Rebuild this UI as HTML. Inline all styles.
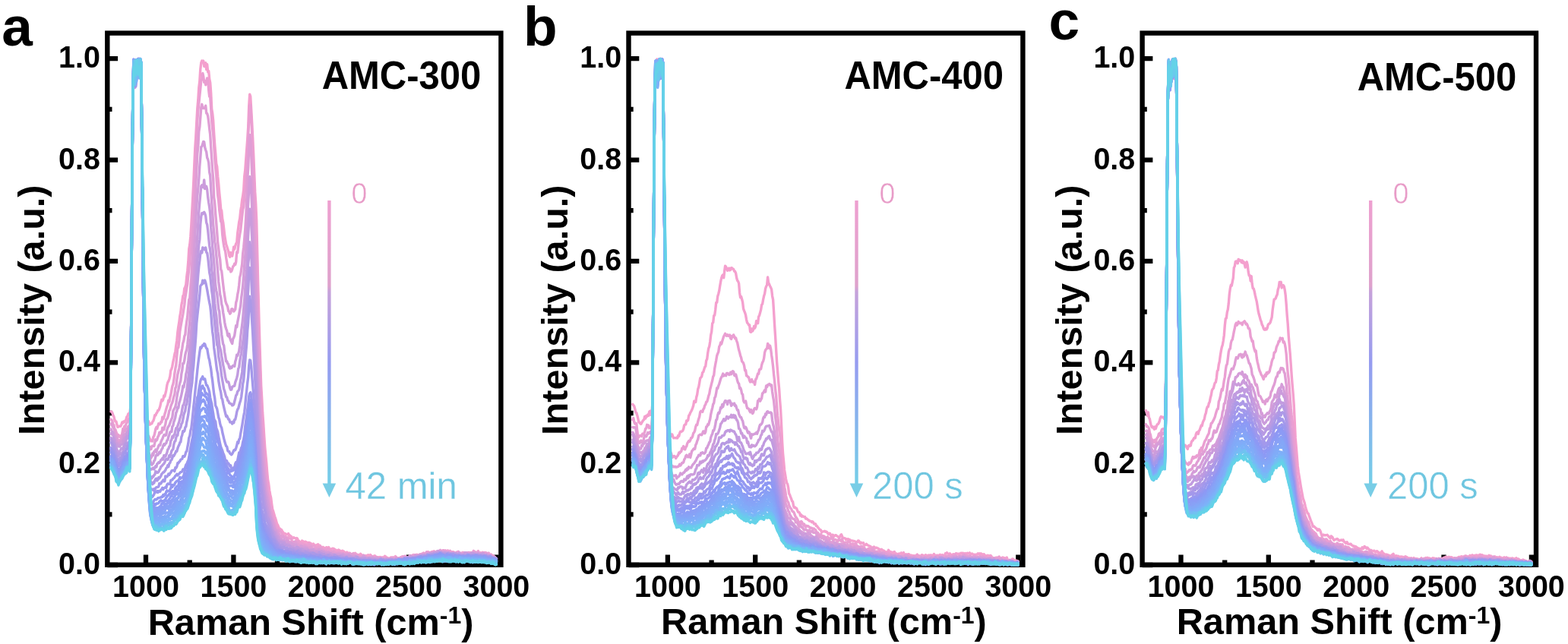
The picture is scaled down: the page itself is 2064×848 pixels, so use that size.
<!DOCTYPE html>
<html lang="en"><head><meta charset="utf-8"><title>Raman spectra of AMC-300, AMC-400 and AMC-500</title>
<style>
html,body{margin:0;padding:0;background:#fff;overflow:hidden}
svg{display:block;font-family:"Liberation Sans",sans-serif}
.c path{fill:none;stroke-width:34;stroke-linejoin:round;stroke-linecap:round}
.tl{font-size:39.5px;font-weight:700;fill:#000}
.ax{font-size:48.7px;font-weight:700;fill:#000}
.ay{font-size:48.6px}
.sup{font-size:32px}
.pl{font-size:73px;font-weight:700;fill:#000}
.ti{font-size:49px;font-weight:700;fill:#000}
.t0{font-size:37.5px;fill:#e89cc8}
.t1{font-size:49px;fill:#6fc6e0}
</style></head><body>
<svg width="2064" height="848" viewBox="0 0 2064 848">
<defs><linearGradient id="ag" x1="0" y1="0" x2="0" y2="1"><stop offset="0" stop-color="#eea0d0"/><stop offset="0.30" stop-color="#dea2cc"/><stop offset="0.32" stop-color="#c6a2da"/><stop offset="0.57" stop-color="#969cf0"/><stop offset="1" stop-color="#74cfe8"/></linearGradient></defs>
<rect width="2064" height="848" fill="#fff"/>
<g id="panel-a">
<rect x="141.3" y="43.6" width="518.1" height="700.2" fill="none" stroke="#000" stroke-width="6.4"/>
<path d="M141.3 744.0h13.8M141.3 677.3h6.2M141.3 610.6h13.8M141.3 544.0h6.2M141.3 477.3h13.8M141.3 410.6h6.2M141.3 343.9h13.8M141.3 277.2h6.2M141.3 210.6h13.8M141.3 143.9h6.2M141.3 77.2h13.8M192.0 743.8v-13.4M249.7 743.8v-6.2M307.4 743.8v-13.4M365.0 743.8v-6.2M422.7 743.8v-13.4M480.4 743.8v-6.2M538.0 743.8v-13.4M595.7 743.8v-6.2M653.4 743.8v-13.4" fill="none" stroke="#000" stroke-width="6.3"/>
<g class="c" transform="scale(.1)">
<path stroke="#f4a0ce" d="M1459 5420l10 0 10 19 10 30 10 18 10 41 10 21 10 0 10 42 10 32 10-2 10-5 9-7 10 4 10-22 10-32 10 11 10-21 10 7 10-17 10-9 10-42 10-7 10-30 10-9 10 4 10-85 10-1250 10-1592 10-1203 10-398 10-94 10 34 10-3 10-17 10 190 10-254 10 19 10-3 10 69 10-33 10 1039 10 1140 10 996 10 761 10 350 10 254 10 114 10 69 10-11 10 13 10 41 10-4 10-11 10 1 10-25 10-11 10-32 10-43 10 4 10-27 10-12 10-28 10 0 10-24 10-30 10-48 10-39 10 15 10-18 10-51 10 12 10-40 10-43 10-64 10-38 10-16 10-28 10-36 10-77 10-19 10-36 10-58 10-46 10-53 10-39 10-79 10-65 10-106 10-76 10-58 10-81 10-51 10-94 10-50 10-71 10-15 10-83 10-19 10-36 10-105 10-77 10-117 10-170 10-54 10-102 10-154 10-187 10-184 10-198 10-230 10-217 10-151 10-193 10-179 10-111 10-163 10-81 10-162 10-82 10-27 10 16 9-15 10 72 10 3 10-50 10 90 10-68 10 101 10-13 10 106 10 46 10 137 10 210 10 59 10 96 10 171 10 144 10 115 10 133 10 41 10 128 10 95 10 120 10 100 10 115 10 22 10 104 10 50 10 83 10 90 10 59 10 57 10 28 10 36 10 29 10 57 10 17 10-60 10 33 10 14 10-49 10-71 10 31 10-41 10-33 10-17 10-120 10-72 10-76 10-47 10-100 10-58 10-85 10-57 10-75 10-176 10-82 10-140 10-134 10-132 10-161 10-278 10-157 10 29 10 172 10 179 10 195 10 215 10 249 10 244 10 150 10 232 10 411 10 432 10 364 10 350 10 321 10 291 10 168 10 197 10 133 10 162 10 148 10 107 10 102 10 127 10 104 10 51 10 83 10 57 10 43 10 79 10 69 10 26 10 36 10 36 10 26 10 35 10 36 10 13 10 25 10 27 10-3 10 11 10 5 10 21 10 11 10 12 10 9 10-4 10 12 9-3 10 2 10-13 10 31 10-6 10 10 10 6 10 20 10 1 10-10 10 7 10 3 10 7 10-9 10 10 10 29 10-1 10 15 10 22 10-16 10-23 10 4 10 16 10 6 10-15 10 4 10 5 10 4 10 3 10-4 10 2 10 6 10 16 10-6 10 10 10-11 10 20 10-1 10 0 10 14 10-22 10-5 10 17 10-2 10 4 10 32 10-12 10-1 10 0 10 12 10 0 10 0 10-11 10 4 10 7 10-11 10 17 10 7 10 18 10-22 10-3 10 0 10 4 10 8 10 4 10 7 10 4 10 1 10-12 10 5 10 9 10 10 10 6 10-17 10 4 10 6 10 8 10 12 10-3 10-9 10 9 10 3 10 3 10-1 10 16 10-4 10 5 10-12 10 10 10-6 10-11 10 13 10 10 10-2 10 2 10 10 10-7 10-16 10 13 10 7 10 11 10-6 10 12 10 5 10-19 10 12 10-12 10-8 10 8 10 1 10-11 9 14 10 11 10 12 10-7 10-15 10-2 10 17 10 7 10 1 10-7 10 2 10-2 10-2 10 5 10 1 10-2 10 2 10-3 10-14 10 6 10 7 10 19 10-9 10 16 10 3 10-18 10-7 10 5 10 16 10-5 10 1 10-11 10-20 10 10 10 12 10 9 10-6 10-2 10 8 10-9 10 7 10-17 10-8 10-5 10 11 10-4 10 3 10 2 10 0 10 8 10 4 10-20 10 0 10-5 10-11 10 19 10-1 10-10 10-8 10 3 10-13 10 1 10 12 10 2 10-15 10-5 10 18 10-22 10-4 10-10 10 10 10 3 10 7 10-31 10 9 10-13 10 13 10-3 10 14 10-7 10-17 10 12 10-17 10-2 10 11 10-1 10-2 10-5 10 1 10 3 10-3 10 4 10 5 10-9 10-13 10 17 10-5 10 3 10 6 10-14 10 7 10-14 10 15 10-3 10 5 10 9 10-8 10 4 10-4 10 4 9 13 10-3 10-2 10-9 10 13 10-1 10 15 10-15 10 9 10 10 10-11 10-16 10 17 10 3 10-2 10 3 10-13 10 5 10 1 10-12 10 7 10-8 10 9 10 6 10 9 10-31 10 6 10-2 10 1 10-1 10 0 10-17 10 20 10 13 10 2 10 4 10-15 10-7 10 15 10 12 10-2 10-15 10 34 10-14 10 11 10-13 10 15 10 2 10 14 10 4 10-17 10 0 10 13 10 13 10 18 10-3"/>
<path stroke="#ea9fd2" d="M1459 5523l10 6 10 17 10 44 10 5 10 59 10 2 10 33 10 24 10 14 10 1 10 23 9 5 10-18 10 0 10-27 10-67 10 5 10-37 10 10 10-36 10-16 10-17 10-19 10-25 10 18 10-132 10-1278 10-1597 10-1203 10-383 10-70 10 71 10-73 10 149 10-193 10-39 10 40 10 2 10 115 10-110 10 1039 10 1142 10 1000 10 785 10 367 10 302 10 162 10 91 10 23 10 6 10 25 10 24 10 17 10-11 10 11 10-55 10-14 10-37 10-53 10-24 10 20 10-36 10-32 10 9 10-4 10-28 10 3 10-66 10 27 10-24 10-39 10-33 10-38 10-34 10-24 10-56 10 18 10-55 10-34 10-57 10-54 10-30 10-50 10-87 10-68 10-47 10-121 10-103 10-6 10-84 10-131 10-61 10-55 10-53 10-52 10-67 10-59 10-98 10-56 10-68 10-59 10-109 10-85 10-121 10-161 10-135 10-173 10-191 10-191 10-188 10-197 10-233 10-130 10-235 10-130 10-91 10-103 10-92 10-113 10-12 10-80 9 39 10 80 10-19 10 54 10-42 10-47 10 24 10 133 10 86 10 4 10 149 10 164 10 105 10 75 10 147 10 167 10 122 10 99 10 137 10 130 10 75 10 117 10 76 10 78 10 16 10 152 10 83 10 68 10 46 10 31 10 81 10 64 10 63 10 24 10-18 10 14 10 38 10-7 10-25 10-39 10-5 10-30 10 12 10-38 10-131 10 13 10-87 10-93 10-63 10-56 10-91 10-90 10-90 10-39 10-134 10-105 10-136 10-173 10-183 10-198 10-199 10-208 10 1 10 170 10 214 10 250 10 233 10 193 10 267 10 188 10 277 10 385 10 465 10 356 10 322 10 285 10 245 10 205 10 164 10 163 10 144 10 151 10 109 10 76 10 100 10 102 10 72 10 72 10 57 10 20 10 47 10 65 10 25 10 24 10 43 10 34 10 23 10 15 10 13 10 9 10 12 10 13 10 9 10 16 10 33 10 5 10 1 10 11 10-5 10 14 9 15 10-14 10 4 10 9 10-1 10 1 10 9 10 35 10-1 10 0 10 7 10-6 10-11 10 13 10 15 10-23 10 16 10 17 10-5 10-3 10 12 10-7 10 10 10 11 10-4 10-7 10 13 10-2 10 4 10-24 10 24 10-8 10 12 10 7 10-3 10-2 10-3 10 9 10 14 10 7 10-6 10-1 10-8 10 8 10-2 10-3 10 12 10 22 10 9 10 7 10-24 10 14 10-12 10 2 10-9 10 4 10 13 10 8 10 3 10 1 10 8 10 0 10-13 10 25 10-6 10 10 10-5 10-7 10 6 10-4 10 21 10-14 10 10 10-6 10 3 10 27 10-3 10-10 10-15 10 5 10 4 10 18 10-17 10-10 10 13 10 9 10 17 10-14 10-21 10 9 10 0 10 7 10 18 10-12 10 19 10 0 10-4 10-6 10 2 10 2 10 12 10 10 10-6 10 4 10 8 10 4 10-4 10 10 10 1 10 3 10-14 9-8 10-17 10 23 10 4 10-12 10 5 10 4 10-16 10 11 10 13 10 7 10-11 10-4 10 13 10 3 10-12 10-5 10 9 10-7 10-3 10 20 10-4 10-8 10 5 10 16 10-8 10-13 10-13 10 27 10-30 10 19 10-9 10-7 10-1 10 6 10 15 10-10 10 7 10 18 10-39 10 1 10-11 10 19 10-13 10-8 10-4 10 11 10 15 10-4 10 16 10 1 10-16 10 1 10-7 10-5 10-22 10-5 10 9 10-9 10 13 10 1 10-11 10 13 10-4 10 7 10-11 10-19 10 11 10-4 10 7 10 4 10 2 10-25 10-21 10 7 10 12 10-8 10 4 10-10 10-1 10-1 10-5 10 7 10 1 10 12 10-8 10 5 10-10 10 2 10-9 10-7 10 13 10 1 10 1 10-14 10-15 10 1 10 13 10-11 10 24 10-17 10 13 10 27 10-38 10-6 10 22 10 0 10 4 10 0 10 15 9 0 10-10 10-1 10-9 10 6 10-17 10 20 10 0 10 20 10 2 10-22 10 11 10-9 10 1 10 10 10-3 10 1 10-1 10-11 10-5 10 9 10 7 10-8 10 0 10-11 10-19 10 7 10 11 10 6 10 9 10 5 10 3 10-5 10-1 10-11 10 6 10 3 10 11 10-19 10 3 10-8 10 7 10-2 10 17 10 1 10-16 10 30 10-6 10-5 10 11 10 4 10 0 10 20 10 2 10 15 10 7"/>
<path stroke="#e09ed5" d="M1459 5587l10-12 10 35 10 18 10 18 10 22 10 64 10-1 10 4 10 54 10 31 10-21 9-2 10 17 10-52 10-23 10-10 10-59 10-3 10 6 10-24 10-1 10-11 10-24 10 9 10 5 10-193 10-1316 10-1598 10-1203 10-466 10 4 10 42 10 57 10-63 10 110 10-225 10-2 10 14 10 110 10-71 10 1039 10 1142 10 1003 10 792 10 378 10 347 10 172 10 103 10 65 10 32 10 23 10-40 10 32 10-36 10-8 10 2 10 2 10-45 10-42 10 14 10-13 10-37 10-14 10-43 10 13 10-22 10 9 10-63 10 8 10 18 10-41 10-31 10-63 10-4 10-22 10-37 10-52 10-11 10-45 10-30 10-20 10-38 10-42 10-28 10-83 10-17 10-91 10-70 10-43 10-39 10-62 10-75 10-73 10-54 10-70 10-28 10-62 10-21 10-101 10-73 10-66 10-120 10-101 10-19 10-154 10-109 10-223 10-258 10-144 10-191 10-195 10-218 10-204 10-208 10-91 10-200 10-58 10-126 10-132 10-42 10 42 9 10 10 1 10-4 10-30 10 100 10 3 10 35 10 72 10 94 10 77 10 167 10 153 10 155 10 109 10 245 10 71 10 140 10 119 10 128 10 138 10 71 10 92 10 57 10 128 10 24 10 88 10 88 10 81 10 68 10 65 10 36 10 19 10 25 10 56 10 9 10 27 10-12 10-51 10-1 10 10 10 22 10-11 10-15 10-91 10-34 10-70 10-48 10-76 10-106 10-33 10-70 10-71 10-139 10-77 10-108 10-128 10-156 10-235 10-284 10-127 10-282 10-165 10 82 10 182 10 242 10 243 10 166 10 332 10 202 10 223 10 305 10 349 10 361 10 323 10 291 10 258 10 260 10 117 10 96 10 131 10 134 10 160 10 96 10 89 10 71 10 44 10 73 10 52 10 70 10 32 10 35 10 46 10 39 10 6 10 50 10 30 10 22 10-2 10 0 10 26 10 30 10 16 10-2 10 22 10-10 10-1 10 17 10 5 10 4 10-3 9 27 10-7 10 14 10 13 10 0 10 4 10 12 10 13 10 2 10-21 10-13 10 9 10 1 10 18 10 6 10 1 10 15 10 8 10-5 10 3 10 10 10-8 10 5 10-9 10 7 10 8 10 0 10 5 10 8 10 2 10-8 10-2 10-5 10 27 10 1 10 2 10-4 10 6 10 4 10-9 10 3 10 15 10-16 10-2 10 14 10-5 10 13 10-10 10 9 10 11 10 2 10 6 10-6 10-1 10 2 10 8 10 33 10-19 10 11 10-14 10-13 10 3 10 8 10 3 10 2 10 6 10 4 10 5 10-15 10 5 10-6 10 9 10 2 10 4 10-3 10-4 10 5 10 11 10 7 10-18 10 10 10 6 10-13 10-1 10 5 10 12 10-19 10 11 10 3 10 9 10 16 10 8 10-12 10-4 10 4 10 11 10 8 10-5 10 8 10-16 10-9 10-19 10 10 10 18 10 11 10 28 10-12 10-9 10-13 10-3 10 0 9 3 10-2 10-7 10 19 10 3 10 11 10-22 10-6 10 2 10 18 10-3 10 2 10-1 10 2 10-5 10 6 10-8 10 2 10 6 10 1 10 3 10-9 10 6 10-3 10 5 10 12 10-16 10 11 10-11 10-3 10 17 10 1 10-3 10 1 10 3 10-15 10 1 10-5 10 4 10-5 10 6 10-4 10-8 10 0 10 4 10 7 10-9 10-7 10 1 10 5 10-11 10-23 10 13 10 0 10-2 10 24 10-14 10 0 10-19 10 4 10 6 10-3 10-6 10 3 10-4 10 9 10-7 10-13 10-17 10 2 10 4 10-8 10-3 10-8 10 0 10 9 10 0 10-1 10-2 10-2 10 7 10 14 10-7 10 8 10-17 10-8 10 12 10-18 10-10 10 3 10-14 10-8 10 24 10-9 10 1 10 2 10-4 10 14 10 6 10 5 10 3 10-5 10 12 10 2 10-13 10 1 10-3 10 20 10-1 10-1 9-5 10 3 10-11 10 4 10 1 10 1 10-5 10 8 10-11 10 1 10 3 10 3 10-4 10-6 10-2 10 4 10-3 10 5 10-8 10 8 10 22 10-21 10 1 10 12 10-3 10 4 10-25 10 3 10 20 10-10 10 4 10-19 10 18 10 19 10-12 10 0 10 1 10 17 10-14 10-16 10 27 10-14 10 11 10-19 10 10 10 12 10-4 10 5 10 14 10-3 10 11 10 19 10-23 10 14 10 10 10-1"/>
<path stroke="#d59dd9" d="M1459 5650l10 18 10 17 10 8 10 16 10 46 10-5 10 38 10 49 10-8 10 30 10-14 9-7 10-17 10-14 10-4 10-22 10-54 10 37 10-30 10-31 10 1 10 0 10-60 10 20 10-28 10-166 10-1348 10-1601 10-1204 10-390 10 112 10-77 10-124 10 211 10-249 10 27 10 47 10 28 10-77 10 2 10 1039 10 1142 10 1004 10 795 10 386 10 345 10 201 10 94 10 79 10 41 10 37 10 54 10-16 10-16 10-41 10 23 10-49 10 1 10-25 10 32 10-36 10-16 10-32 10-14 10 6 10-41 10-24 10-18 10-26 10-24 10-4 10 10 10-8 10-63 10-31 10-18 10-13 10-30 10-29 10-24 10-22 10-81 10-22 10-18 10-20 10-45 10-75 10-62 10-36 10-50 10-43 10-30 10-90 10-48 10-92 10 1 10-41 10-71 10-41 10-30 10-65 10-102 10-105 10-97 10-137 10-137 10-141 10-161 10-169 10-200 10-213 10-174 10-180 10-143 10-100 10-122 10-170 10-118 10-134 10-6 10-33 9-30 10 4 10 71 10 35 10 26 10 76 10 21 10 43 10 128 10 43 10 184 10 163 10 145 10 154 10 104 10 120 10 61 10 111 10 103 10 118 10 134 10 71 10 98 10 40 10 87 10 38 10 73 10 58 10 68 10 55 10 34 10 25 10 61 10 12 10-32 10 55 10 31 10 21 10 20 10-63 10-16 10-28 10-65 10-66 10 22 10-67 10-51 10-51 10-58 10-52 10-109 10-74 10-85 10-129 10-126 10-130 10-153 10-215 10-164 10-164 10-194 10-162 10 48 10 145 10 215 10 284 10 200 10 206 10 227 10 258 10 240 10 359 10 361 10 282 10 236 10 203 10 173 10 145 10 134 10 107 10 116 10 97 10 103 10 53 10 46 10 60 10 46 10 62 10 57 10 36 10 16 10 28 10 47 10 18 10 36 10 6 10 23 10 30 10 8 10 28 10 20 10 20 10-4 10 5 10 6 10 9 10-11 10 17 10 13 10-11 9-4 10 11 10 28 10 3 10-8 10 4 10-11 10 25 10-7 10 11 10-12 10 10 10-5 10 15 10 16 10 6 10 0 10 5 10-17 10-8 10 9 10 17 10 1 10 7 10-16 10 5 10 2 10 10 10 21 10-1 10 4 10-11 10-1 10 9 10 2 10-17 10 17 10 9 10-2 10 5 10 1 10-8 10-13 10 27 10-2 10-1 10 2 10 3 10 3 10-9 10 10 10 3 10 1 10 0 10 4 10-8 10 6 10 3 10 4 10 11 10 5 10 5 10-8 10 5 10 7 10-8 10-6 10 20 10-22 10 6 10 5 10-8 10 7 10 9 10-20 10 22 10 1 10-7 10 15 10-1 10-4 10-19 10 21 10 3 10-4 10 4 10 14 10-7 10 0 10-2 10-6 10-1 10 5 10 4 10 15 10-1 10-3 10 5 10-2 10 8 10-16 10-13 10 18 10 1 10 7 10-10 10 4 10 5 10 5 10 0 10 10 9-10 10 8 10-7 10 1 10-8 10 6 10-5 10 14 10-6 10 5 10-2 10 1 10-7 10 23 10-10 10 12 10-18 10 20 10 0 10 6 10-26 10 14 10-6 10 3 10 13 10-7 10-12 10 2 10-9 10 7 10 0 10 3 10-5 10-16 10 6 10 3 10 9 10 4 10-18 10 14 10 4 10-6 10-1 10-21 10 27 10-13 10-9 10 11 10-1 10-10 10-16 10 14 10 11 10-19 10-14 10 9 10 20 10-25 10 3 10-12 10 4 10 4 10 2 10-18 10-8 10 27 10 1 10-25 10 7 10 12 10-9 10-4 10-3 10 1 10-2 10-1 10-9 10 6 10-4 10-4 10-16 10 0 10 3 10-5 10-2 10-8 10 1 10-12 10-2 10 12 10 8 10-8 10-1 10 6 10 15 10 11 10-15 10-10 10-4 10 18 10-13 10 9 10-3 10-1 10 11 10 4 10 16 10-2 10 7 10-16 9-3 10-9 10 2 10 10 10-4 10 5 10-7 10 0 10 12 10-4 10-2 10 2 10-10 10-12 10 13 10 6 10 19 10-10 10-2 10 14 10-15 10-10 10 7 10 0 10 5 10-13 10 14 10-4 10-23 10 7 10-1 10 6 10 11 10-5 10-5 10 11 10-6 10-10 10-2 10 25 10 7 10 11 10-18 10-2 10 0 10 16 10 11 10-4 10 0 10 10 10-2 10-3 10 5 10 15 10 19 10-5"/>
<path stroke="#cb9cdc" d="M1459 5708l10 10 10-31 10 46 10 24 10 24 10 54 10 15 10-9 10 21 10 17 10 2 9 0 10-24 10-1 10-5 10-21 10-34 10-15 10-22 10 24 10-52 10-49 10-5 10 30 10 26 10-218 10-1390 10-1604 10-1204 10-483 10 286 10 34 10-203 10-45 10-9 10-106 10 56 10-35 10 155 10-140 10 1039 10 1143 10 1004 10 799 10 393 10 367 10 213 10 142 10 63 10 47 10 29 10-2 10 43 10 14 10-12 10-9 10-32 10-9 10-43 10-25 10-6 10 8 10-20 10-19 10 13 10-25 10-25 10-12 10-37 10-20 10 13 10-20 10-5 10-37 10-5 10-44 10-24 10-33 10-10 10 3 10-68 10-13 10-50 10-25 10-36 10-59 10-21 10-51 10 8 10-63 10-30 10-38 10-41 10-47 10-69 10 17 10-55 10-35 10-85 10-39 10-76 10-60 10-100 10-110 10-80 10-116 10-105 10-185 10-196 10-146 10-216 10-104 10-136 10-156 10-165 10-152 10-118 10-104 10-110 10-12 10 20 9 9 10-99 10 116 10-1 10-31 10 44 10 101 10 70 10 60 10 83 10 186 10 113 10 133 10 106 10 106 10 153 10 150 10 68 10 44 10 95 10 101 10 36 10 142 10 58 10 100 10 69 10 60 10 20 10 89 10 54 10 65 10-2 10 31 10 7 10 45 10 12 10-21 10 14 10-16 10-15 10-1 10 12 10-64 10-31 10-57 10 12 10-31 10-31 10-74 10-114 10-82 10-72 10-93 10-124 10-104 10-151 10-159 10-108 10-200 10-245 10-195 10-149 10 37 10 166 10 175 10 236 10 260 10 300 10 186 10 243 10 283 10 246 10 279 10 281 10 187 10 190 10 174 10 99 10 118 10 92 10 100 10 87 10 46 10 76 10 57 10 47 10 32 10 42 10 26 10 48 10 46 10 29 10 24 10 34 10 13 10-2 10 34 10 16 10 2 10 28 10 20 10 17 10-3 10 0 10 10 10 6 10-7 10 4 10 26 10 1 9 2 10-3 10 10 10 10 10 5 10 16 10-7 10 3 10-6 10 12 10 2 10 7 10 6 10-13 10 7 10-4 10 14 10-3 10 17 10-3 10 1 10-9 10 1 10 5 10-6 10 5 10 0 10-1 10 9 10 7 10-2 10 7 10-3 10-7 10 1 10 12 10 15 10-3 10 0 10-11 10 11 10 3 10-5 10 9 10 2 10-15 10-3 10 7 10 7 10 16 10-6 10 3 10 0 10 8 10 0 10 3 10-3 10-10 10 6 10 22 10 4 10 8 10-2 10-13 10-3 10 8 10-3 10 9 10 10 10 6 10-2 10-20 10 16 10-15 10-7 10 11 10 5 10 8 10-1 10-6 10 4 10-6 10-4 10 6 10 4 10 6 10 0 10 13 10-7 10 0 10 10 10-22 10 19 10 8 10-6 10 17 10-1 10 6 10-1 10-8 10-7 10-9 10-1 10-4 10 5 10 11 10-8 10 11 10 6 10-16 10 0 9 5 10-2 10-2 10 19 10-2 10 9 10-7 10 4 10-16 10 1 10 12 10-1 10 10 10-6 10-7 10-1 10 19 10-5 10-9 10-3 10-8 10 17 10-7 10 6 10-4 10-4 10-4 10 9 10-3 10 10 10 7 10-14 10-2 10 13 10-1 10-9 10-17 10-4 10 0 10 21 10-5 10-8 10-4 10-3 10 4 10-16 10-6 10 10 10 11 10-22 10 12 10-11 10-12 10 18 10-3 10 3 10-8 10-2 10-17 10 4 10 6 10-9 10 8 10 4 10-23 10 17 10 3 10-4 10 7 10 12 10-24 10 5 10-2 10-3 10 3 10 1 10-12 10-27 10 2 10 0 10 19 10-6 10 7 10-16 10 2 10-3 10-1 10 4 10 9 10-15 10 11 10 3 10-7 10 1 10-8 10-10 10 2 10 3 10 3 10-6 10 23 10-9 10 8 10 7 10-7 10 1 10-8 10-7 10 28 10-7 9-21 10 1 10-4 10 10 10 19 10 6 10-13 10-9 10 12 10 1 10-5 10 16 10-5 10-20 10-15 10 14 10-11 10 16 10 10 10 17 10-21 10 2 10-24 10 8 10 4 10 20 10-21 10 8 10 1 10 19 10-20 10-9 10 10 10-1 10-3 10-6 10 6 10-11 10 15 10 11 10 5 10 23 10-4 10-16 10 0 10 12 10-3 10 21 10-4 10-7 10-3 10 14 10-6 10-9 10 18 10 0"/>
<path stroke="#c19be0" d="M1459 5764l10 17 10-1 10-13 10 19 10 57 10 33 10 6 10 38 10 21 10 7 10 30 9-37 10-19 10-20 10 7 10-12 10-18 10-32 10-20 10-21 10-47 10-19 10 25 10 15 10-28 10-211 10-1416 10-1604 10-1204 10-524 10 226 10-13 10 110 10-276 10-18 10 186 10-32 10 27 10-131 10-45 10 1039 10 1143 10 1006 10 802 10 395 10 375 10 236 10 167 10 125 10 36 10 25 10 10 10-11 10 5 10-15 10-4 10 18 10-21 10-21 10 13 10-42 10-6 10-14 10 6 10-18 10-19 10-7 10-17 10 18 10-54 10 4 10 9 10-25 10-24 10-43 10-7 10-33 10-7 10-66 10-15 10-43 10 16 10-36 10-5 10-46 10-40 10 2 10-26 10-30 10-26 10-45 10-35 10-26 10-59 10-53 10-9 10-40 10-53 10-46 10-42 10-85 10-81 10-79 10-70 10-136 10-121 10-88 10-134 10-180 10-120 10-180 10-161 10-131 10-148 10-90 10-127 10-63 10-202 10-104 10-41 10 10 9-15 10-8 10 18 10 29 10 91 10 26 10 78 10 102 10 97 10 59 10 86 10 179 10 57 10 99 10 154 10 123 10 94 10 63 10 105 10 108 10 57 10 121 10 43 10 34 10 71 10 56 10 60 10 46 10 56 10 66 10 34 10 25 10-5 10 2 10 35 10 46 10 23 10-2 10-37 10-4 10-6 10-2 10-47 10-28 10-29 10-42 10-78 10-24 10-79 10-60 10-41 10-83 10-68 10-76 10-118 10-118 10-179 10-165 10-184 10-187 10-95 10-192 10 55 10 107 10 216 10 180 10 176 10 280 10 193 10 216 10 314 10 244 10 266 10 223 10 200 10 114 10 169 10 132 10 80 10 68 10 79 10 73 10 73 10 37 10 51 10 55 10 39 10 32 10 19 10 29 10 39 10 29 10 25 10 5 10 39 10 14 10 11 10 30 10 9 10 10 10 16 10 2 10 0 10 2 10 16 10 7 10-15 10 29 10 2 10-3 9 8 10 1 10 7 10-1 10-4 10 15 10 4 10 6 10 7 10 1 10 12 10-10 10-13 10-4 10 3 10 24 10-11 10 18 10 2 10-15 10 22 10-7 10 3 10 7 10 11 10-6 10 7 10-10 10-5 10 22 10 4 10 0 10 10 10 4 10-8 10 0 10 14 10-3 10-10 10 12 10 4 10-20 10-6 10 25 10 10 10-10 10 10 10-3 10 1 10-7 10 25 10 9 10-4 10-21 10 2 10 16 10-12 10-6 10 6 10 4 10-4 10-8 10 7 10 0 10 7 10 6 10 8 10-5 10 3 10 1 10-9 10 1 10-3 10 21 10-8 10 7 10 5 10 4 10-16 10-3 10 13 10 10 10-5 10 3 10-17 10 20 10 14 10-8 10-5 10-2 10-7 10-13 10 15 10 10 10 15 10-10 10-9 10 6 10-10 10 7 10-10 10 7 10 15 10 4 10 10 10 6 10-14 10-11 10-14 10 11 10 7 9 11 10-13 10 0 10 8 10-7 10-2 10 21 10-13 10-1 10 5 10 2 10-17 10-6 10-5 10 24 10 7 10-11 10 14 10 2 10 10 10-26 10-6 10 3 10 3 10 7 10 3 10-7 10 7 10-13 10 9 10 7 10-16 10 5 10-4 10 6 10 18 10-16 10 9 10-18 10 14 10 9 10-16 10-9 10-2 10 10 10-15 10 13 10-4 10 1 10-5 10-13 10 6 10-9 10-6 10 17 10 2 10-7 10-2 10-10 10 14 10-18 10-9 10 3 10 11 10-8 10 1 10-11 10 1 10-8 10 6 10-15 10 25 10-1 10-15 10 10 10-17 10 9 10-9 10 4 10-3 10-8 10-3 10 1 10-24 10 8 10 12 10-13 10-5 10-6 10-9 10 21 10-9 10-5 10 8 10 2 10 31 10-8 10-25 10 22 10-1 10-7 10-5 10-12 10 27 10-4 10-8 10 16 10-3 10-19 10-2 9 6 10 32 10-7 10-8 10 3 10-1 10-28 10 17 10 14 10-4 10 3 10 1 10-1 10-9 10 1 10 13 10-4 10-7 10 5 10-12 10-2 10 14 10-5 10-17 10-4 10 12 10-3 10 13 10 13 10-13 10-2 10-4 10 3 10-1 10 7 10-5 10-4 10 7 10-3 10 23 10 3 10-18 10-8 10 11 10 9 10 17 10-6 10-5 10 20 10-7 10-1 10 2 10 17 10-5 10 18 10-16"/>
<path stroke="#b79ae3" d="M1459 5784l10 12 10 12 10 17 10 20 10 6 10 87 10 13 10 10 10 3 10 39 10-11 9-22 10 1 10 15 10-26 10-10 10-44 10-6 10-53 10-9 10 1 10-10 10 6 10-17 10-21 10-235 10-1435 10-1606 10-1204 10-434 10-33 10 152 10 0 10-50 10 10 10-95 10-57 10 158 10-185 10 44 10 1039 10 1143 10 1006 10 803 10 399 10 382 10 243 10 191 10 124 10 56 10 63 10 0 10 23 10 1 10-27 10 5 10-22 10-6 10-42 10 3 10 12 10-1 10-9 10-24 10-16 10-27 10-8 10-10 10-14 10-8 10-18 10-25 10-20 10 1 10 10 10-20 10-36 10 17 10-34 10-41 10-15 10-9 10-64 10-38 10-6 10-45 10-36 10 7 10-78 10 9 10-25 10-14 10-44 10-12 10-46 10-58 10-31 10-27 10-71 10-15 10-75 10-48 10-75 10-79 10-91 10-97 10-101 10-131 10-163 10-142 10-127 10-150 10-141 10-151 10-132 10-110 10-75 10-95 10-35 10 26 10-71 9 17 10-5 10 18 10-28 10 62 10 10 10 61 10 94 10 100 10 46 10 95 10 99 10 76 10 133 10 116 10 111 10 89 10 93 10 95 10 19 10 133 10 51 10 54 10 66 10 86 10 55 10 57 10 60 10 28 10 39 10 36 10 5 10 45 10 3 10 30 10 1 10 10 10 1 10 18 10-3 10-10 10-37 10-40 10-42 10-11 10-40 10-9 10-16 10-61 10-64 10-46 10-59 10-125 10-86 10-85 10-205 10-130 10-136 10-174 10-132 10-234 10-69 10 33 10 112 10 197 10 136 10 257 10 210 10 183 10 194 10 258 10 270 10 217 10 229 10 178 10 146 10 138 10 94 10 74 10 71 10 81 10 65 10 66 10 28 10 56 10 2 10 25 10 35 10 46 10 40 10 14 10 31 10 23 10 34 10 6 10 29 10 10 10 30 10 9 10-2 10 14 10 10 10-4 10 9 10-6 10 35 10-11 10-1 10 21 10 9 9-15 10 14 10 4 10-9 10 7 10-3 10 13 10-4 10-8 10 5 10 27 10-13 10 1 10 10 10-15 10 24 10-22 10 15 10-13 10 11 10 17 10-4 10-3 10-2 10-4 10 16 10-4 10-3 10 9 10 11 10 6 10-12 10-5 10 14 10 11 10-17 10 19 10-7 10 7 10 12 10-10 10-1 10-15 10-13 10 17 10-2 10-1 10 15 10 11 10-17 10 11 10 3 10 4 10 1 10 6 10-9 10-8 10 12 10 15 10-5 10 12 10-2 10-16 10-17 10 11 10 18 10-7 10 24 10-3 10-19 10-2 10 19 10 11 10-16 10 1 10 6 10-5 10 6 10 16 10-17 10 6 10 7 10 6 10-10 10 5 10-10 10 4 10-9 10 9 10 7 10 15 10 0 10-15 10-27 10 26 10 10 10-7 10-3 10 8 10-2 10 14 10-4 10-12 10-12 10 11 10 6 10-3 10-7 10 3 10 12 10-4 9-7 10 12 10 11 10-11 10-3 10-7 10 5 10 9 10 2 10 6 10 3 10-2 10-2 10-14 10 14 10-4 10 3 10-16 10 3 10 7 10-7 10 3 10 6 10-14 10 0 10-9 10 1 10 4 10 7 10 13 10-10 10 1 10-5 10 3 10 7 10 6 10-13 10-11 10 8 10-4 10-10 10 14 10 1 10 7 10-18 10-1 10 5 10 12 10-8 10-15 10 3 10 2 10-9 10 11 10-7 10-9 10 7 10 2 10-9 10-2 10 0 10-6 10-3 10 8 10 0 10-10 10-11 10-8 10 15 10-11 10-4 10 5 10-4 10-5 10-12 10 18 10-7 10 2 10 0 10-12 10-4 10 13 10-1 10-6 10 11 10-16 10 1 10-3 10-3 10-15 10 9 10 7 10-15 10 13 10 6 10 11 10-17 10 1 10-2 10 3 10 4 10 9 10 4 10-8 10 0 10-13 10 16 10 5 10 8 10-17 9 16 10-10 10-10 10 10 10-3 10 24 10-5 10 10 10-12 10-4 10 5 10-13 10-1 10 8 10 3 10 10 10-7 10-24 10 14 10-3 10 7 10-9 10-1 10 5 10 16 10-4 10-17 10 5 10-5 10 7 10 16 10-13 10-5 10 5 10 2 10-5 10 7 10-4 10 4 10 22 10-8 10 2 10 4 10-7 10 6 10-5 10-6 10 8 10 19 10 4 10-11 10 7 10 10 10 1 10-3 10 3"/>
<path stroke="#ac99e7" d="M1459 5828l10 3 10 40 10-10 10 46 10 5 10 36 10 44 10 35 10 14 10 6 10 6 9-25 10 9 10-25 10-20 10 8 10-40 10-3 10 9 10-37 10-32 10-38 10 5 10-24 10-5 10-262 10-1445 10-1607 10-1204 10-368 10-75 10-87 10 179 10 24 10-136 10-25 10-56 10 4 10 56 10-6 10 1039 10 1143 10 1007 10 804 10 400 10 391 10 245 10 212 10 153 10 63 10 29 10 7 10 39 10 8 10 9 10-26 10 11 10-34 10-19 10-7 10 29 10-13 10-30 10 12 10-17 10-15 10-26 10-10 10-11 10-2 10-15 10-12 10-26 10-8 10-29 10 18 10-43 10-8 10-32 10-8 10-25 10-32 10 6 10-19 10-18 10-28 10 3 10-36 10-28 10-19 10-32 10-7 10-65 10-28 10-51 10 8 10-9 10-47 10-10 10-62 10-41 10-59 10-76 10-73 10-116 10-82 10-63 10-145 10-88 10-141 10-112 10-133 10-175 10-96 10-92 10-89 10-87 10-122 10-15 10-8 10-51 9 38 10-9 10-31 10 32 10 45 10 49 10 59 10 58 10 52 10 46 10 90 10 135 10 114 10 70 10 137 10 73 10 70 10 85 10 72 10 41 10 93 10 60 10 53 10 41 10 76 10 17 10 58 10 45 10 42 10 42 10 39 10-10 10 22 10 26 10 1 10 36 10-4 10 9 10 16 10-28 10 16 10-41 10-4 10-41 10-56 10-33 10-15 10-40 10-36 10-30 10-47 10-82 10-91 10-46 10-114 10-130 10-126 10-110 10-174 10-104 10-190 10-155 10 80 10 91 10 155 10 164 10 206 10 188 10 208 10 174 10 247 10 251 10 225 10 165 10 141 10 128 10 107 10 74 10 75 10 80 10 32 10 36 10 71 10 41 10 25 10 21 10 29 10 22 10 38 10 26 10 25 10 32 10 9 10 20 10 13 10 26 10 4 10 28 10 4 10 35 10 5 10-10 10 9 10 1 10 19 10-18 10 3 10 9 10 2 10 4 9-7 10 10 10 21 10 0 10-12 10 2 10 11 10-3 10 5 10-1 10 20 10 4 10-11 10 4 10-2 10-14 10 15 10 3 10 10 10 6 10-1 10 12 10 13 10-24 10 3 10-9 10 6 10 4 10-3 10 0 10 18 10-13 10 14 10-3 10-21 10 13 10-7 10 15 10-1 10 6 10-1 10 12 10 7 10-7 10 14 10 1 10-12 10 6 10 6 10 5 10-8 10 2 10-3 10 2 10-16 10 14 10 20 10-9 10-2 10-2 10 16 10-17 10 4 10 2 10 15 10-10 10 0 10-11 10 10 10 13 10-6 10 7 10-7 10 10 10-4 10 0 10-1 10 4 10 5 10-3 10 3 10-4 10 2 10 19 10-10 10-16 10 2 10-1 10 1 10 9 10 12 10-12 10-7 10 1 10 2 10 2 10 5 10 0 10 3 10-2 10 11 10 3 10-9 10 4 10 20 10-13 10 15 10-28 10-2 10-1 10 12 9 9 10-4 10-3 10 5 10-5 10-6 10-2 10 13 10 15 10-11 10 1 10-9 10-14 10-6 10 9 10-3 10-5 10 11 10 3 10-4 10 6 10 6 10 5 10-4 10 3 10-10 10 4 10-13 10-4 10 18 10-11 10 7 10-12 10 1 10 5 10-4 10 8 10-4 10-3 10 2 10-4 10 9 10-9 10 9 10-11 10-5 10-5 10 7 10-27 10 14 10 2 10 8 10-16 10 8 10-10 10 11 10-7 10 2 10-11 10 5 10 5 10-9 10 9 10 1 10-15 10 15 10-16 10 2 10 4 10-9 10-8 10 6 10-2 10-10 10-5 10 3 10 6 10 4 10-3 10-12 10-6 10-2 10-10 10 8 10 4 10 1 10-20 10 25 10-10 10-6 10 1 10-20 10 2 10 4 10 16 10-5 10 6 10 0 10-1 10 5 10-6 10-11 10 1 10 8 10 22 10-15 10-6 10 9 10 7 10-6 9 10 10-8 10 12 10 5 10-6 10 10 10-7 10-8 10 12 10-14 10 7 10-7 10 0 10 6 10 3 10 11 10-4 10-1 10-20 10-5 10 19 10-11 10 1 10 5 10-5 10-5 10 9 10 2 10-3 10 8 10-6 10 0 10 4 10 4 10-7 10-8 10 2 10 12 10-7 10 3 10 0 10-4 10 17 10 2 10 7 10 7 10-20 10 2 10 24 10-5 10 8 10-9 10 7 10 7 10 2 10 2"/>
<path stroke="#a398eb" d="M1459 5896l10 4 10 18 10 12 10 27 10 32 10 21 10 38 10 6 10 23 10 25 10 0 9-11 10-19 10-20 10-13 10-7 10-49 10-24 10-7 10-27 10-13 10-3 10-6 10-37 10 15 10-287 10-1464 10-1608 10-1205 10-286 10 71 10-3 10 40 10-129 10-86 10 21 10 59 10-205 10 139 10-111 10 1039 10 1143 10 1007 10 806 10 401 10 397 10 256 10 213 10 181 10 91 10 54 10 30 10-5 10 0 10 4 10 13 10-20 10 9 10-19 10-11 10-1 10-1 10-6 10-43 10 6 10-2 10-22 10-8 10-18 10 17 10-1 10-67 10 8 10-1 10-13 10-24 10 13 10-20 10-10 10-21 10-8 10 0 10-1 10 14 10-49 10 5 10-20 10-45 10 2 10-20 10-5 10-22 10-7 10-2 10-36 10 0 10 5 10-24 10-38 10-9 10-55 10-50 10-74 10-24 10-69 10-32 10-83 10-99 10-102 10-93 10-100 10-90 10-93 10-103 10-89 10-76 10-73 10-65 10 14 10-23 10-17 9 7 10-28 10 5 10 33 10 24 10 5 10 61 10 57 10 33 10 62 10 53 10 87 10 67 10 93 10 84 10 52 10 101 10 18 10 25 10 55 10 56 10 28 10 57 10 33 10 19 10 57 10 41 10 43 10 39 10 32 10 29 10 7 10 52 10 12 10-1 10 28 10 4 10 12 10-14 10-18 10-25 10-8 10 4 10-27 10-34 10-47 10 16 10-50 10-8 10-67 10-52 10-54 10-65 10-60 10-52 10-90 10-112 10-83 10-97 10-77 10-154 10-75 10 7 10 77 10 130 10 118 10 112 10 146 10 142 10 164 10 278 10 184 10 142 10 104 10 144 10 109 10 58 10 54 10 45 10 25 10 49 10 60 10 18 10 19 10 16 10 17 10 28 10 29 10 30 10 34 10 15 10 4 10 15 10 2 10 29 10 33 10-4 10 2 10 25 10 20 10-3 10-3 10 18 10 3 10 7 10 9 10 7 10-8 10 3 10 6 9 21 10-27 10 13 10 0 10 10 10-8 10 15 10-7 10 1 10-8 10 15 10 4 10-1 10-20 10 23 10-3 10 7 10-4 10-3 10 3 10 2 10 1 10 9 10 2 10 14 10-4 10 3 10-3 10-8 10 0 10 0 10-5 10 28 10-10 10 0 10 1 10 12 10-10 10-9 10-2 10 9 10-2 10-2 10-8 10 2 10 11 10 6 10 2 10 2 10 7 10-7 10 10 10 6 10-6 10 5 10 1 10 16 10-16 10 0 10 1 10-3 10 1 10 8 10-18 10 13 10-6 10-9 10 17 10 2 10 9 10-11 10 8 10 10 10-15 10-3 10 14 10-11 10 4 10-18 10 0 10 20 10 7 10 8 10-4 10 0 10-6 10 3 10 15 10 2 10-17 10-5 10 9 10 4 10 2 10 0 10 15 10-15 10 7 10-3 10 21 10-13 10-15 10 23 10-20 10 0 10 10 10 12 10-17 10 0 10-3 10 6 9 7 10-10 10 11 10-11 10 17 10 2 10 5 10-20 10 16 10 2 10-13 10-3 10-17 10-4 10 8 10 3 10 22 10 2 10-3 10-3 10 8 10 0 10-1 10-16 10-2 10 5 10 2 10-4 10 6 10-2 10 12 10-15 10-10 10 1 10-2 10 0 10-14 10 8 10 16 10 4 10-13 10-10 10-2 10-3 10 4 10 14 10 0 10 8 10-9 10 3 10-12 10-4 10 13 10-18 10-9 10 13 10-8 10-10 10 4 10-9 10 0 10-8 10 3 10 4 10-5 10-5 10 1 10 6 10 5 10-2 10 0 10-8 10-4 10-1 10-2 10-3 10-15 10-4 10 12 10-4 10 4 10-1 10 0 10 2 10 7 10 12 10-19 10-17 10 10 10-8 10 4 10-4 10 7 10-1 10-2 10 19 10-13 10-3 10 20 10-18 10-2 10-2 10-2 10 7 10 9 10-1 10 0 10-22 10-6 10 17 9 8 10-2 10-3 10 10 10 8 10-22 10-2 10 21 10 12 10-3 10-10 10-8 10 5 10 13 10-10 10-8 10 1 10 5 10-7 10 2 10 11 10-6 10 9 10-16 10-2 10 11 10-5 10-11 10 24 10-7 10-18 10 20 10-3 10 9 10-7 10 18 10 2 10-7 10-8 10-5 10-1 10-6 10 3 10 3 10 17 10 2 10-27 10-2 10 13 10 8 10 3 10 15 10-11 10 16 10 7 10-14"/>
<path stroke="#9c98ee" d="M1459 5912l10 24 10 10 10 17 10 19 10 33 10 32 10-1 10 46 10 30 10 14 10-14 9-12 10-23 10 16 10-25 10-17 10-16 10-24 10 13 10-39 10-26 10 7 10-18 10-28 10 25 10-337 10-1488 10-1608 10-1205 10-484 10 17 10 184 10-37 10-92 10 39 10-87 10 98 10-142 10 9 10 5 10 1039 10 1144 10 1006 10 807 10 402 10 399 10 264 10 222 10 193 10 113 10 66 10 17 10 28 10 0 10 15 10-17 10-15 10-34 10 1 10 3 10-15 10 21 10-20 10 8 10 1 10-26 10-5 10-21 10 22 10-18 10-3 10-11 10 10 10-40 10-14 10 4 10 2 10-10 10-40 10-3 10-3 10-17 10-6 10-11 10-18 10-8 10-16 10 17 10-15 10-6 10-14 10-8 10-1 10-9 10-27 10 2 10 4 10-34 10-31 10-11 10-27 10-20 10-43 10-67 10-57 10-49 10-53 10-43 10-93 10-89 10-98 10-107 10-58 10-74 10-22 10-80 10-55 10-57 10-28 10-10 10-22 9 36 10-4 10-1 10 46 10 39 10 0 10 26 10 26 10 37 10 72 10 45 10 38 10 71 10 59 10 68 10 21 10 14 10 85 10 24 10 31 10 59 10 44 10 51 10 39 10 24 10 23 10 36 10 20 10 34 10 48 10-7 10 9 10 39 10-10 10 21 10 20 10-13 10 57 10 12 10-32 10-8 10-4 10-48 10-20 10 1 10-24 10-50 10-52 10 16 10-47 10-33 10-18 10-59 10-33 10-64 10-102 10-69 10-79 10-75 10-74 10-101 10-42 10-13 10 33 10 114 10 102 10 90 10 108 10 159 10 166 10 215 10 163 10 143 10 88 10 80 10 79 10 29 10 45 10 37 10 30 10 13 10 44 10 51 10 22 10 23 10 27 10 15 10 17 10 22 10 23 10 9 10 36 10 2 10 16 10 10 10 34 10-17 10 28 10 9 10-6 10 12 10 6 10 22 10-4 10-6 10-5 10 8 10 1 10 0 10 11 9 8 10-20 10 18 10-10 10 8 10-8 10 16 10-2 10 2 10 7 10-1 10 10 10 0 10 3 10-8 10 5 10 15 10-1 10-3 10 7 10-15 10 2 10-2 10 14 10 3 10-9 10 17 10-7 10 0 10 6 10-2 10 10 10-6 10 11 10 6 10-20 10 10 10 17 10-18 10 7 10 28 10-17 10-16 10-1 10-12 10 11 10 0 10 14 10-3 10-13 10 4 10 5 10 21 10-3 10 6 10-14 10 7 10-5 10 9 10-20 10 18 10-3 10-22 10 12 10 14 10-5 10-5 10-1 10 24 10-7 10 17 10-26 10 4 10 7 10-6 10-1 10 15 10-18 10 9 10 17 10-18 10-10 10-1 10 6 10 15 10-8 10-11 10 4 10-4 10 18 10-6 10-2 10 20 10 11 10-3 10-7 10-7 10 4 10 0 10 1 10-1 10-5 10-1 10 5 10 0 10 6 10-8 10 8 10-15 10 8 10 1 9 10 10 1 10-4 10-1 10 6 10 7 10-7 10-4 10-5 10-8 10 10 10 19 10-7 10 11 10 0 10-19 10-5 10 8 10 4 10-3 10 13 10-14 10 1 10-18 10 16 10-11 10 10 10-11 10 12 10-9 10 5 10 6 10-4 10-7 10-4 10-11 10 0 10 30 10-7 10 10 10-10 10-13 10 10 10 2 10-11 10-2 10-18 10 2 10-2 10-12 10 13 10 1 10 8 10-8 10-11 10-9 10 7 10 8 10 4 10 6 10-12 10-16 10 24 10 9 10-29 10 13 10-11 10 7 10-15 10-7 10 1 10-6 10 3 10-4 10-14 10-1 10 14 10 7 10-3 10-3 10-4 10 3 10-11 10 0 10-3 10 1 10-6 10 13 10-19 10 2 10-1 10-1 10-5 10 1 10 5 10 6 10 16 10-9 10 1 10 1 10-23 10 28 10-4 10-12 10-2 10-3 10 21 10 8 10-11 10 4 9-15 10 6 10 4 10 0 10 6 10 0 10 7 10-2 10 2 10-5 10 13 10 6 10-14 10-5 10 9 10-3 10 6 10-25 10 21 10-20 10 14 10-5 10 4 10 3 10-11 10-4 10 9 10 9 10-23 10-4 10 10 10 8 10-1 10 1 10-9 10 16 10-1 10 8 10-14 10-9 10 13 10 2 10-5 10 14 10 13 10-10 10 1 10 8 10-9 10 8 10 23 10-7 10 2 10-14 10 12 10 9"/>
<path stroke="#9498f1" d="M1459 5957l10 4 10 42 10-17 10 32 10 46 10 20 10 33 10 25 10 23 10 6 10 2 9 11 10-38 10-8 10-40 10-19 10-20 10-13 10-31 10 0 10 1 10-27 10 37 10-16 10-9 10-364 10-1506 10-1609 10-1205 10-531 10 246 10-138 10 73 10-59 10-41 10-63 10 168 10-113 10-74 10 42 10 1039 10 1144 10 1006 10 807 10 403 10 401 10 264 10 226 10 203 10 131 10 90 10 54 10 25 10 7 10 4 10-20 10-20 10-14 10-2 10 5 10-9 10-14 10 2 10-6 10-2 10-1 10-11 10 6 10-30 10 16 10-24 10 8 10-41 10-15 10 10 10-5 10 2 10-18 10-20 10-44 10 30 10-29 10 7 10-15 10-22 10-11 10-10 10-2 10-9 10-13 10-27 10 19 10-11 10-1 10-11 10-15 10-43 10-46 10-21 10 14 10-30 10-16 10-55 10-66 10-48 10-59 10-46 10-29 10-52 10-97 10-102 10-102 10-55 10-66 10-61 10-68 10-32 10-15 10-66 10-18 10-5 9 35 10-3 10 41 10 34 10-10 10 13 10 5 10 8 10 58 10 18 10 86 10 43 10 82 10 39 10 51 10 44 10 28 10 77 10 21 10 46 10 26 10 27 10 44 10 40 10 50 10 15 10 43 10 16 10 51 10-8 10 43 10-6 10 29 10 6 10 20 10 2 10 14 10-11 10 2 10-3 10-24 10 15 10-34 10-10 10 4 10-43 10-25 10-56 10-8 10-32 10-38 10-6 10-67 10-34 10-87 10-80 10-46 10-33 10-88 10-81 10-101 10-61 10 8 10 42 10 100 10 49 10 139 10 131 10 122 10 165 10 223 10 155 10 131 10 94 10 63 10 75 10 81 10 39 10 16 10 38 10 27 10 31 10 19 10 26 10 21 10 26 10 9 10 26 10-6 10 24 10 21 10 8 10 20 10 13 10 12 10 16 10 14 10 7 10-10 10 16 10 7 10 7 10-6 10-13 10 24 10-2 10 5 10 7 10-2 10 16 9-10 10 2 10 13 10-17 10 1 10-2 10 25 10 1 10 3 10-8 10-9 10 27 10-5 10 0 10-10 10 7 10 14 10-2 10 8 10 1 10-5 10 2 10-4 10 14 10-27 10-2 10 5 10 21 10 18 10-3 10-7 10-24 10-2 10 16 10-8 10-3 10 10 10-5 10 6 10 12 10 10 10-4 10-11 10 16 10 11 10-15 10 24 10-30 10 8 10-7 10-13 10 25 10 8 10-26 10 12 10 4 10-1 10-7 10-5 10 9 10 8 10 2 10-2 10-9 10 6 10-11 10 19 10-3 10-12 10-1 10 8 10 15 10 6 10-2 10-5 10 3 10 13 10 0 10-11 10-8 10 17 10-1 10 11 10-4 10-38 10 14 10 11 10 7 10 9 10 10 10-11 10-3 10-16 10 20 10-8 10-12 10 24 10-12 10 15 10-12 10-13 10 7 10 1 10 9 10-4 10-9 10 7 10 4 10-3 10-5 10 19 9-6 10 4 10-8 10-9 10 3 10-7 10 16 10 3 10 6 10-6 10-3 10 1 10 10 10-6 10 1 10-9 10 4 10-11 10 3 10 20 10-6 10 8 10-17 10-12 10 7 10-1 10 15 10 14 10-9 10-7 10 8 10-11 10-7 10-7 10-11 10 1 10 10 10 0 10-5 10 12 10-16 10-5 10 8 10 6 10-37 10 9 10 2 10-7 10 3 10 7 10-2 10 13 10-10 10 15 10-12 10-7 10 15 10-26 10 16 10-14 10 7 10-5 10 6 10-27 10 1 10-8 10 5 10 3 10 5 10 5 10-6 10 0 10 2 10 12 10-6 10-12 10 4 10-7 10 1 10 7 10 1 10-1 10-6 10-3 10-15 10 13 10 13 10-19 10 2 10-3 10-26 10-2 10 7 10 0 10 8 10-4 10 13 10 7 10 1 10-18 10-7 10 17 10-8 10 9 10-7 10 10 10-6 10 7 10 5 10 1 9-1 10 6 10 11 10-23 10 9 10 17 10 12 10 11 10-16 10-24 10 16 10-5 10 12 10-22 10-3 10-1 10-9 10-8 10 3 10 16 10 13 10 4 10 8 10-29 10 6 10-1 10-1 10-17 10 16 10-8 10 4 10 6 10 19 10-17 10 8 10 1 10-4 10-1 10-8 10 14 10-1 10 1 10 3 10-3 10 8 10-8 10 15 10 14 10-4 10-12 10 12 10 8 10 2 10-1 10 4 10-1"/>
<path stroke="#8e98f4" d="M1459 6021l10 5 10 8 10 6 10 26 10 46 10 19 10 0 10 44 10 2 10 7 10 9 9-15 10 0 10-13 10-6 10-35 10-41 10 3 10-35 10 22 10-18 10-12 10-47 10 20 10-5 10-361 10-1518 10-1610 10-1204 10-489 10 125 10-22 10 161 10-249 10 6 10-49 10-2 10 151 10-154 10 31 10 1039 10 1144 10 1006 10 807 10 403 10 402 10 266 10 232 10 214 10 140 10 107 10 40 10 17 10 38 10 9 10-21 10-15 10-18 10 12 10-19 10 0 10 0 10-6 10-20 10-6 10-10 10 13 10-3 10 6 10-9 10-11 10-8 10-24 10-12 10-15 10-4 10-18 10 0 10-16 10-7 10-12 10 0 10 9 10 0 10-51 10-10 10-12 10-4 10-4 10-55 10 23 10-11 10-13 10 2 10-5 10-19 10-23 10-19 10-39 10-4 10-42 10-56 10-40 10-14 10-6 10-91 10-71 10-52 10-92 10-54 10-76 10-56 10-85 10-58 10-50 10-76 10-41 10-6 10-59 10-31 10 21 9 4 10 0 10 14 10 9 10 4 10 37 10-14 10 69 10 51 10 3 10 25 10 82 10 65 10 70 10 18 10 47 10 59 10 26 10 16 10 39 10 13 10 42 10 49 10 49 10 32 10 23 10 33 10 26 10 38 10 21 10 12 10 34 10 38 10-18 10 15 10 26 10 6 10 10 10 24 10-14 10 4 10-31 10-20 10-40 10-14 10-29 10-19 10-21 10-11 10-60 10-35 10-27 10-49 10-39 10-42 10-69 10-85 10-52 10-43 10-72 10-127 10-45 10-41 10 63 10 75 10 102 10 140 10 110 10 82 10 163 10 227 10 171 10 127 10 89 10 77 10 50 10 73 10 49 10 38 10 38 10 38 10 9 10 40 10-6 10 12 10 26 10 29 10 9 10 12 10 3 10 27 10 15 10 11 10 12 10 13 10 20 10 12 10 0 10-1 10-9 10-13 10 2 10 14 10-5 10 18 10 13 10-19 10 24 10 6 10 3 9-13 10 13 10-5 10 10 10 12 10-6 10-2 10 13 10 3 10 2 10-14 10-1 10 3 10-1 10 9 10-3 10 9 10 11 10 0 10-7 10-2 10-8 10 21 10-3 10-6 10 10 10-5 10 3 10 9 10-15 10 16 10-14 10 7 10 9 10 4 10 0 10 2 10-8 10 15 10-19 10-5 10-7 10 19 10 20 10-5 10-6 10-6 10 4 10-1 10-2 10 14 10-22 10 16 10-5 10-8 10 13 10-1 10-14 10 11 10-7 10 4 10 3 10-2 10 7 10 4 10-9 10 3 10 0 10 15 10-4 10-11 10-2 10 4 10 9 10 6 10-6 10-11 10 7 10-7 10 11 10-8 10 16 10-3 10 10 10-10 10-4 10 12 10 4 10 0 10 9 10-1 10 0 10-14 10-11 10 10 10 4 10-2 10 5 10 1 10-9 10 1 10 4 10 6 10-15 10 12 10-1 10 9 10 1 10-5 10 2 10-7 9 1 10 12 10 14 10-22 10 4 10-16 10 6 10 9 10-7 10 4 10-1 10 8 10-10 10-8 10 10 10-15 10 14 10-1 10 15 10 9 10-30 10-8 10-1 10 23 10-6 10-4 10 0 10-2 10 9 10-2 10 7 10-4 10-9 10 6 10-2 10 0 10-4 10-11 10 1 10-2 10 15 10-4 10-12 10 8 10 0 10 3 10-19 10 6 10 5 10-11 10-9 10 0 10-5 10 3 10 4 10 4 10 1 10 0 10-9 10 0 10-3 10-7 10 2 10 12 10 0 10 2 10 7 10-15 10 4 10 2 10-2 10-19 10 1 10-12 10 3 10 4 10-8 10-5 10 2 10 9 10-1 10 5 10-7 10-7 10-16 10-7 10 3 10-2 10 6 10-21 10 2 10-10 10 16 10 7 10-2 10 6 10 3 10 12 10-11 10 3 10-4 10 7 10 18 10-12 10-11 10 18 10 5 10-3 10-1 10 12 9-24 10-4 10 13 10 17 10-12 10-19 10 1 10-2 10 18 10-2 10 14 10-24 10 1 10 25 10 8 10-16 10-5 10 2 10-7 10-16 10 8 10 22 10-4 10 8 10 0 10-11 10 0 10 8 10-6 10 5 10-10 10 3 10-5 10 5 10-7 10 5 10 2 10 7 10-2 10 17 10-31 10 17 10 2 10 7 10 5 10-5 10 7 10 4 10 11 10 3 10 5 10-23 10 19 10 8 10-6 10-11"/>
<path stroke="#8c9bf5" d="M1459 6007l10 20 10 28 10 12 10-8 10 36 10 20 10 41 10 12 10 34 10 21 10-11 9-13 10-36 10 23 10-31 10-42 10-26 10 5 10-1 10-15 10-29 10-17 10-10 10-3 10 32 10-396 10-1521 10-1610 10-1204 10-287 10-204 10 82 10-45 10 135 10-38 10 47 10-149 10 99 10 9 10-140 10 1039 10 1144 10 1007 10 806 10 404 10 402 10 268 10 231 10 220 10 145 10 114 10 56 10 0 10 4 10 22 10-8 10-3 10 14 10-3 10 10 10-12 10 15 10-18 10-9 10-8 10-6 10-30 10 2 10-10 10-15 10-12 10-8 10 8 10 6 10-6 10-11 10-16 10-10 10-25 10 0 10-31 10-9 10 10 10-20 10 34 10-48 10-16 10-13 10 15 10-57 10 5 10-6 10-28 10-2 10 1 10-30 10 1 10-35 10-19 10-37 10-1 10-56 10-34 10-66 10-17 10-75 10-50 10-59 10-38 10-77 10-78 10-49 10-51 10-60 10-93 10-41 10-54 10-32 10-25 10-15 10 8 9-24 10 16 10 14 10 47 10-2 10 31 10 28 10 6 10 64 10 38 10 30 10 32 10 67 10 39 10 42 10 64 10 65 10 45 10-2 10 26 10 54 10 31 10 28 10 31 10 27 10-3 10 59 10 27 10 39 10 27 10 25 10 9 10 16 10 2 10 10 10 25 10-25 10 33 10-8 10-32 10 19 10-30 10-25 10-9 10 14 10-56 10-21 10-14 10-50 10-10 10-52 10-20 10-50 10-23 10-49 10-46 10-60 10-79 10-67 10-74 10-102 10-54 10 21 10 33 10 69 10 66 10 98 10 111 10 141 10 139 10 256 10 130 10 121 10 89 10 87 10 67 10 62 10 28 10 43 10 9 10 24 10 10 10 37 10 25 10 17 10 17 10 17 10 25 10 19 10 10 10 9 10 19 10 14 10 3 10-4 10 10 10 0 10 0 10 6 10 16 10 9 10 20 10 0 10-9 10 12 10-16 10-6 10 15 10-4 10 21 9 7 10-2 10-3 10 1 10 8 10-22 10 7 10 4 10-1 10 5 10 6 10 7 10 14 10-22 10 13 10 13 10-1 10 8 10-29 10 3 10-7 10-3 10 7 10 4 10 14 10 1 10 6 10-3 10 6 10-14 10-1 10 7 10 18 10-12 10-7 10 6 10 14 10-9 10-8 10 23 10-12 10 17 10-9 10-19 10 7 10 0 10 8 10 1 10-20 10 0 10 16 10 7 10 1 10-19 10 10 10-3 10 12 10 13 10-16 10 5 10 9 10 4 10 2 10 1 10 8 10-19 10-2 10-5 10 9 10-1 10 1 10-8 10 0 10 4 10 12 10 10 10 1 10 0 10-1 10 6 10-22 10 2 10 21 10 2 10 4 10-12 10-13 10 13 10-8 10 4 10-10 10-6 10 7 10 0 10 6 10 6 10 10 10-8 10 0 10 3 10-1 10 0 10 8 10 0 10-15 10 5 10-11 10 17 10 9 10-8 10-9 9 8 10-7 10-6 10-4 10 9 10 3 10 16 10-8 10-5 10-12 10 18 10 4 10 3 10-15 10 23 10-2 10-28 10 0 10 16 10-3 10-10 10-1 10 5 10 7 10-10 10 2 10-7 10 1 10 7 10-13 10 10 10-4 10 7 10 0 10-1 10 3 10-7 10-13 10-11 10-2 10 13 10-9 10 4 10-10 10 21 10-15 10 10 10-11 10 8 10-9 10 6 10 16 10-2 10-8 10-7 10 16 10-2 10-7 10-8 10-8 10 5 10 7 10-13 10-1 10-12 10 6 10-8 10 10 10-7 10-2 10-5 10 9 10-4 10 4 10-5 10-10 10-27 10 14 10-1 10 4 10-8 10 2 10-6 10 4 10-18 10 1 10 27 10-6 10-1 10 20 10-4 10-5 10 0 10-8 10 14 10-16 10-8 10 1 10 7 10 0 10 5 10-12 10 1 10-12 10 15 10-8 10 14 10 4 10 10 10-10 9 2 10-5 10-10 10 10 10 1 10-4 10 6 10 8 10-5 10-3 10-4 10-2 10 12 10-4 10-9 10 11 10-2 10 8 10-4 10-15 10 6 10 14 10-6 10-1 10-9 10 18 10 5 10-6 10 11 10-19 10 20 10-2 10 5 10-5 10-14 10-5 10-4 10 2 10 25 10-8 10 16 10-3 10-2 10 2 10-7 10 9 10-16 10 3 10-2 10 4 10 2 10 11 10-12 10 23 10-1 10 5"/>
<path stroke="#8a9ef5" d="M1459 6026l10 16 10-11 10 42 10 5 10 23 10 51 10 10 10 17 10 36 10-22 10 6 9 9 10-3 10-5 10-26 10-19 10 0 10-14 10-19 10-25 10-21 10-12 10-23 10-10 10 16 10-388 10-1527 10-1610 10-1204 10-539 10 205 10 71 10-228 10 138 10-183 10 224 10-150 10 7 10 141 10-177 10 1039 10 1144 10 1007 10 807 10 403 10 402 10 269 10 234 10 219 10 138 10 98 10 66 10 46 10 16 10-2 10-15 10 17 10-18 10-7 10 12 10-12 10 8 10-7 10-1 10-9 10 10 10-18 10 21 10-15 10-8 10-32 10-7 10 5 10 2 10-14 10-2 10-39 10 37 10-21 10 15 10-40 10-1 10-35 10 3 10-24 10-7 10-22 10-2 10 29 10-21 10-6 10-41 10-21 10-10 10-18 10-13 10-6 10-46 10-10 10-13 10-6 10-33 10-45 10-42 10-41 10-52 10-39 10-68 10-40 10-66 10-71 10-95 10-70 10-55 10-28 10-46 10-62 10-55 10 10 10-15 10-14 9-6 10 9 10 1 10 46 10-22 10 50 10 18 10 21 10 21 10 38 10 44 10 39 10 63 10 36 10 26 10 68 10 59 10 39 10 0 10 21 10 51 10 31 10 29 10 23 10 69 10 30 10 24 10 17 10 24 10 27 10 14 10 51 10-45 10 17 10 14 10 31 10 4 10-19 10-6 10 16 10 18 10-19 10-14 10-33 10-1 10-29 10-33 10-19 10-45 10-8 10-20 10-43 10-59 10-36 10-38 10-70 10-56 10-50 10-67 10-61 10-87 10-64 10-2 10 42 10 78 10 71 10 97 10 127 10 116 10 134 10 214 10 157 10 97 10 100 10 72 10 74 10 63 10 30 10 19 10 23 10 27 10 31 10 27 10 15 10 8 10 6 10 49 10-7 10 0 10 4 10 17 10 11 10 20 10 11 10 3 10 18 10 9 10-1 10 15 10-2 10 14 10-6 10 0 10 7 10 8 10 1 10 17 10-7 10-7 10-11 9 11 10 3 10-11 10-7 10 17 10-5 10-2 10 5 10 16 10 8 10-9 10-18 10 14 10-8 10-6 10 25 10 7 10-15 10-1 10 4 10 7 10-2 10 11 10-21 10 22 10 16 10-9 10-14 10 10 10 2 10 9 10-3 10 7 10 4 10 6 10-5 10-22 10 7 10 1 10-16 10 18 10 11 10-7 10 11 10-7 10-10 10 15 10 2 10-17 10 16 10 4 10-5 10 3 10 6 10-18 10 11 10-2 10 5 10 1 10 11 10-14 10 5 10-11 10 15 10 2 10-7 10 0 10 7 10-1 10 10 10-7 10 20 10-14 10-16 10-3 10-1 10 11 10-3 10 7 10 0 10 1 10 28 10-23 10-6 10-6 10 13 10-8 10-1 10 22 10 6 10-12 10 1 10-5 10 3 10-16 10 21 10 6 10-1 10 3 10-5 10-6 10 8 10-10 10-13 10-3 10-9 10 3 10 11 10-9 10 4 10-7 9 13 10 22 10 3 10-10 10-8 10 3 10-8 10 14 10 2 10-12 10 2 10 0 10-10 10-2 10 14 10-1 10 15 10-8 10-6 10 14 10-21 10-13 10 7 10-1 10-6 10 11 10-5 10 3 10 17 10 2 10-2 10-15 10 1 10-7 10 8 10 10 10-23 10-17 10 11 10 10 10-8 10 15 10-1 10 9 10-13 10-4 10 3 10 2 10 8 10-3 10-19 10 4 10-13 10 12 10-3 10 2 10-2 10-10 10 18 10-16 10-8 10 2 10 0 10 1 10-7 10 1 10 8 10-6 10-10 10 0 10 2 10-2 10 5 10 1 10 11 10-10 10-15 10 4 10 6 10-14 10-1 10-1 10-3 10-5 10 4 10 8 10-19 10 5 10 9 10-4 10-11 10 18 10-16 10 5 10-15 10 4 10 9 10-7 10-3 10 12 10 1 10 8 10-9 10 16 10-2 10 15 10-15 10 17 10-2 10-11 9 0 10 1 10 6 10-2 10 11 10-13 10-10 10-3 10 5 10-9 10 3 10-3 10 4 10 4 10 9 10 20 10-19 10-2 10-18 10 25 10-13 10 10 10-4 10 6 10-8 10 0 10-7 10 2 10-1 10-7 10 3 10 7 10-8 10 8 10-1 10 7 10 6 10 23 10-19 10 7 10-11 10-13 10 21 10-7 10 6 10-1 10 14 10-2 10-1 10-10 10-9 10 13 10 12 10-14 10 14 10 8"/>
<path stroke="#88a0f6" d="M1459 6038l10 20 10 3 10-6 10 29 10 23 10 49 10 29 10 46 10 8 10 20 10-14 9 15 10-18 10-29 10-27 10 6 10-26 10-64 10-12 10-8 10 30 10-20 10-30 10-3 10 3 10-411 10-1519 10-1610 10-1204 10-434 10-73 10 78 10-42 10 4 10-56 10-18 10 56 10-59 10 3 10 50 10 1039 10 1144 10 1007 10 807 10 403 10 403 10 267 10 236 10 226 10 151 10 118 10 72 10 4 10-4 10 4 10 29 10 17 10-8 10 3 10-27 10 2 10 5 10-4 10-18 10 16 10-12 10 14 10-9 10-2 10-15 10-9 10-20 10-7 10 8 10 8 10-6 10-11 10-11 10-4 10-28 10-16 10 2 10-2 10-10 10-14 10-12 10 8 10-18 10 4 10-29 10-28 10 2 10-22 10-7 10-10 10-48 10-17 10-12 10-6 10-27 10-20 10-37 10-19 10-44 10-39 10-30 10-88 10-60 10-34 10-40 10-67 10-64 10-65 10-42 10-52 10-59 10-53 10 0 10-46 10-6 10 2 9-8 10 9 10-13 10 4 10 28 10 31 10-12 10 14 10 52 10 56 10 31 10 30 10 67 10 14 10 58 10 26 10 55 10 34 10 40 10 28 10 16 10 52 10 31 10 19 10 40 10 0 10 64 10-13 10 50 10 12 10 5 10 24 10 44 10 13 10 6 10 2 10-2 10-1 10-6 10 26 10-20 10 18 10-27 10-8 10-8 10-54 10-25 10-39 10 4 10-21 10-43 10-32 10-47 10-34 10-46 10-38 10-87 10-48 10-41 10-83 10-77 10-63 10-20 10 48 10 74 10 115 10 103 10 103 10 91 10 116 10 236 10 152 10 96 10 93 10 62 10 60 10 67 10 25 10 22 10 35 10 28 10 27 10-5 10-2 10 19 10 8 10 38 10-3 10 0 10 9 10 34 10 2 10 17 10 0 10 20 10 6 10 10 10-1 10 6 10-5 10 2 10 7 10 9 10 7 10 2 10-4 10 4 10 2 10 5 10 4 9 8 10 15 10-14 10-5 10 12 10-19 10 19 10-10 10 3 10 2 10-6 10 0 10 9 10 14 10 8 10-8 10-15 10 0 10 9 10 1 10-2 10-9 10 18 10-4 10 3 10 10 10 8 10-16 10 2 10 6 10 0 10-7 10 5 10-10 10 12 10 10 10 0 10 7 10-2 10-13 10-10 10 5 10 6 10 13 10 7 10-8 10-2 10 6 10 2 10-16 10-2 10 8 10 2 10-8 10 5 10 4 10 17 10 10 10 6 10 6 10-16 10-10 10 6 10-8 10-3 10 3 10 14 10-19 10-7 10 14 10-16 10 10 10 12 10 2 10 14 10-6 10 8 10-20 10-1 10 14 10-10 10 15 10-9 10-6 10 1 10 11 10-4 10-1 10-2 10-13 10-7 10-2 10 18 10 9 10-2 10-4 10 19 10-3 10-22 10 17 10 3 10 1 10-9 10 0 10 3 10 11 10-12 10-1 10 6 10-4 10-7 9 15 10 8 10-1 10-1 10 18 10-13 10-20 10 3 10-10 10 29 10-11 10-17 10-10 10 14 10 8 10-6 10 11 10-3 10 10 10-10 10-4 10-16 10 3 10 10 10 0 10 10 10-8 10-1 10-6 10-8 10 22 10-11 10-9 10 13 10-21 10 12 10-22 10 4 10 0 10 5 10-4 10 15 10 4 10 11 10-17 10 3 10-12 10-5 10 14 10-12 10-3 10-1 10-3 10 2 10-1 10-9 10 12 10 7 10-2 10-17 10 4 10-19 10 35 10-6 10-6 10-9 10-14 10 6 10 10 10-13 10-13 10 30 10-15 10-5 10 7 10-1 10-8 10-2 10 1 10 7 10-10 10 3 10-5 10 2 10-6 10-8 10 0 10-4 10 16 10-9 10-3 10 6 10-1 10 23 10-15 10-3 10 16 10-17 10 2 10-6 10 2 10-5 10 1 10 4 10-4 10-5 10 26 10-8 10 2 10 6 9-19 10-5 10 16 10 8 10-13 10 7 10 1 10 14 10-9 10-15 10 7 10 0 10-16 10 0 10-4 10 5 10-3 10 24 10 4 10 9 10-30 10 4 10 5 10 8 10 5 10 19 10-36 10 4 10 1 10 13 10-5 10-7 10 2 10-5 10 10 10-4 10-7 10 1 10 3 10 6 10 12 10-8 10 6 10 9 10-10 10 17 10 0 10-11 10-5 10 10 10 3 10-2 10 6 10 10 10-5 10 2"/>
<path stroke="#86a3f6" d="M1459 6060l10 17 10 17 10-4 10 25 10 49 10 6 10 21 10 19 10 11 10 4 10 6 9 5 10 21 10-32 10-18 10-40 10-28 10-11 10-27 10-2 10-11 10 0 10-7 10-5 10-7 10-409 10-1528 10-1610 10-1204 10-502 10 200 10-105 10-118 10 74 10-41 10-37 10 136 10 41 10 33 10-172 10 1039 10 1144 10 1007 10 807 10 404 10 403 10 268 10 237 10 225 10 152 10 110 10 72 10 53 10 42 10-25 10-3 10 0 10 11 10 9 10 8 10-49 10-12 10 18 10-21 10 32 10-17 10-9 10 11 10-2 10 3 10-14 10-25 10-11 10-2 10-13 10 25 10-38 10 4 10 13 10-10 10-6 10-17 10-16 10 19 10-41 10-31 10 14 10-31 10-18 10-12 10-20 10 23 10-24 10 3 10-49 10 12 10 0 10-41 10-24 10-16 10-25 10-35 10-52 10-13 10-31 10-39 10-53 10-55 10-35 10-74 10-45 10-69 10-63 10-56 10-75 10-56 10-35 10-41 10 2 10-31 10 15 9 6 10 9 10 39 10 14 10 7 10 6 10 28 10 43 10 45 10 22 10 53 10 46 10 23 10 25 10 48 10 54 10 9 10 13 10 42 10 34 10 61 10-4 10 43 10 10 10 40 10 28 10 27 10 48 10-29 10 57 10 11 10 24 10 10 10-10 10 45 10 3 10-4 10 4 10-2 10 11 10 10 10-8 10-26 10-39 10-21 10-45 10-13 10-19 10-24 10 0 10-51 10-18 10-39 10-81 10-8 10-52 10-58 10-55 10-55 10-47 10-105 10-12 10-15 10-6 10 68 10 98 10 107 10 99 10 69 10 150 10 251 10 139 10 112 10 58 10 69 10 49 10 54 10 17 10 32 10 27 10 37 10 22 10 10 10 20 10-13 10 24 10 24 10 0 10 20 10 6 10 12 10 16 10-8 10 13 10-1 10 16 10 19 10 10 10 0 10-1 10 0 10-3 10 16 10-5 10 12 10 2 10-27 10 1 10 16 10-11 9-1 10 5 10-1 10 15 10 6 10 11 10-8 10 14 10 0 10-8 10 6 10-4 10-14 10 19 10-12 10 13 10 9 10-5 10-9 10 12 10 6 10 1 10 3 10-6 10 6 10-1 10-5 10 5 10-11 10 11 10 7 10-21 10-4 10 10 10-1 10 4 10 10 10-5 10 1 10-8 10 24 10-12 10 1 10 8 10 2 10 1 10 8 10-2 10-12 10 15 10-3 10 16 10-8 10-12 10-1 10-1 10 10 10-9 10 8 10-11 10 1 10 6 10-13 10 10 10-7 10 5 10 4 10-7 10 2 10 5 10 4 10-1 10 0 10 5 10 8 10 17 10-13 10-5 10-14 10 1 10-6 10-7 10 13 10 12 10-9 10 9 10 1 10-14 10 2 10-4 10 20 10-3 10-11 10 16 10-5 10-4 10 22 10-23 10 9 10-1 10-15 10 22 10-8 10 4 10-3 10 7 10-16 10 14 10-6 10-4 10 4 9 3 10 1 10-10 10 0 10 5 10 11 10-6 10-6 10 3 10-12 10 24 10-27 10 10 10 13 10 11 10-17 10-5 10 4 10 1 10-2 10 4 10-12 10-1 10 6 10 15 10-19 10 7 10 8 10-17 10-1 10 21 10 6 10-8 10 3 10-8 10-28 10-16 10 18 10 1 10-1 10 7 10 15 10-16 10 3 10-4 10-5 10 10 10-17 10 5 10 1 10 5 10-8 10-7 10 9 10-6 10 6 10 8 10-5 10-10 10-6 10-7 10 11 10 1 10-3 10-7 10 3 10 8 10 8 10-21 10-9 10 10 10-14 10 6 10-3 10-9 10 11 10 6 10 11 10-14 10-8 10-8 10-2 10 2 10-8 10 15 10-7 10-4 10 3 10-15 10 4 10-6 10 1 10 10 10-14 10 0 10 11 10 6 10 11 10-3 10 0 10-4 10 5 10-7 10 3 10 15 10-2 10 3 10 4 10-6 10-13 9 13 10 13 10-9 10-32 10 17 10 0 10 7 10-8 10-9 10 10 10-7 10 17 10-4 10 11 10-7 10 4 10-6 10 9 10-7 10-3 10 5 10 5 10 5 10-4 10-9 10 1 10-3 10-10 10 9 10-1 10-5 10 1 10 1 10 4 10-14 10 11 10 9 10-4 10-10 10-2 10 12 10 0 10 4 10 6 10-1 10 1 10 5 10-10 10 15 10-8 10-8 10-3 10 16 10 13 10 19 10-3"/>
<path stroke="#84a6f7" d="M1459 6065l10-20 10 21 10 3 10 32 10 53 10 9 10 47 10 10 10 20 10 33 10 7 9-13 10-23 10-31 10-5 10-40 10-14 10 6 10-6 10-25 10-12 10-17 10-21 10 4 10-1 10-418 10-1532 10-1610 10-1204 10-342 10-62 10 59 10-16 10-138 10 22 10 170 10-89 10-89 10 137 10-143 10 1039 10 1144 10 1007 10 807 10 404 10 403 10 269 10 237 10 230 10 152 10 129 10 92 10 60 10 10 10-2 10-16 10 8 10 8 10-17 10-6 10-8 10 4 10-11 10 0 10 25 10-13 10-14 10 0 10-19 10 11 10-11 10 14 10-11 10-2 10 1 10 1 10-21 10-16 10 2 10 3 10-7 10-28 10 5 10-32 10 14 10-23 10-22 10-23 10 4 10 0 10 1 10-35 10-11 10-7 10-12 10-23 10-16 10-33 10 18 10-44 10-18 10-31 10-31 10-38 10-52 10-41 10-21 10-57 10-54 10-63 10-59 10-57 10-72 10-25 10-84 10-11 10-15 10-53 10-41 10-23 10-11 9 17 10 20 10 12 10 20 10 27 10-13 10 7 10 52 10 46 10 45 10 62 10 33 10 30 10 24 10 45 10 51 10 0 10 1 10 73 10 20 10 9 10 49 10 42 10 13 10 26 10 33 10-3 10 14 10 30 10 33 10 27 10 2 10 23 10-5 10 7 10 32 10 0 10-9 10 8 10 21 10-6 10-10 10-21 10-20 10-16 10-37 10-36 10-3 10-3 10-43 10-32 10-39 10-22 10-45 10-27 10-69 10-69 10-22 10-14 10-69 10-69 10-74 10-26 10 21 10 26 10 109 10 106 10 94 10 141 10 111 10 233 10 153 10 99 10 58 10 50 10 45 10 49 10 44 10 15 10 23 10-2 10 52 10-5 10 12 10 15 10 17 10 18 10 17 10 18 10-21 10 6 10 9 10 11 10 30 10 1 10-1 10-8 10 19 10-1 10 6 10 2 10 10 10-4 10 1 10 20 10-18 10-16 10 22 10-8 10 17 9 4 10-17 10 7 10-8 10 8 10-2 10 10 10-9 10-6 10 8 10 14 10 6 10 8 10-9 10-3 10 10 10-9 10 10 10-16 10 2 10-5 10 18 10 11 10 13 10-15 10 9 10-17 10 3 10-3 10 16 10 2 10-5 10-7 10 15 10-7 10 7 10-10 10 5 10 3 10-5 10-8 10 9 10-8 10 16 10-4 10 11 10-7 10 8 10-5 10-7 10 11 10 12 10-8 10-9 10-1 10 9 10-10 10 5 10-6 10 11 10-6 10-8 10 12 10 3 10-7 10-2 10 1 10 5 10 15 10-7 10 9 10-8 10 17 10-24 10-14 10 6 10 14 10 2 10-9 10-2 10 11 10-11 10-1 10 2 10 8 10 1 10 7 10-4 10 5 10-13 10 4 10 1 10-1 10 0 10 15 10-16 10 3 10 7 10 7 10 1 10 0 10-5 10 5 10-6 10-3 10 6 10-22 10 10 10 1 10 3 10 3 9-6 10-8 10 9 10 10 10-7 10 20 10-11 10-2 10-5 10 14 10-3 10 3 10-2 10-11 10 2 10 4 10-13 10 4 10 19 10 0 10-12 10-6 10-1 10-1 10 9 10-3 10 8 10 0 10 1 10-1 10-4 10-4 10 3 10-14 10 6 10-15 10-2 10 17 10-10 10 14 10-18 10 1 10 11 10 14 10-9 10 4 10-20 10 11 10-5 10-8 10-1 10-3 10 3 10-8 10 10 10-9 10 10 10-8 10 8 10-6 10-10 10-10 10 20 10 0 10 1 10-18 10 8 10-10 10 6 10 9 10-9 10 5 10-14 10-8 10-8 10 15 10-16 10-3 10 22 10-25 10-8 10 20 10-4 10 13 10-6 10-6 10-6 10 9 10-4 10 7 10-9 10-7 10 2 10-8 10 0 10 3 10-5 10 19 10-2 10 14 10-8 10 0 10-11 10 7 10 5 10-2 10-1 10-5 10 10 10 10 9 6 10-21 10 12 10-2 10 5 10-14 10 6 10-13 10 11 10-3 10-6 10-4 10 17 10 0 10-2 10 14 10-15 10-4 10-3 10 15 10-6 10-5 10-8 10 10 10-5 10-14 10 15 10 6 10 3 10 11 10-4 10-19 10 13 10 0 10-11 10 0 10 4 10 7 10 3 10 0 10-4 10 4 10-5 10 23 10-12 10 7 10 0 10 5 10-6 10 4 10-3 10 12 10-1 10-9 10-1 10 13"/>
<path stroke="#82a9f7" d="M1459 6076l10 18 10 35 10 21 10 7 10 0 10 42 10 24 10 6 10 38 10 9 10-1 9 2 10-18 10-27 10-22 10-2 10-56 10 0 10 0 10-5 10-8 10-35 10 36 10-16 10 18 10-472 10-1537 10-1611 10-1204 10-490 10 7 10 168 10-77 10-109 10 7 10 21 10-58 10 140 10-152 10 52 10 1039 10 1144 10 1007 10 807 10 404 10 403 10 269 10 238 10 231 10 157 10 143 10 98 10 17 10 33 10 10 10-10 10-1 10-6 10 14 10 7 10-22 10 10 10-2 10-5 10 19 10-11 10-1 10-15 10 0 10 19 10-27 10 21 10-17 10-7 10-8 10-13 10-19 10 8 10-4 10-20 10-12 10-12 10-7 10-2 10-4 10-8 10-26 10-24 10-22 10 18 10-8 10-13 10-11 10-1 10-48 10-22 10 1 10-6 10-19 10-7 10-29 10-44 10-50 10-33 10-43 10-12 10-1 10-88 10-51 10-50 10-81 10-29 10-41 10-46 10-75 10-41 10 6 10-66 10-14 10-15 10 15 9-30 10 15 10 0 10 46 10 2 10 21 10 30 10 40 10 34 10 42 10 33 10 24 10 19 10 58 10 35 10 26 10 42 10 15 10 21 10 24 10 18 10 15 10 24 10 33 10 26 10 45 10 36 10 8 10 16 10-3 10 37 10 33 10 5 10 19 10 19 10-13 10-10 10 16 10 20 10-5 10-5 10 6 10-35 10-21 10-33 10-5 10-22 10-20 10-3 10-71 10 11 10-25 10-41 10-23 10-60 10-41 10-53 10-56 10-51 10-52 10-56 10-65 10-32 10 40 10 71 10 73 10 81 10 104 10 111 10 149 10 187 10 159 10 73 10 70 10 56 10 57 10 41 10 32 10 18 10 15 10 11 10 37 10 10 10 0 10 7 10 30 10 7 10 7 10 9 10 30 10-10 10 21 10-20 10 7 10 13 10 1 10 7 10 11 10 3 10 0 10 11 10-7 10-5 10 0 10-1 10 0 10 6 10-1 10 11 10 3 9-7 10-6 10 17 10 18 10-22 10 0 10-6 10 7 10 9 10 12 10 9 10-16 10-3 10 5 10 15 10 2 10 3 10-1 10 22 10-16 10-18 10 10 10 1 10-2 10 11 10-7 10 8 10 1 10-5 10 0 10 0 10 9 10-10 10 12 10-11 10 7 10 9 10-5 10 7 10-2 10-3 10-9 10-4 10 1 10 8 10 14 10-5 10 0 10-2 10 3 10 1 10-10 10 14 10-5 10-12 10 11 10 8 10-3 10 0 10-5 10-11 10 8 10-2 10 9 10 3 10-5 10 7 10-13 10 8 10 2 10 8 10-1 10 5 10-2 10 10 10-10 10-19 10 22 10-20 10 6 10-5 10 14 10-19 10 17 10 0 10-13 10 17 10 17 10-11 10 1 10 3 10 1 10 5 10-22 10-8 10 18 10-2 10 2 10-12 10 11 10-15 10 7 10 9 10-1 10 4 10-22 10 7 10 9 10-1 10-11 10 15 9 13 10-19 10-3 10 8 10 0 10-10 10 28 10-21 10 3 10-6 10 3 10-25 10 20 10-5 10 29 10-10 10-10 10 15 10 10 10-13 10-14 10-7 10 12 10-4 10 13 10-21 10 10 10-11 10 8 10 3 10-15 10 14 10-12 10 8 10 8 10 3 10-16 10 3 10 3 10 11 10-18 10-8 10 2 10-3 10 33 10-10 10-10 10-5 10 3 10-6 10 5 10 1 10 5 10-10 10 2 10-1 10-18 10 4 10 1 10 13 10-4 10-15 10-4 10 2 10 3 10-2 10-4 10 4 10 20 10-31 10-7 10 7 10-11 10 18 10-15 10 2 10-5 10 7 10-2 10-5 10-7 10 1 10 0 10 9 10-17 10 6 10 5 10 3 10 9 10 0 10 6 10-12 10-3 10-4 10 11 10-2 10 1 10-14 10 16 10 8 10-21 10-1 10 16 10-17 10-9 10-1 10 28 10-6 10 6 10-2 9 11 10-24 10 11 10-4 10-6 10-1 10 2 10 8 10-2 10 3 10 20 10-20 10 5 10 2 10 0 10 8 10 3 10 6 10-17 10-13 10 3 10 13 10-16 10 7 10 15 10 9 10-14 10-17 10 8 10 6 10 0 10 5 10 0 10-7 10 6 10-11 10 12 10-9 10 0 10 8 10 3 10 2 10-15 10 16 10-10 10-1 10 11 10-10 10 30 10-7 10-2 10 2 10-6 10 10 10 3 10-8"/>
<path stroke="#80acf8" d="M1459 6112l10 7 10 4 10 23 10 29 10-1 10 7 10 46 10 12 10 27 10 30 10 10 9-12 10-12 10-14 10-18 10-5 10-42 10 0 10-9 10-45 10-27 10-29 10 7 10 20 10-9 10-443 10-1535 10-1611 10-1204 10-396 10-8 10 194 10-137 10 101 10-249 10-49 10 206 10-180 10-26 10 53 10 1039 10 1144 10 1007 10 807 10 404 10 404 10 269 10 238 10 231 10 159 10 145 10 112 10 36 10 27 10-6 10-9 10 6 10 27 10-1 10-27 10-1 10-13 10 34 10-9 10-4 10 14 10-6 10-23 10-7 10 7 10-9 10-17 10 16 10-11 10-17 10 9 10-21 10 3 10-16 10-9 10-2 10 1 10 0 10-15 10-14 10-26 10 1 10-11 10-27 10-3 10-9 10-25 10 0 10-11 10-17 10-6 10 1 10-5 10-29 10-42 10-33 10-39 10-27 10-12 10-15 10-41 10-46 10-39 10-66 10-35 10-67 10-63 10-17 10-50 10-67 10-40 10-23 10-5 10-19 10-23 10-27 9 6 10 18 10 10 10 4 10 51 10 22 10 7 10 2 10 21 10 57 10 32 10 45 10 30 10 23 10 33 10 34 10 38 10 38 10 12 10 14 10 14 10 41 10 31 10 2 10 27 10 21 10 42 10 33 10 31 10-4 10 33 10 29 10 7 10-15 10 14 10 9 10 9 10 8 10 5 10 15 10-38 10-2 10-29 10 12 10-34 10-6 10-13 10-37 10-41 10-38 10-33 10-11 10-38 10-18 10-30 10-49 10-43 10-61 10-15 10-78 10-43 10-82 10-31 10 58 10 57 10 55 10 104 10 101 10 103 10 116 10 215 10 146 10 82 10 57 10 56 10 65 10 47 10 20 10 10 10 17 10 25 10 24 10-4 10 17 10-6 10 29 10 10 10 12 10-14 10 4 10 20 10 26 10-13 10 6 10 16 10 13 10-10 10 3 10 0 10 0 10 8 10 4 10-5 10 5 10 5 10-5 10 22 10-18 10 0 10 12 9 1 10-11 10 1 10 22 10 4 10-8 10-17 10 2 10 10 10-2 10 5 10 5 10-3 10 21 10-17 10-3 10 7 10 8 10 7 10-9 10-3 10-1 10-13 10 28 10 1 10 1 10-14 10 5 10 8 10-6 10-3 10-12 10 7 10 9 10 5 10 5 10-8 10-6 10 6 10 3 10-12 10 6 10 0 10 14 10 2 10 14 10 0 10-14 10-14 10 7 10 12 10-6 10-11 10 6 10-6 10 6 10 13 10 3 10-4 10-23 10 5 10 9 10 0 10 0 10 7 10 0 10 1 10-7 10-10 10-3 10 13 10-1 10 11 10 8 10-6 10-7 10 2 10-6 10-2 10-1 10 8 10 14 10-20 10 10 10-5 10-1 10 8 10-15 10 3 10 7 10 7 10 8 10 6 10-12 10 3 10 1 10-7 10 4 10-6 10 8 10 3 10-11 10 9 10-7 10-2 10 3 10 15 10 5 10 0 10 1 10-17 9 7 10 6 10-3 10-5 10 11 10-14 10-7 10 8 10-9 10 16 10-1 10-3 10-4 10-11 10 8 10 9 10-6 10-3 10-3 10 5 10-3 10 5 10-7 10 7 10 2 10-14 10 10 10-2 10-6 10 4 10-8 10 8 10-10 10 17 10 6 10-10 10-16 10-9 10 16 10 0 10 4 10 15 10-18 10 1 10-15 10 2 10 8 10 4 10-3 10-7 10 4 10-26 10 9 10 15 10-4 10-11 10 0 10 6 10 5 10 3 10 4 10-5 10-9 10 2 10-18 10 2 10 7 10 0 10-14 10 20 10-8 10-25 10 2 10 17 10-2 10 2 10-26 10 17 10 4 10 2 10 9 10 20 10-18 10-15 10 1 10-8 10-6 10-3 10 19 10-19 10-4 10-1 10 7 10 2 10 6 10-5 10-7 10 10 10-7 10 8 10-5 10 4 10-7 10-11 10 9 10 11 10 4 10-6 10 7 10-10 9 2 10-4 10 11 10 9 10 2 10-9 10 7 10-10 10 19 10-3 10-5 10 12 10-5 10 5 10-10 10-2 10-10 10 9 10 11 10-4 10-7 10-3 10-2 10-10 10 9 10 4 10 6 10 2 10-14 10 0 10 26 10-21 10 18 10-5 10-14 10 2 10-3 10-3 10 4 10 16 10-6 10 7 10 19 10-9 10-10 10 0 10 2 10-13 10 7 10-1 10 6 10-8 10 15 10-6 10-6 10 16"/>
<path stroke="#7eaff8" d="M1459 6105l10-29 10 49 10 27 10 1 10 31 10 66 10 7 10 13 10 35 10 1 10-4 9 18 10-33 10-44 10-24 10 18 10 0 10-29 10-25 10 1 10-18 10-45 10-3 10-7 10 20 10-463 10-1535 10-1611 10-1204 10-329 10-124 10-31 10 246 10-271 10-6 10 118 10 106 10-2 10 10 10-208 10 1039 10 1022 10 921 10 722 10 511 10 404 10 345 10 239 10 238 10 192 10 158 10 145 10 58 10 54 10 16 10-19 10 13 10-13 10 0 10 2 10 10 10 0 10-11 10 8 10-14 10-3 10-6 10 0 10-6 10-2 10-8 10-1 10-2 10 10 10 11 10-17 10-21 10 9 10 8 10-13 10-20 10-20 10 0 10 4 10-16 10-22 10-7 10-21 10 2 10-22 10-25 10 13 10-2 10-27 10-51 10 1 10-2 10-28 10-5 10 5 10-21 10-55 10-3 10-24 10-60 10-40 10-54 10-17 10-36 10-49 10-39 10-61 10-54 10-62 10-29 10-24 10-41 10-42 10-27 10-2 10 13 9 12 10 24 10-3 10 8 10-15 10 27 10 18 10 15 10 73 10 31 10 27 10 23 10 44 10 6 10 17 10 29 10 24 10 50 10 5 10 40 10 49 10 8 10 13 10 35 10 43 10 27 10 12 10 47 10-13 10 4 10 24 10 2 10 22 10 29 10-3 10 4 10 24 10 18 10 3 10-27 10 0 10-47 10 12 10-21 10-18 10-13 10-32 10-3 10-25 10-11 10-7 10-50 10-24 10-28 10-58 10-40 10-51 10-68 10-34 10-45 10-27 10-73 10-34 10 47 10 41 10 63 10 92 10 92 10 71 10 158 10 229 10 128 10 90 10 81 10 34 10 34 10 24 10 43 10 31 10 4 10 25 10 9 10 14 10 5 10 12 10 0 10 18 10-18 10 9 10 21 10 15 10 3 10 7 10 8 10-14 10-1 10 20 10-4 10 4 10-3 10 13 10-18 10 11 10-11 10 18 10-7 10 11 10-10 10 12 10 14 9 8 10 0 10-10 10-2 10 2 10-7 10-7 10 20 10-8 10-14 10 20 10 9 10-4 10 0 10 7 10 0 10-14 10 0 10 15 10 16 10 2 10-10 10 5 10 3 10-12 10 4 10 3 10-4 10-12 10 5 10 0 10 5 10-10 10 20 10 8 10-1 10-22 10-5 10 20 10 4 10-6 10 1 10-6 10 10 10 14 10-13 10-11 10 20 10 11 10-6 10 9 10-15 10 7 10-13 10 4 10-2 10-6 10 6 10 9 10-12 10 15 10-17 10 10 10 3 10-6 10-2 10-2 10 16 10 3 10-9 10-4 10 2 10-11 10 8 10-5 10-4 10 5 10 7 10-5 10 1 10-1 10 12 10-6 10-12 10 11 10 2 10 4 10-8 10 22 10-21 10 0 10 6 10-1 10-8 10 3 10-1 10-5 10 7 10-2 10-7 10 5 10 12 10-6 10-13 10 14 10-1 10 1 10-4 10 9 10 1 10-16 9 3 10 13 10-6 10 3 10-11 10 22 10-5 10-9 10 15 10 2 10-10 10 0 10 3 10-4 10 12 10 1 10-21 10 10 10-4 10 2 10-7 10 1 10 0 10-7 10 4 10 19 10-1 10-18 10-5 10 8 10 15 10-1 10-24 10-4 10-2 10 23 10 8 10-4 10 5 10-11 10 5 10-11 10 1 10 2 10-9 10-3 10 1 10 4 10-1 10 15 10 6 10-8 10-11 10-19 10 2 10 12 10 1 10 6 10-8 10-4 10-2 10-5 10-9 10-1 10 14 10-11 10 10 10-7 10-2 10-15 10 8 10 3 10 2 10-9 10 0 10 4 10-8 10-15 10-4 10-1 10 17 10 3 10-1 10 14 10-23 10 17 10-9 10 9 10-7 10-10 10-2 10 11 10 3 10-12 10 3 10 0 10-7 10 26 10-11 10-14 10-10 10 5 10 14 10-8 10-11 10 17 10 9 10-1 10 2 10 15 9 10 10-4 10-8 10-12 10 3 10-5 10-12 10-19 10 9 10 21 10-8 10 5 10 0 10-6 10 0 10 17 10 7 10-9 10-8 10-15 10 6 10 11 10 7 10 4 10 8 10 3 10-4 10-8 10 4 10-4 10 0 10 0 10 2 10-5 10 1 10 23 10-14 10-4 10 5 10-4 10 7 10-4 10 8 10-9 10 0 10 16 10 1 10-10 10-1 10 2 10 13 10 3 10-5 10-2 10 3 10 9"/>
<path stroke="#7cb2f9" d="M1459 6124l10 18 10-3 10 16 10 12 10 30 10 38 10 26 10 14 10 12 10 48 10 7 9 0 10-24 10-15 10-29 10-17 10-40 10-2 10-8 10-13 10-23 10-23 10-1 10 12 10 19 10-502 10-1543 10-1611 10-1204 10-493 10-11 10 146 10 114 10-169 10-118 10-2 10 165 10-148 10 149 10-124 10 1039 10 925 10 870 10 619 10 575 10 404 10 404 10 257 10 240 10 228 10 164 10 154 10 119 10 44 10-10 10 10 10 18 10 23 10-17 10-11 10 20 10-13 10 23 10 4 10-13 10 10 10-19 10-17 10 5 10-3 10-15 10 2 10-9 10-8 10 20 10-28 10-4 10 6 10-8 10-2 10-4 10 6 10-8 10-10 10-26 10-10 10-9 10-5 10-23 10 25 10-12 10-33 10-7 10-23 10-29 10-12 10 11 10-18 10-8 10-35 10-37 10-16 10-34 10-25 10-57 10-24 10-33 10-41 10-48 10-43 10-39 10-45 10-51 10-46 10-22 10-21 10-30 10-37 10-11 10 2 10-7 9 4 10-9 10 20 10 16 10-19 10 23 10 44 10 4 10 41 10 41 10 15 10 52 10 18 10 14 10 18 10 39 10 31 10 22 10 5 10 55 10 4 10 21 10 9 10 50 10 7 10 42 10 17 10 28 10 48 10 2 10 2 10 2 10 25 10 24 10-5 10 14 10-6 10-5 10 17 10 4 10 3 10 8 10-29 10-32 10-31 10-12 10-40 10 0 10-19 10-16 10-24 10-29 10-25 10-33 10-43 10-39 10-27 10-57 10-32 10-56 10-50 10-23 10-25 10-10 10 63 10 67 10 80 10 82 10 93 10 135 10 201 10 144 10 89 10 60 10 45 10 28 10 20 10 43 10 23 10 10 10 18 10 6 10 25 10-2 10 30 10-7 10-1 10-12 10 26 10 1 10 4 10 17 10 0 10 12 10 9 10 9 10-5 10 6 10 12 10-13 10 13 10-14 10-1 10 9 10 12 10 0 10 5 10-6 10-1 10-24 9 28 10 1 10-8 10-8 10-5 10 18 10-6 10 28 10-9 10-12 10-4 10 16 10 4 10 12 10-5 10 3 10-11 10 3 10-9 10 2 10 4 10-16 10-1 10 20 10-13 10 0 10-4 10 5 10 22 10-2 10 17 10-1 10-5 10-19 10 2 10 0 10-4 10 12 10-11 10 3 10 11 10 2 10-1 10-8 10-10 10 10 10 4 10-14 10-18 10 3 10 16 10 11 10-3 10 2 10 10 10-13 10-15 10 21 10 9 10 3 10 7 10-14 10 13 10-12 10-2 10-4 10 17 10-6 10-3 10-7 10 2 10 8 10-10 10-6 10-3 10 17 10-3 10 11 10-1 10-8 10 14 10-28 10 0 10 17 10 6 10-1 10 0 10 10 10-5 10 10 10-4 10-21 10 6 10 5 10-13 10 4 10 0 10 9 10-9 10 8 10-7 10 0 10-10 10 2 10 10 10 13 10-1 10 3 10-17 10 9 10 19 9-13 10-10 10 10 10-9 10 13 10-7 10 0 10-4 10-2 10 8 10-9 10 7 10-2 10-12 10 14 10-2 10-14 10-3 10 15 10 6 10-8 10 7 10-3 10 10 10-12 10 13 10-8 10-9 10 7 10 11 10 2 10 6 10-29 10 18 10 3 10-13 10-3 10-11 10-7 10 4 10 5 10 7 10-1 10-10 10-2 10-1 10 18 10 0 10 0 10-3 10 4 10-14 10-10 10-11 10 14 10 2 10-1 10 0 10 6 10-11 10 18 10-5 10 9 10-18 10 9 10 1 10-10 10 4 10-9 10 0 10-21 10 18 10 4 10-11 10-1 10-5 10 4 10-9 10 0 10-9 10 19 10-6 10 1 10-6 10 9 10-11 10 13 10-14 10-4 10 19 10-11 10 15 10-15 10 12 10-8 10-1 10 11 10 7 10-17 10 1 10-13 10 4 10-23 10 13 10-8 10 9 10 6 10 0 10 11 10 4 9-18 10 8 10 13 10-9 10 8 10-4 10-11 10-6 10-8 10 3 10 6 10 3 10 4 10 5 10-18 10 13 10-10 10 12 10-7 10 33 10-11 10 2 10-19 10-7 10 15 10 3 10-8 10 2 10 3 10-6 10 17 10-17 10 2 10 31 10-4 10-8 10-23 10 9 10 18 10-16 10 2 10 5 10-6 10 10 10 3 10-8 10 3 10-3 10 11 10-12 10 22 10 11 10-11 10 3 10-2 10 2"/>
<path stroke="#77b9f5" d="M1459 6124l10 9 10 8 10 23 10 26 10 28 10 23 10 33 10 42 10 10 10 2 10 1 9-20 10-12 10-22 10-7 10-11 10-26 10-26 10-1 10-6 10-44 10 1 10-13 10 13 10 4 10-487 10-1539 10-1611 10-1204 10-515 10 84 10-60 10 98 10 102 10-179 10 15 10-54 10 164 10 24 10-170 10 1039 10 847 10 825 10 553 10 542 10 439 10 405 10 333 10 240 10 238 10 189 10 160 10 143 10 98 10 35 10 20 10 9 10-38 10 12 10 3 10 2 10 8 10-23 10 26 10-13 10 5 10-18 10-4 10 5 10 18 10-18 10-12 10-4 10 6 10-9 10 8 10-9 10-8 10-1 10 5 10-11 10-2 10-3 10-31 10-6 10-4 10-7 10-20 10-6 10-4 10-19 10-15 10-1 10-6 10-38 10-8 10-29 10-16 10-10 10-14 10-42 10-7 10-23 10-22 10-37 10-26 10-45 10-23 10-55 10-48 10-47 10-36 10-66 10-61 10-10 10-9 10-40 10-18 10-21 10-20 10 26 9-16 10 26 10 22 10 4 10-18 10 34 10 12 10 41 10 11 10 25 10 16 10 36 10 31 10 54 10 7 10 10 10 25 10 24 10 19 10 17 10 43 10 21 10 15 10 23 10 39 10 43 10 3 10 8 10 2 10 25 10 35 10 5 10 15 10 20 10 24 10 20 10-1 10-2 10-6 10-4 10-10 10-33 10-1 10-28 10 2 10-11 10-19 10-3 10-56 10-22 10-31 10-42 10-20 10-42 10 16 10-63 10-38 10-28 10-59 10-35 10-33 10-24 10-71 10 62 10 30 10 29 10 80 10 106 10 102 10 132 10 212 10 125 10 92 10 65 10 22 10 53 10 36 10-7 10 31 10 25 10 14 10-4 10 17 10 5 10 26 10-1 10-3 10 1 10-9 10 6 10 36 10 7 10-2 10-4 10-4 10-5 10 20 10 14 10-18 10 8 10 17 10-4 10-5 10 5 10 3 10-17 10 12 10-6 10-2 10 5 9-20 10 23 10-23 10 22 10 4 10-3 10-7 10 0 10 10 10 5 10-10 10-8 10 15 10-8 10 3 10 4 10 14 10 8 10-10 10 23 10-8 10-12 10 13 10-22 10-9 10 19 10 1 10 1 10 4 10 2 10-7 10-13 10 8 10 4 10 1 10 9 10-8 10 7 10 7 10-10 10 17 10-4 10-2 10-3 10 11 10 0 10-7 10-9 10 2 10 2 10 7 10-5 10 23 10-19 10-11 10 3 10 10 10-15 10 11 10-13 10 9 10 8 10-1 10 4 10-2 10-7 10 4 10 3 10-2 10-4 10 2 10-4 10-2 10 2 10-3 10 5 10-7 10 3 10-2 10 8 10 14 10-2 10-5 10-4 10 1 10-12 10 18 10 12 10-7 10 1 10-6 10-7 10-21 10 25 10 9 10-5 10 10 10-1 10-18 10 4 10 1 10-9 10 20 10-6 10-2 10-3 10 9 10 0 10-3 10-9 10 9 9-7 10 19 10-12 10-9 10 10 10 0 10-3 10-3 10-10 10 5 10 5 10 2 10-3 10-5 10 1 10 8 10 1 10 5 10 2 10-2 10 0 10-11 10 11 10-6 10 7 10-12 10-2 10-9 10 1 10 14 10-3 10 4 10 1 10 4 10-4 10-6 10-3 10-21 10 12 10 4 10 2 10 3 10 1 10-3 10 1 10-8 10-1 10 9 10-3 10-4 10 3 10 0 10-1 10-7 10 0 10 5 10-2 10-12 10 13 10-9 10 4 10-32 10 11 10 9 10 5 10 13 10-3 10-22 10 3 10 6 10 0 10-1 10 7 10-6 10-7 10 13 10-5 10 18 10-1 10-22 10-14 10-12 10 21 10-2 10 2 10-12 10 1 10 2 10-4 10 7 10-9 10 7 10-9 10 3 10 1 10 12 10 9 10 4 10-15 10 15 10-22 10 4 10 11 10-9 10 9 10-6 10 0 10-12 10-3 10-1 9 11 10-9 10 7 10 2 10-2 10 1 10 14 10-10 10 14 10-11 10 0 10-1 10 9 10-12 10 3 10-6 10 10 10 5 10-4 10-10 10 15 10 1 10 0 10-2 10 1 10-12 10-2 10 5 10-4 10-4 10 13 10 6 10-8 10-15 10 30 10 0 10-12 10 9 10-9 10 1 10 14 10 0 10-6 10 8 10-7 10-1 10 6 10-3 10 6 10-1 10 10 10-15 10 9 10-8 10-10 10 1"/>
<path stroke="#70c2f1" d="M1459 6160l10 1 10 30 10 0 10 13 10 32 10 10 10 42 10 13 10 26 10-3 10 17 9-18 10-18 10-22 10-25 10 19 10-22 10-5 10-40 10-34 10-3 10-14 10-21 10 12 10 18 10-486 10-1549 10-1611 10-1204 10-433 10 35 10 198 10-232 10 65 10 37 10-23 10-29 10-140 10 2 10 29 10 1039 10 783 10 753 10 543 10 481 10 460 10 404 10 404 10 245 10 240 10 223 10 164 10 154 10 116 10 70 10 27 10-13 10 9 10-10 10 28 10 1 10 4 10-9 10 7 10 9 10-9 10 18 10-10 10-16 10 8 10-9 10 3 10-6 10-11 10-9 10-6 10 8 10-23 10-1 10 6 10-23 10 4 10-28 10-6 10 2 10 0 10-2 10-6 10-15 10-30 10-7 10-7 10-16 10-7 10 0 10-5 10-45 10-10 10-37 10-32 10-9 10-24 10-14 10-26 10-32 10-32 10-53 10-22 10-44 10-33 10-48 10-64 10-4 10-59 10-14 10-32 10-20 10-19 10-3 10 16 10-61 9-4 10 21 10 41 10-12 10-11 10 22 10 54 10 21 10 13 10 26 10 10 10 48 10 29 10 51 10-15 10 13 10 33 10 45 10-4 10 41 10 28 10 33 10 20 10 15 10 22 10-5 10 15 10 26 10 30 10 15 10 30 10-2 10 21 10 11 10 0 10 20 10 18 10-18 10 24 10 4 10-5 10-15 10-24 10 17 10-37 10-51 10-31 10-21 10-9 10-22 10-14 10-7 10-45 10-47 10-29 10-28 10-47 10-36 10-50 10-22 10-16 10-68 10-43 10 32 10 41 10 47 10 121 10 33 10 99 10 138 10 236 10 133 10 29 10 73 10 40 10 49 10 32 10 14 10 26 10 9 10 10 10 4 10 2 10 14 10-5 10 17 10 10 10 2 10 6 10-4 10 32 10 7 10 8 10-27 10-5 10 12 10-3 10 19 10-4 10-16 10 1 10-12 10 19 10-5 10 7 10 3 10 2 10-3 10-5 10 9 9 2 10 6 10 0 10 10 10-11 10-1 10 3 10 5 10 8 10 7 10 5 10-1 10-14 10-2 10 16 10 3 10-18 10-10 10 3 10-10 10 21 10 0 10 9 10-20 10 7 10 3 10 3 10 10 10 0 10 20 10-7 10 2 10-15 10-11 10 5 10 14 10 7 10-13 10 4 10 1 10 8 10-7 10-3 10-6 10 12 10-2 10 11 10-9 10-2 10 3 10-10 10 15 10-18 10 2 10 0 10 3 10 9 10 4 10-12 10 4 10-1 10 5 10-8 10-1 10 16 10-21 10-1 10 2 10 5 10 5 10-5 10-17 10 16 10 16 10-2 10-2 10-8 10 15 10 0 10 0 10-12 10-6 10 5 10-5 10 7 10 2 10 22 10-1 10 1 10-13 10-3 10 9 10-5 10-1 10-5 10 6 10 5 10-15 10 6 10-8 10 13 10 0 10 1 10 6 10-12 10 13 10-8 10 17 10-17 10-2 10-10 9-12 10 18 10 2 10 12 10-2 10-5 10-2 10-7 10-1 10-5 10 12 10-1 10 9 10-3 10 17 10-10 10-7 10 1 10-1 10 11 10-4 10-2 10-8 10-6 10 5 10-1 10-4 10 8 10-12 10-15 10 7 10 11 10-1 10-9 10-5 10 19 10-5 10 6 10 0 10-6 10-5 10 4 10 7 10-3 10 6 10-22 10 18 10-10 10-1 10 0 10 9 10-1 10-2 10 1 10-3 10-5 10 2 10-6 10-7 10 8 10-8 10 2 10 6 10-7 10-9 10 8 10 16 10-16 10-9 10 13 10-3 10-7 10 21 10-18 10-9 10-5 10-8 10 17 10-9 10-17 10 31 10-2 10-11 10 7 10 12 10-13 10-5 10 5 10-6 10-9 10-5 10 3 10 15 10-1 10 17 10-3 10-12 10-9 10 1 10 1 10 17 10 2 10 0 10-5 10-2 10-24 10-1 10 17 10 5 10 1 9 1 10 1 10 13 10-22 10-5 10-2 10 4 10-1 10 7 10 17 10-10 10-4 10 10 10 13 10-23 10 8 10-3 10 3 10-19 10 19 10-13 10 25 10-18 10 4 10 17 10-12 10-4 10 12 10-12 10-1 10-5 10 14 10 1 10 3 10-8 10 2 10 6 10-18 10 9 10-9 10-1 10 13 10 16 10-9 10-8 10-7 10 4 10 2 10 11 10 6 10-30 10 5 10 24 10-2 10-2 10 20"/>
<path stroke="#6acaec" d="M1459 6148l10 12 10 21 10 35 10-9 10 49 10 26 10-10 10 29 10 26 10 15 10-2 9-1 10-18 10-8 10-11 10-27 10-26 10-17 10-25 10-36 10-24 10 6 10 21 10-17 10 16 10-496 10-1544 10-1611 10-1204 10-389 10-97 10-36 10-6 10 141 10-143 10 3 10 138 10 17 10-170 10 51 10 1039 10 729 10 693 10 540 10 433 10 433 10 409 10 405 10 320 10 240 10 240 10 185 10 164 10 152 10 87 10 39 10 15 10 7 10-8 10-18 10 21 10 10 10 4 10 9 10 4 10-6 10-15 10 6 10 5 10-7 10 3 10-37 10-6 10 12 10 22 10-4 10 0 10-3 10 9 10-17 10-11 10-8 10-2 10-24 10-2 10 9 10-15 10-32 10-24 10 8 10-13 10-20 10-21 10-1 10-17 10-8 10 4 10-39 10-17 10-24 10-17 10-14 10-26 10-39 10-15 10-59 10-55 10 15 10-53 10-30 10-52 10-42 10-35 10-49 10-24 10-43 10-17 10 7 10-23 10-15 10 5 9 17 10-33 10 22 10 17 10 37 10-4 10 20 10 6 10 9 10 51 10 38 10 5 10 14 10 29 10 20 10 34 10 23 10 22 10 49 10-4 10 9 10 38 10 23 10 13 10 13 10 27 10 30 10 13 10 20 10 31 10 12 10 12 10-1 10 29 10 13 10 5 10 2 10-24 10 18 10-7 10-6 10-16 10-22 10-7 10 4 10-16 10-40 10-36 10-18 10-35 10-9 10 0 10-27 10-31 10-39 10-36 10-15 10-55 10-22 10-42 10-49 10-51 10-27 10 28 10 46 10 41 10 88 10 99 10 119 10 102 10 219 10 111 10 80 10 49 10 39 10 22 10 39 10 29 10 5 10 1 10 21 10 1 10 8 10 3 10 24 10-3 10 3 10 0 10 9 10 1 10 20 10-8 10-15 10 5 10 5 10 0 10-7 10 15 10 15 10 4 10-1 10-6 10-8 10 10 10 8 10-12 10-6 10 13 10-6 10 6 9 6 10 0 10 7 10 11 10 3 10-4 10-10 10-5 10-6 10 12 10 0 10 12 10 2 10-16 10 3 10-15 10 4 10 12 10 7 10 16 10-21 10-7 10-25 10 3 10 16 10 19 10 15 10-4 10-5 10 10 10-13 10-8 10 13 10 0 10 10 10-15 10 9 10 6 10 11 10-3 10 4 10-21 10-6 10 14 10 3 10-5 10-4 10 9 10-17 10-1 10-12 10 35 10 6 10-16 10-4 10 3 10 9 10-9 10 4 10-14 10-4 10 0 10 24 10-8 10-15 10-8 10 2 10 2 10 17 10-11 10-8 10 8 10 4 10 7 10 0 10 5 10-4 10 3 10 13 10-1 10-9 10-3 10-11 10-1 10-3 10 10 10-5 10 13 10 6 10-11 10 1 10 9 10-11 10-8 10 1 10-3 10 1 10 1 10 15 10 16 10-5 10 11 10-2 10-1 10-11 10 2 10-5 10 6 10-3 10-16 10 14 9 12 10-21 10-4 10 5 10 5 10-3 10 4 10-10 10 7 10 5 10-7 10 8 10-8 10 11 10 0 10-7 10 5 10-12 10 3 10-1 10 18 10-13 10-3 10 17 10-12 10-6 10 6 10 6 10 5 10-10 10-4 10-1 10-19 10 9 10 2 10 16 10-9 10-10 10 11 10-21 10 13 10 0 10 4 10 2 10 22 10-22 10 15 10-22 10 10 10-1 10-26 10 17 10 1 10 9 10-5 10-8 10-13 10 29 10-9 10-10 10-8 10 10 10-3 10-17 10 5 10-13 10 22 10 5 10-5 10 7 10-12 10 9 10-8 10 11 10-1 10-10 10-9 10 10 10 8 10-14 10 6 10-9 10-13 10 0 10 18 10-16 10-6 10 11 10 4 10-15 10 3 10 0 10-6 10 2 10-18 10 4 10 12 10 6 10 6 10-10 10 16 10-10 10 8 10 15 10-18 10-3 10 0 10 5 10 0 10 5 9-14 10-7 10 10 10 4 10-1 10-5 10 3 10 8 10 2 10-4 10 2 10 4 10-13 10 2 10-4 10 15 10-9 10 4 10 4 10 6 10 2 10 0 10-5 10 0 10-18 10 5 10 5 10 5 10 9 10 4 10-8 10 13 10-21 10-9 10 23 10-13 10-4 10-2 10 4 10-7 10 19 10 6 10-6 10 3 10 14 10-12 10-6 10 8 10-1 10-4 10 24 10-1 10 3 10-5 10 8 10 5"/>
<path stroke="#64d2e8" d="M1459 6163l10 15 10 17 10 9 10 40 10 4 10 20 10 69 10 14 10 3 10 35 10-27 9-28 10-14 10-20 10-4 10-26 10-21 10-7 10-15 10 7 10-11 10-45 10-21 10 24 10 29 10-523 10-1554 10-1611 10-1204 10-435 10 31 10 81 10-63 10-130 10 144 10 32 10-102 10 111 10 40 10-200 10 1039 10 683 10 641 10 542 10 394 10 393 10 398 10 404 10 396 10 241 10 240 10 219 10 166 10 157 10 118 10 71 10 37 10 8 10-6 10 14 10-6 10 0 10 19 10-12 10-18 10 9 10 2 10-5 10 7 10 14 10-14 10-2 10 0 10-24 10 1 10 9 10 1 10-27 10-6 10 21 10-20 10-2 10-4 10-26 10-12 10 7 10-12 10-17 10-5 10-15 10 0 10-29 10-22 10 6 10 4 10-17 10-33 10-16 10-14 10-20 10-3 10-32 10-30 10-22 10-45 10-20 10-26 10-47 10-39 10-33 10-41 10-44 10-40 10-17 10-46 10-50 10-12 10-7 10-32 10-8 10 20 9 4 10 16 10-10 10 37 10-14 10 32 10 13 10 29 10 16 10 11 10 25 10 50 10 20 10 15 10-6 10 42 10 28 10 29 10 15 10 8 10 37 10-4 10 12 10 24 10 25 10 1 10 56 10 29 10-10 10 45 10 8 10 15 10 22 10 16 10 4 10 1 10 1 10 2 10 7 10 2 10-11 10 2 10 0 10-36 10 7 10-38 10-37 10 4 10 3 10-29 10-41 10-17 10-48 10-33 10-10 10-46 10-12 10-39 10-47 10-56 10-42 10-57 10 9 10-39 10 80 10 54 10 56 10 89 10 90 10 152 10 228 10 114 10 72 10 44 10 40 10 43 10 18 10 31 10 11 10 1 10 15 10 3 10-1 10-5 10 2 10 6 10 9 10 21 10 7 10 5 10 1 10-2 10 7 10 0 10-13 10 9 10 19 10-6 10-3 10 2 10-21 10 2 10-5 10 19 10-3 10 4 10 5 10 10 10-4 10 17 9-16 10-23 10 1 10 33 10-5 10 7 10 2 10-2 10-12 10-2 10 14 10-6 10 1 10-15 10 24 10-1 10 8 10-4 10 15 10-2 10-7 10 1 10 3 10-4 10 2 10 4 10-4 10-3 10-4 10 16 10-4 10-15 10 16 10-6 10 3 10-12 10-6 10 6 10 9 10 14 10-3 10 2 10-7 10-15 10-10 10 9 10 6 10 5 10-1 10 4 10-15 10 15 10-1 10 6 10-10 10-12 10 5 10 6 10 4 10-3 10 8 10-14 10-7 10 3 10 3 10 12 10-13 10 21 10 4 10-22 10 12 10 9 10 11 10-18 10-9 10 4 10 18 10-5 10 4 10-13 10-10 10 4 10 2 10-8 10-5 10 22 10-4 10 12 10 2 10-15 10 13 10-3 10-13 10 1 10 18 10-4 10-1 10 5 10-22 10 6 10 3 10-6 10 4 10 14 10-4 10-6 10 0 10-8 10-2 10 3 10 6 9 1 10-15 10 23 10-13 10 0 10 10 10-2 10-6 10 15 10-7 10-7 10 10 10-5 10-12 10 4 10 11 10 10 10 7 10-20 10 0 10 0 10 0 10 5 10-19 10 0 10-6 10 19 10-6 10-4 10 14 10 3 10 1 10-14 10-1 10 8 10-8 10 7 10-3 10 0 10 6 10-12 10 2 10 20 10-9 10-18 10 23 10-16 10-2 10 12 10-5 10 6 10 7 10-14 10-5 10 15 10-5 10-7 10 10 10-18 10 7 10-7 10-5 10 10 10-6 10-2 10-3 10 5 10-10 10-3 10-9 10 0 10 20 10 2 10-8 10-9 10 10 10-2 10-4 10 1 10-9 10 12 10-7 10 7 10-7 10 8 10-3 10-11 10 10 10-4 10-7 10 3 10 3 10-1 10 7 10-11 10-5 10-10 10 7 10-3 10 12 10-3 10 10 10-5 10 3 10-10 10 21 10-6 10-1 10-9 10 8 9 1 10-14 10 10 10 3 10-12 10 23 10-11 10-5 10-1 10 17 10 5 10-3 10 0 10-13 10 3 10-13 10 6 10-3 10 10 10 4 10-6 10-7 10 11 10-12 10 8 10-11 10 18 10 1 10-7 10 3 10 5 10-7 10-6 10 9 10-5 10 8 10 7 10-14 10 10 10 4 10-8 10 11 10 5 10-2 10-4 10-8 10 6 10 7 10 9 10-3 10 0 10-12 10 17 10 10 10 4 10-8"/>
</g>
<text class="tl" text-anchor="end" transform="translate(132.0 755.9) scale(1 1.035)">0.0</text>
<text class="tl" text-anchor="end" transform="translate(132.0 622.5) scale(1 1.035)">0.2</text>
<text class="tl" text-anchor="end" transform="translate(132.0 489.2) scale(1 1.035)">0.4</text>
<text class="tl" text-anchor="end" transform="translate(132.0 355.8) scale(1 1.035)">0.6</text>
<text class="tl" text-anchor="end" transform="translate(132.0 222.5) scale(1 1.035)">0.8</text>
<text class="tl" text-anchor="end" transform="translate(132.0 89.1) scale(1 1.035)">1.0</text>
<text class="tl" text-anchor="middle" transform="translate(192.0 786.0) scale(1 1.030)">1000</text>
<text class="tl" text-anchor="middle" transform="translate(307.4 786.0) scale(1 1.030)">1500</text>
<text class="tl" text-anchor="middle" transform="translate(422.7 786.0) scale(1 1.030)">2000</text>
<text class="tl" text-anchor="middle" transform="translate(538.0 786.0) scale(1 1.030)">2500</text>
<text class="tl" text-anchor="middle" transform="translate(653.4 786.0) scale(1 1.030)">3000</text>
<text class="ax" text-anchor="middle" x="409.1" y="835.5">Raman Shift (cm<tspan class="sup" dy="-14.2">-1</tspan><tspan dy="14.2">)</tspan></text>
<text class="ax ay" text-anchor="middle" transform="translate(57.9 408.2) rotate(-90)">Intensity (a.u.)</text>
<text class="pl" x="2.2" y="59.6">a</text>
<text class="ti" transform="translate(423.7 117.2) scale(1 1.040)">AMC-300</text>
<rect x="431.2" y="264.0" width="4.4" height="375.0" fill="url(#ag)"/><path d="M424.6 636.6h17.6l-8.8 18.4z" fill="#78cde6"/>
<text class="t0" transform="translate(462.4 268.4) scale(1 1.050)" stroke="#fff" stroke-width="0.5">0</text>
<text class="t1" transform="translate(454.6 657.0) scale(1 1.030)" stroke="#fff" stroke-width="0.3">42 min</text>
</g>
<g id="panel-b">
<rect x="827.5" y="43.6" width="518.9" height="700.2" fill="none" stroke="#000" stroke-width="6.4"/>
<path d="M827.5 744.0h13.8M827.5 677.3h6.2M827.5 610.6h13.8M827.5 544.0h6.2M827.5 477.3h13.8M827.5 410.6h6.2M827.5 343.9h13.8M827.5 277.2h6.2M827.5 210.6h13.8M827.5 143.9h6.2M827.5 77.2h13.8M878.9 743.8v-13.4M936.6 743.8v-6.2M994.2 743.8v-13.4M1051.9 743.8v-6.2M1109.6 743.8v-13.4M1167.3 743.8v-6.2M1224.9 743.8v-13.4M1282.6 743.8v-6.2M1340.3 743.8v-13.4" fill="none" stroke="#000" stroke-width="6.3"/>
<g class="c" transform="scale(.1)">
<path stroke="#f4a0ce" d="M8328 5324l10 12 10 13 10 36 10 43 10 8 10 33 10 42 10 48 10 3 10 15 10 7 9-18 10-16 10-16 10-7 10-43 10 25 10-34 10 9 10-25 10 14 10-51 10-10 10 52 10-22 10-106 10-1227 10-1590 10-1202 10-357 10-96 10-85 10 61 10-33 10-29 10 4 10 86 10 67 10-161 10 52 10 1039 10 1142 10 999 10 782 10 367 10 293 10 132 10 97 10 30 10 12 10 23 10-23 10 27 10 22 10-2 10 0 10 2 10-7 10 8 10-34 10 9 10-42 10-19 10 2 10-6 10-8 10-23 10-49 10-9 10-2 10-49 10 4 10-10 10-59 10-13 10-27 10-16 10-20 10-27 10-30 10-58 10 11 10 1 10-66 10-34 10-71 10-28 10-55 10-61 10-10 10-13 10-51 10-7 10-32 10-32 10-11 10-76 10-19 10-82 10-58 10-27 10-62 10-88 10-46 10-109 10-9 10-91 10-7 10-71 10-94 10-1 10-81 10-33 10-41 10-63 10-59 10-47 10-31 10-10 10 39 10-91 9-66 10 12 10 22 10 28 10-22 10-10 10 28 10-6 10-26 10 2 10 13 10 3 10 27 10 3 10 22 10 60 10 36 10 12 10 28 10 122 10 62 10-11 10 34 10 40 10 87 10 27 10 23 10 34 10 60 10 39 10 9 10 22 10-2 10 90 10 4 10-43 10 30 10-20 10-46 10 28 10-26 10-68 10 22 10 7 10-86 10-18 10-37 10-37 10-65 10-11 10-58 10-47 10-30 10-67 10-31 10-17 10-104 10 75 10 19 10 24 10 19 10 25 10 87 10 48 10 159 10 174 10 149 10 172 10 167 10 122 10 127 10 100 10 154 10 125 10 207 10 212 10 157 10 106 10 112 10 62 10 60 10 48 10 13 10 46 10 80 10 18 10 27 10 25 10 31 10 8 10 60 10 18 10-5 10 11 10 5 10 26 10 20 10 0 10 14 10 33 10-10 10 23 10-8 10 9 10 3 10-1 10 26 10-4 10 9 10 9 9 4 10 11 10 1 10 2 10 13 10-9 10 10 10 22 10-3 10 2 10 28 10 1 10 17 10 9 10 16 10 5 10 6 10 31 10-7 10-6 10-2 10-3 10 10 10-4 10 6 10 18 10 12 10-13 10 2 10 28 10 6 10-17 10 3 10 22 10-10 10-9 10 1 10 8 10 7 10 7 10 5 10-5 10-23 10-10 10 24 10 25 10-1 10 2 10 2 10 16 10-7 10 4 10-4 10 15 10-7 10 11 10 2 10 1 10 1 10 3 10 3 10 3 10 5 10 3 10 1 10-20 10 3 10 18 10 17 10-14 10 7 10 2 10-5 10 29 10 3 10-4 10-12 10 12 10 5 10 6 10 4 10 3 10 10 10 7 10 3 10-7 10-6 10 9 10 10 10-8 10 5 10 2 10 10 10 10 10-3 10 6 10-8 10 17 10-2 10 3 10 12 10 1 10 7 10-1 10-1 10-26 10 23 10-3 10 9 10-2 10 6 9 8 10-15 10-3 10 25 10-2 10 3 10 13 10-9 10-6 10 2 10-2 10-11 10 15 10-7 10-11 10 41 10-4 10-15 10 2 10 11 10-13 10 0 10 22 10-10 10 4 10-1 10 12 10-9 10 0 10 9 10 0 10-16 10-8 10 24 10-8 10 4 10 4 10-5 10-14 10 2 10 15 10-3 10-5 10-8 10 6 10 1 10 0 10-5 10 21 10-21 10 1 10 2 10 11 10-8 10-19 10 14 10 15 10-12 10-2 10 0 10 12 10-12 10-8 10 40 10-22 10-15 10 7 10 14 10-14 10-25 10 4 10-15 10 10 10 9 10 9 10-16 10 17 10 1 10-2 10-7 10-2 10 13 10 3 10-25 10 3 10 2 10 4 10-4 10 7 10-13 10-4 10 6 10-6 10 8 10 5 10-10 10 5 10 9 10-17 10 8 10-1 10-10 10 21 10 1 10-11 10 7 10 5 10 0 10 2 10 2 9-5 10 1 10-14 10 8 10-9 10 11 10-9 10 14 10-5 10 7 10-8 10 18 10 6 10-4 10 11 10-16 10 8 10-1 10-5 10 3 10 14 10 12 10 9 10-2 10-1 10 1 10-10 10 12 10 8 10-11 10-18 10 17 10 1 10 1 10-9 10-1 10 12 10-5 10 6 10-3 10-9 10 32 10 9 10 4 10 2 10-9 10-3 10-14 10-3 10 10 10 9 10-1 10 2 10 10 10-4 10 10"/>
<path stroke="#ea9fd2" d="M8328 5527l10-21 10 50 10 25 10-8 10 3 10 97 10 74 10 11 10-16 10-8 10 2 9 10 10-35 10 1 10-4 10-22 10-41 10-3 10-49 10 21 10-14 10 38 10-9 10-11 10 13 10-166 10-1344 10-1600 10-1204 10-516 10 92 10 19 10-76 10 17 10 124 10-147 10-51 10 213 10-166 10 1 10 1039 10 1143 10 1003 10 793 10 385 10 354 10 193 10 108 10 89 10 21 10 21 10 48 10-4 10-14 10-1 10 8 10 21 10-17 10-11 10-16 10-31 10 8 10-18 10-3 10-43 10 9 10-36 10 33 10 10 10-30 10-12 10-38 10-17 10-17 10 9 10-17 10-31 10-1 10-21 10-40 10-10 10-26 10-48 10-27 10 2 10-44 10-33 10-31 10-59 10-15 10 3 10 8 10-33 10-13 10-38 10-13 10-36 10-1 10-34 10-43 10-26 10-60 10-37 10-41 10-36 10-54 10-18 10-88 10-55 10-52 10-62 10-27 10-23 10-70 10-16 10-39 10 20 10-37 10-32 10-32 10-16 9-20 10 23 10 8 10-16 10 16 10-2 10-11 10 43 10 12 10-40 10 11 10-27 10 20 10 28 10-7 10 39 10 23 10 50 10 46 10 31 10 44 10 25 10 48 10 12 10 15 10 31 10 67 10-6 10 72 10 3 10 14 10 4 10 40 10 22 10-22 10-12 10 35 10-4 10 4 10 33 10-68 10-8 10-34 10-35 10 3 10-56 10-6 10 0 10-52 10-35 10-17 10-37 10-76 10-32 10-14 10-8 10-64 10 16 10 46 10-35 10 41 10 82 10 68 10 82 10 107 10 87 10 109 10 80 10 138 10 129 10 96 10 81 10 74 10 93 10 197 10 159 10 86 10 57 10 95 10 50 10 65 10 43 10 32 10 9 10 39 10 23 10 17 10 11 10 24 10 11 10 4 10 20 10 30 10 18 10 11 10 17 10 23 10 13 10 7 10 24 10-40 10 9 10 24 10 15 10-11 10 26 10 10 10-15 10 8 10-4 9 8 10 7 10 13 10-4 10 3 10 5 10 12 10-9 10 12 10 3 10 24 10 22 10-8 10 18 10 16 10-3 10-9 10 14 10 10 10-2 10 1 10 7 10 24 10-13 10 12 10-22 10 20 10 1 10 5 10 1 10-21 10 20 10-3 10 11 10 9 10-5 10 3 10 7 10 13 10-7 10-32 10 22 10 4 10 14 10-32 10 35 10 9 10 17 10-16 10-1 10-2 10 5 10-12 10-2 10 2 10 40 10 2 10-7 10-10 10 33 10-26 10 2 10-10 10 24 10 9 10 8 10 1 10 4 10 13 10-22 10 0 10 14 10 20 10-20 10 26 10 2 10 4 10-1 10-10 10-7 10 4 10 17 10-13 10-4 10 4 10-11 10 28 10 12 10 7 10 3 10-9 10 2 10 8 10-10 10 9 10 9 10 6 10 11 10-5 10 6 10-4 10-5 10-2 10 8 10-17 10 21 10-6 10 4 10 1 10 10 10 6 9-9 10 18 10-8 10 12 10 10 10-12 10 1 10-21 10 24 10-5 10-1 10-1 10 7 10 14 10-14 10-6 10 1 10 2 10-6 10-1 10 3 10 14 10-8 10 14 10-5 10 11 10-3 10-9 10 6 10-8 10 9 10-15 10 10 10-20 10 8 10 10 10 14 10 0 10-21 10 19 10 11 10-12 10-13 10 8 10 8 10-3 10-1 10-13 10-12 10 12 10 11 10 8 10 8 10-11 10 8 10-17 10 0 10 5 10-18 10 20 10-15 10 1 10-2 10 2 10 10 10-11 10-11 10 24 10-9 10-2 10 0 10-6 10 2 10 3 10-14 10 14 10 0 10 0 10 4 10-2 10-18 10 12 10-25 10 26 10 18 10-7 10 2 10-22 10-3 10 13 10-3 10 0 10-26 10 10 10 4 10-1 10 3 10 3 10 9 10-4 10-2 10 13 10-7 10 9 10 9 10-11 10-9 10-8 10 11 10 13 9 1 10-4 10-3 10-6 10 4 10-9 10 11 10-4 10-2 10 1 10 0 10 15 10-10 10 9 10 1 10 9 10-8 10 5 10 4 10-9 10 9 10-5 10 0 10-2 10 4 10 13 10-5 10-4 10-14 10-6 10 7 10 3 10 33 10-2 10 5 10-12 10-4 10-1 10 0 10 2 10 7 10 8 10-7 10 4 10-7 10 11 10 5 10 7 10-8 10 10 10 19 10-4 10-1 10-6 10 1 10-12"/>
<path stroke="#e09ed5" d="M8328 5626l10 5 10-4 10 0 10 11 10 72 10 43 10 47 10 33 10 1 10-12 10-21 9 25 10-14 10 1 10-47 10-35 10 13 10 4 10-27 10-26 10 15 10-7 10-15 10 20 10-28 10-182 10-1374 10-1603 10-1204 10-320 10 86 10-71 10-56 10-102 10-72 10 203 10-200 10 49 10 67 10-74 10 1039 10 1143 10 1005 10 799 10 396 10 376 10 225 10 129 10 101 10 29 10 55 10 22 10-9 10 11 10 0 10-5 10 7 10 1 10-6 10 0 10-12 10-19 10 16 10-14 10-21 10 1 10-7 10-38 10-14 10-31 10-14 10 19 10 8 10-11 10-29 10 46 10-41 10-44 10-9 10-17 10-8 10 7 10-53 10-18 10-35 10-21 10-51 10-6 10-8 10 0 10 7 10-22 10-27 10 0 10 28 10-20 10-68 10-2 10-30 10 5 10-39 10-32 10-65 10-46 10-39 10-48 10-15 10-69 10-16 10-49 10-64 10 5 10-34 10-25 10-34 10-35 10-21 10-19 10-26 10 28 10-4 9-9 10 11 10-33 10 0 10 8 10 13 10-3 10-29 10 24 10-33 10-6 10 6 10 47 10 8 10-19 10 39 10 42 10 31 10 8 10 66 10-10 10 27 10 52 10 8 10 83 10 23 10-5 10-13 10 57 10 38 10 0 10 7 10 26 10 18 10-33 10 28 10 23 10-15 10-43 10-13 10 2 10 13 10-30 10-81 10-5 10-21 10 30 10-20 10-18 10-65 10-3 10-21 10-18 10 23 10-81 10 17 10-28 10 3 10-15 10 4 10 19 10-9 10 89 10 66 10 58 10 101 10 109 10 66 10 108 10 124 10 74 10 89 10 59 10 107 10 96 10 115 10 81 10 77 10 60 10 64 10 33 10 21 10 23 10 39 10 9 10 35 10 18 10 18 10 13 10 8 10 3 10 3 10 16 10 26 10 2 10 3 10 26 10 21 10 3 10-18 10 21 10 11 10-2 10 23 10 12 10-3 10-9 10 11 10 10 10 18 9-25 10 21 10-15 10 16 10-9 10-8 10 26 10-1 10 1 10-1 10 19 10-2 10 17 10 25 10-5 10-2 10 14 10 9 10-3 10-8 10 27 10-8 10-12 10 26 10-2 10 6 10 2 10-7 10 27 10 3 10 11 10-4 10-22 10 20 10 5 10 4 10-6 10 5 10 8 10 5 10-3 10 10 10 18 10-26 10-1 10 8 10 1 10-8 10 13 10-1 10 6 10-13 10 30 10 5 10-23 10 15 10 5 10 7 10 16 10-13 10-12 10-1 10 16 10 2 10-18 10 11 10 13 10-10 10 9 10 20 10 1 10-14 10 5 10 3 10-4 10 13 10 15 10-6 10 4 10-2 10 7 10 5 10 10 10-10 10-18 10 23 10-11 10 1 10 15 10 11 10-8 10 6 10 3 10 4 10-18 10 25 10-7 10-15 10 10 10-12 10 14 10 6 10-2 10 14 10 0 10-4 10 10 10-5 10-7 10 18 10 0 9-4 10 9 10-11 10-6 10 14 10 0 10 9 10 0 10-4 10 4 10 0 10 6 10-12 10-2 10 14 10-4 10-19 10 19 10-7 10-14 10 19 10 1 10 27 10-19 10-2 10-2 10 5 10-4 10-3 10 3 10 10 10 3 10 0 10 3 10 6 10 7 10-7 10 3 10-3 10 7 10 3 10-6 10-5 10-24 10 10 10-6 10 2 10 2 10 6 10-5 10-2 10 16 10-11 10 2 10 13 10-1 10-14 10-9 10 5 10-9 10-1 10 20 10 5 10-11 10 6 10 0 10-9 10 1 10 4 10 8 10-27 10 18 10-1 10-14 10 4 10 9 10 6 10-18 10-5 10 22 10 4 10-16 10-16 10 12 10-8 10 19 10 9 10 0 10-15 10-5 10-7 10 20 10-22 10 8 10-23 10 11 10 23 10-5 10 5 10-19 10 4 10-8 10 16 10 6 10-4 10-2 10 9 10-8 10-10 10 10 9 6 10 3 10-7 10 3 10-3 10-7 10 10 10 5 10 3 10-14 10 8 10 3 10 5 10-8 10 2 10 15 10-12 10 1 10-7 10 4 10 7 10 13 10-12 10-7 10 17 10 0 10-4 10 5 10-3 10 7 10 6 10-14 10 21 10-11 10 9 10-3 10 6 10-4 10 6 10-5 10 14 10 4 10-6 10-8 10 10 10-19 10 12 10-3 10 22 10 3 10 3 10 3 10 6 10-6 10 2 10-20"/>
<path stroke="#d59dd9" d="M8328 5692l10 15 10 23 10 21 10 24 10 35 10 38 10 25 10 33 10 14 10-19 10 6 9-45 10 13 10-36 10 3 10-9 10-21 10-9 10-1 10-6 10 0 10-4 10-31 10 44 10-40 10-230 10-1409 10-1605 10-1204 10-368 10 85 10-236 10 121 10-130 10 175 10-113 10 27 10-56 10 85 10-80 10 1039 10 1143 10 1006 10 803 10 397 10 384 10 238 10 186 10 121 10 55 10 18 10 34 10 22 10-11 10 5 10-7 10-2 10 42 10-14 10-7 10-6 10-17 10-25 10 16 10 2 10-14 10-13 10 1 10-19 10-21 10 11 10-27 10 12 10-31 10 11 10-1 10 2 10-20 10-18 10-13 10-9 10-15 10-14 10-19 10-26 10-10 10-23 10 4 10 2 10-34 10 6 10-14 10 8 10 7 10-5 10-16 10-50 10-2 10-28 10-17 10-30 10-7 10-57 10-28 10-18 10-46 10 1 10-31 10-49 10-60 10-6 10-57 10-31 10 7 10-36 10-41 10 9 10-48 10 31 10-42 10-18 9-21 10 2 10 10 10 37 10-46 10-1 10-3 10 25 10 43 10-29 10 14 10-6 10-12 10 35 10-4 10 34 10 26 10-1 10 53 10 23 10 18 10 0 10 32 10 15 10 51 10 41 10 7 10-16 10 19 10 33 10 24 10-14 10 11 10 44 10 30 10-53 10 4 10 1 10-9 10-1 10-4 10-13 10 16 10-31 10-19 10-44 10-27 10 1 10-13 10-19 10-53 10-20 10 8 10-46 10 12 10-38 10-6 10 16 10-2 10 5 10-6 10 12 10 93 10 55 10 35 10 73 10 85 10 86 10 85 10 71 10 88 10 96 10 37 10 74 10 112 10 79 10 69 10 51 10 71 10 19 10 29 10 19 10 29 10 23 10-1 10 11 10 22 10 26 10 0 10 18 10 0 10 23 10 7 10 7 10 17 10 2 10 25 10-13 10 16 10 11 10 6 10 7 10 10 10-2 10 9 10 3 10-1 10 6 10 10 10-10 9-14 10 21 10-3 10 16 10 5 10 12 10 3 10 6 10-2 10 5 10-20 10 26 10 2 10 4 10 31 10 16 10-17 10 14 10 0 10 24 10-2 10-7 10-15 10-14 10 21 10-9 10 11 10 9 10 5 10 4 10 15 10-5 10 9 10-9 10-25 10 28 10-15 10 21 10 3 10-10 10 2 10-5 10-3 10 16 10 10 10-5 10 0 10-10 10 32 10-14 10 0 10 8 10 10 10 5 10 4 10-20 10 7 10 7 10 2 10-3 10-2 10 8 10 7 10 9 10-1 10 2 10 6 10 2 10-12 10 0 10 6 10-4 10 9 10-4 10 10 10-7 10 7 10 12 10 14 10-4 10 0 10 12 10-1 10 4 10-4 10 13 10-4 10-18 10 2 10 10 10-7 10 14 10-3 10 5 10 9 10-3 10-16 10 21 10 11 10-17 10 14 10 3 10 4 10 6 10-8 10 11 10 5 10-3 10-8 10-11 10 9 9-3 10-5 10 6 10 1 10 10 10 17 10-12 10 12 10-9 10 9 10 7 10-5 10 9 10-8 10 0 10 1 10-15 10 1 10 9 10-4 10 2 10 8 10 13 10 0 10-22 10 7 10-1 10-10 10 16 10-8 10 28 10 0 10 9 10-14 10-6 10 3 10 1 10-30 10 8 10 2 10 13 10 5 10-6 10 2 10-1 10 1 10 12 10-13 10-4 10-5 10-4 10-11 10 13 10 1 10-9 10 10 10-9 10 10 10 4 10 7 10-5 10-22 10-7 10 11 10 1 10-5 10 16 10 2 10-1 10 13 10-3 10-3 10-4 10-3 10 16 10-16 10 0 10-8 10-5 10 5 10-16 10 24 10-4 10-3 10-14 10 8 10-3 10 2 10-15 10 14 10 11 10 1 10-7 10-12 10 27 10 3 10-22 10 6 10 6 10 0 10 4 10 4 10-8 10 4 10-20 10 28 10-13 10 5 10-18 10 15 9-6 10-11 10 4 10 12 10 3 10-2 10-12 10 7 10 0 10 15 10-3 10-11 10 9 10 6 10 2 10-12 10 1 10 2 10 11 10 14 10-17 10 6 10-8 10-1 10 10 10 10 10-13 10 21 10 12 10-28 10 9 10-5 10-9 10-12 10 22 10 3 10-7 10 5 10 10 10-10 10 19 10-13 10 3 10 2 10 7 10 1 10-10 10 3 10-5 10 3 10 10 10 4 10 1 10 5 10-13 10 17"/>
<path stroke="#cb9cdc" d="M8328 5724l10 22 10 39 10 27 10 15 10 28 10 1 10 76 10 35 10-15 10 9 10-8 9 20 10 5 10-40 10 0 10-37 10-5 10-22 10-31 10 10 10-4 10-37 10 2 10 8 10-5 10-241 10-1448 10-1606 10-1205 10-416 10-14 10-15 10-35 10-26 10 21 10 90 10-110 10 61 10-26 10-20 10 1039 10 1143 10 1007 10 804 10 400 10 390 10 245 10 190 10 147 10 58 10 30 10 36 10-9 10 6 10 33 10 18 10 16 10 2 10-8 10-5 10 5 10-13 10-17 10-7 10-2 10 8 10-1 10-31 10 3 10 7 10-24 10-27 10 27 10-37 10 14 10-24 10-4 10 3 10 1 10-4 10-4 10-23 10-39 10-10 10-45 10 3 10 1 10-14 10-35 10 17 10-6 10-21 10 10 10-15 10-2 10-7 10-13 10-14 10-33 10 9 10-14 10-32 10-13 10-29 10-24 10-43 10-9 10-43 10-28 10-55 10 5 10-9 10-19 10-30 10-30 10-51 10-8 10-20 10-14 10-21 10 22 9-3 10-19 10-34 10 18 10 9 10-22 10 1 10 3 10-30 10 34 10-10 10-21 10 34 10-28 10 26 10 32 10 7 10 34 10 74 10 0 10 20 10 43 10-5 10 31 10 31 10-25 10 15 10 10 10 8 10 60 10-17 10 44 10 26 10-6 10 9 10-30 10 17 10-11 10 3 10 9 10-8 10-10 10-23 10-15 10-30 10-2 10-19 10-39 10-7 10-51 10 12 10-9 10-20 10-30 10-15 10 1 10-3 10-1 10-5 10 34 10 24 10 26 10-1 10 51 10 44 10 83 10 74 10 97 10 103 10 57 10 58 10 56 10 66 10 41 10 74 10 83 10 52 10 73 10 37 10 41 10 35 10 19 10 28 10 14 10 10 10 30 10-15 10 5 10 10 10 1 10 18 10 14 10 1 10 27 10 26 10-8 10 13 10-4 10 6 10 19 10 5 10 16 10-2 10 3 10-6 10-11 10 13 10 13 10 4 10 5 9 8 10-2 10 14 10 6 10-7 10-8 10 3 10 11 10-6 10 7 10-7 10 12 10 15 10 23 10-10 10 0 10-2 10 19 10 15 10-14 10 8 10 28 10-15 10 13 10-18 10-3 10 28 10-7 10 1 10-4 10 17 10 11 10-16 10 21 10-7 10-7 10-5 10 3 10-16 10 5 10 15 10 8 10 10 10-3 10-18 10 6 10 11 10 17 10 20 10-12 10 2 10-8 10 11 10-12 10 6 10 6 10-4 10 7 10 0 10 7 10-6 10 18 10-5 10-7 10-5 10 2 10-5 10 9 10-16 10 22 10 25 10 14 10 5 10-13 10 10 10 4 10-16 10 16 10-8 10-10 10-6 10 7 10 19 10 7 10-18 10-8 10 15 10-3 10 0 10 11 10-6 10 16 10-6 10-1 10 7 10 8 10-15 10 16 10 8 10 9 10-5 10-2 10 5 10-14 10 3 10-2 10 17 10-1 10-16 10-2 10 5 9-4 10 3 10 6 10 2 10 1 10 9 10-14 10-12 10 15 10 9 10-16 10 10 10 4 10 3 10 6 10 6 10-6 10 17 10-14 10-9 10 11 10 7 10-17 10 11 10 9 10-9 10 14 10 15 10-11 10 0 10 2 10 1 10-1 10-3 10 16 10-19 10 1 10 1 10-1 10-10 10 0 10-16 10 30 10-12 10-7 10 30 10-16 10-2 10-1 10-1 10-4 10 4 10 5 10-12 10 2 10-6 10-19 10 26 10 8 10 2 10-5 10-18 10 3 10-5 10-9 10 29 10-1 10 2 10-8 10 8 10-19 10 9 10 7 10 5 10 5 10-10 10 1 10-8 10 3 10-6 10-2 10-8 10 0 10 10 10-11 10 11 10 8 10-12 10 13 10 1 10 8 10 3 10-14 10 4 10-21 10-7 10 6 10 12 10 0 10 2 10-11 10 22 10-6 10-4 10-4 10-5 10 8 10-5 10 14 10-14 9 1 10 5 10-8 10 12 10 15 10-12 10-2 10 4 10 5 10-8 10-6 10 13 10 10 10-12 10 9 10-15 10-8 10 14 10-18 10 15 10 5 10 3 10-3 10-4 10 3 10 11 10 2 10 11 10 2 10-10 10-2 10 5 10-5 10 7 10-2 10-1 10-8 10-4 10 17 10 3 10 13 10-25 10 24 10-5 10 10 10-8 10-4 10-5 10 9 10-6 10 10 10 7 10 3 10 2 10-20 10-1"/>
<path stroke="#c19be0" d="M8328 5792l10-3 10 37 10 48 10 13 10 31 10-5 10 58 10 34 10-9 10 18 10-3 9-8 10-7 10-19 10-14 10 24 10-52 10-6 10-27 10-11 10-22 10-25 10 12 10 15 10 2 10-281 10-1464 10-1606 10-1205 10-446 10 42 10 59 10-68 10-81 10-36 10-9 10 187 10-5 10 40 10-173 10 1039 10 1143 10 1007 10 805 10 401 10 395 10 256 10 204 10 169 10 77 10 59 10 25 10 21 10-5 10 16 10 2 10 0 10 12 10-3 10-32 10 7 10-13 10-6 10 3 10 3 10 27 10-19 10 7 10 3 10-19 10-30 10-10 10-11 10-11 10-9 10 17 10 4 10-19 10-25 10-1 10 4 10-8 10-13 10-11 10-8 10-48 10-8 10 19 10-22 10-17 10-15 10 18 10 17 10-56 10 22 10 5 10-28 10-35 10-24 10 5 10-22 10-11 10-29 10-16 10-69 10-25 10-4 10-16 10-45 10-1 10-19 10-16 10-28 10-52 10 3 10 1 10-9 10-19 10 1 10-4 10-12 9-31 10-13 10 3 10-13 10-1 10 1 10 15 10-22 10 5 10 7 10 8 10-2 10 5 10 27 10 11 10 27 10 51 10 5 10-50 10 61 10 12 10 3 10 27 10 23 10 35 10 20 10 18 10 23 10 1 10-5 10-1 10-8 10 20 10-30 10 36 10 34 10 19 10-20 10-22 10-14 10 3 10-26 10-1 10-1 10-11 10-15 10-23 10 12 10-5 10-46 10-5 10-36 10-19 10-12 10-27 10 5 10-17 10-13 10-7 10 39 10 15 10-3 10 38 10 36 10 44 10 92 10 74 10 53 10 77 10 87 10 47 10 48 10 62 10 60 10 61 10 71 10 74 10 54 10 36 10 28 10 24 10 27 10 7 10 37 10 10 10 1 10 6 10 10 10 5 10 9 10 15 10-8 10 18 10-15 10 42 10-4 10 24 10 19 10 4 10 25 10-11 10-7 10 9 10 0 10-7 10 10 10-10 10 14 10-18 10 12 9 21 10-10 10 1 10 20 10-24 10 15 10-2 10-20 10 27 10 15 10-3 10 31 10-17 10 16 10-13 10-1 10 24 10 14 10-18 10 18 10-2 10-4 10-4 10 7 10 13 10-8 10 1 10-5 10 21 10-15 10 4 10 12 10-3 10 7 10 21 10-1 10-8 10-3 10 1 10 11 10 9 10-1 10-5 10 1 10-2 10 9 10 5 10 3 10 0 10 3 10-2 10 4 10-14 10 14 10 9 10-7 10-14 10 12 10 16 10-10 10 14 10-2 10 2 10 10 10-12 10 0 10 5 10 0 10 15 10-1 10-4 10-5 10 23 10-10 10 11 10 16 10-19 10-10 10 17 10-9 10 4 10-3 10-11 10 2 10 12 10 19 10 5 10 0 10 4 10-6 10-4 10-13 10 2 10 24 10-23 10 14 10 10 10 18 10-8 10-23 10 11 10 1 10 2 10-4 10 15 10 8 10-9 10-6 10 12 10-3 10-6 9 3 10 10 10-18 10-2 10 7 10 11 10 16 10 0 10-4 10 8 10-13 10 14 10-18 10 10 10 9 10 0 10-7 10-7 10 16 10-8 10 7 10 11 10 4 10-19 10 15 10 0 10-5 10-15 10 25 10-8 10-4 10 15 10-4 10-3 10-9 10 3 10 4 10-5 10-10 10 17 10-5 10 0 10-1 10-10 10 10 10 12 10-6 10 6 10-23 10-8 10 18 10-1 10 13 10-7 10 0 10-22 10 3 10 3 10-6 10 10 10-5 10 10 10 3 10-21 10 33 10-16 10 4 10-13 10 10 10-5 10 12 10-17 10 8 10 11 10 20 10-3 10-25 10 7 10 3 10-10 10-4 10-4 10 2 10-19 10 19 10 4 10-2 10-8 10-13 10 8 10-4 10 2 10-22 10 23 10-9 10 10 10 1 10-3 10-6 10 14 10 2 10 8 10 20 10-34 10 2 10 3 10 9 10-1 10-6 10-10 9 4 10 4 10 13 10 2 10-5 10 16 10-5 10-7 10-17 10 23 10 7 10-16 10 23 10-32 10 5 10-4 10 1 10 22 10-11 10 10 10-2 10-2 10-3 10-6 10 5 10-8 10 5 10 10 10-4 10 6 10-7 10 7 10 4 10-10 10 21 10-10 10 4 10-8 10-2 10 13 10-5 10-13 10 13 10-4 10-15 10 32 10 0 10-18 10 11 10 5 10 11 10 20 10-21 10-7 10-9 10 4"/>
<path stroke="#b79ae3" d="M8328 5825l10 15 10 25 10 0 10 16 10 58 10 32 10 51 10 31 10-7 10-3 10-2 9 24 10-12 10-27 10-30 10-22 10 1 10-24 10 10 10-31 10-44 10 8 10 17 10-21 10 18 10-302 10-1476 10-1608 10-1205 10-306 10-104 10 48 10 4 10-143 10 118 10 104 10-131 10-24 10 71 10-127 10 1039 10 1144 10 1006 10 806 10 402 10 397 10 258 10 214 10 170 10 93 10 39 10 32 10 51 10-7 10 17 10 7 10 20 10 6 10-33 10-3 10 16 10 10 10-1 10 0 10-18 10-17 10 24 10-19 10-5 10-4 10-19 10 7 10 1 10-14 10-1 10-7 10-25 10 13 10-32 10-19 10 9 10-16 10 9 10-15 10-11 10-7 10-33 10-11 10-17 10 24 10-11 10-4 10 11 10-35 10-7 10-13 10-29 10 7 10-36 10 23 10-48 10-24 10 6 10-7 10-73 10 2 10-39 10-18 10-17 10-15 10-1 10-11 10-22 10-49 10 13 10-17 10-40 10-15 10-3 10 4 10 11 9-14 10-2 10-14 10 0 10 8 10-44 10 37 10-30 10 7 10 8 10 17 10 5 10-3 10 30 10-28 10 12 10 18 10 17 10 0 10 29 10 12 10 38 10-10 10 44 10 35 10 19 10-9 10-6 10 22 10-11 10 47 10 23 10 11 10-19 10 26 10-4 10 15 10-17 10 6 10-59 10 3 10 15 10-22 10-4 10 1 10-23 10 14 10-46 10-25 10 18 10-14 10 13 10-43 10-23 10-16 10 1 10-13 10 2 10-4 10 14 10 18 10 23 10 64 10 27 10 14 10 35 10 84 10 67 10 48 10 93 10 39 10 70 10 30 10 52 10 69 10 69 10 24 10 86 10 42 10 14 10 16 10 25 10 7 10 14 10 11 10-1 10 27 10 6 10-1 10 21 10-5 10 25 10 23 10 9 10-4 10-9 10 15 10 6 10 5 10-1 10 18 10 2 10 11 10-8 10-5 10 31 10-9 10 1 10-7 10 13 9-1 10 14 10-13 10-19 10 13 10-5 10-1 10 20 10 7 10 4 10-4 10 18 10-2 10 18 10-4 10 7 10 21 10-2 10-8 10 4 10-1 10-18 10 28 10 8 10 6 10-4 10 4 10 1 10 7 10 4 10-22 10-15 10 20 10 8 10 22 10-2 10-10 10-1 10 7 10-15 10-17 10 24 10 20 10-6 10-4 10 16 10 0 10-9 10 3 10 14 10-9 10 14 10-16 10 9 10 22 10 2 10-14 10-15 10 8 10 11 10-18 10 27 10-9 10 21 10 12 10 1 10-16 10-1 10 4 10-2 10 11 10-15 10 7 10 1 10 18 10-2 10 11 10-12 10 18 10-13 10-8 10 2 10-4 10-4 10 16 10 11 10 5 10-1 10 3 10 2 10-16 10 9 10 9 10-12 10 19 10 0 10-5 10-3 10 17 10 10 10 3 10-1 10-18 10 4 10-2 10 11 10 2 10-8 10-1 10 6 10-8 9 11 10 5 10 2 10 3 10-11 10 16 10-9 10 17 10 7 10-11 10-8 10 1 10 18 10-20 10-8 10 15 10-13 10 12 10 0 10 8 10 6 10 7 10-7 10-11 10 4 10-6 10-5 10-8 10 1 10 10 10 2 10 4 10 9 10 7 10-22 10 12 10-7 10-11 10 6 10 9 10-4 10-12 10 16 10 7 10 0 10-12 10-5 10 9 10-1 10-8 10 14 10-2 10-7 10-5 10-2 10 17 10-4 10 2 10-6 10-5 10 3 10-2 10-18 10-5 10 5 10 10 10-13 10 17 10 18 10-6 10 4 10 13 10-4 10-9 10-3 10-9 10-6 10-3 10 14 10-10 10-12 10 10 10 5 10-5 10-3 10 4 10-2 10 11 10 12 10-5 10-3 10-5 10 2 10 4 10-8 10-6 10 4 10 3 10-2 10 4 10-7 10 6 10 15 10-26 10 1 10-4 10 8 10 4 10-1 10 0 9 3 10 7 10-9 10 1 10-15 10 17 10 4 10-1 10 17 10-2 10 10 10-7 10-10 10-4 10-9 10 3 10-5 10 2 10 25 10-8 10 11 10-14 10-11 10-5 10 6 10 6 10 16 10-11 10-1 10 5 10 11 10 7 10-5 10-13 10 2 10 9 10-10 10-6 10 5 10 7 10-1 10 4 10-4 10 13 10-13 10 4 10-16 10 30 10 4 10 8 10-9 10-6 10 6 10-3 10-1 10 9"/>
<path stroke="#ac99e7" d="M8328 5881l10-6 10 5 10 54 10 61 10 22 10 15 10 26 10 2 10-5 10-5 10 28 9-30 10 17 10-39 10-17 10-10 10-16 10-12 10-1 10 9 10-39 10-17 10-9 10 16 10-4 10-307 10-1488 10-1609 10-1205 10-284 10-110 10 155 10-141 10 3 10-37 10-126 10-5 10 15 10 153 10-113 10 1039 10 1144 10 1006 10 807 10 401 10 398 10 262 10 221 10 185 10 106 10 82 10 33 10 20 10 17 10-3 10 9 10 21 10-22 10 12 10-20 10 15 10-1 10 7 10-1 10 8 10 5 10-4 10-26 10-17 10-11 10 19 10-30 10-4 10 13 10-6 10-8 10-12 10 21 10 0 10-32 10-17 10 6 10-16 10-27 10-8 10-5 10 11 10-7 10-28 10-10 10-13 10 12 10 20 10-19 10-16 10-15 10-37 10-23 10-6 10-9 10-17 10-11 10-34 10 12 10-40 10-22 10-13 10 1 10-38 10-7 10-11 10-31 10-23 10-23 10-9 10-23 10-46 10 1 10 12 10 1 10-6 9-38 10-5 10-19 10 6 10-18 10 46 10 18 10-21 10-12 10 22 10 0 10 4 10-13 10 22 10 22 10 12 10 18 10 1 10 13 10 3 10 33 10 21 10 27 10-23 10 42 10 6 10 11 10 34 10-5 10 8 10 25 10 28 10 0 10 4 10 11 10 1 10-20 10 7 10 4 10-18 10-29 10 15 10 2 10-43 10 26 10-20 10-39 10-3 10 0 10-17 10-24 10 3 10-18 10-8 10-24 10-12 10 4 10-9 10-6 10-11 10 26 10 37 10 25 10 7 10 40 10 50 10 97 10 33 10 68 10 61 10 55 10 41 10 76 10 26 10 82 10 34 10 50 10 53 10 44 10 25 10 1 10 23 10 17 10 23 10-9 10 21 10 18 10 2 10 16 10 7 10 23 10 14 10-12 10 12 10-5 10 2 10 1 10 4 10 0 10 15 10 11 10-7 10 21 10 9 10 9 10 1 10-18 10-8 10 16 10 18 9 3 10-7 10-15 10 12 10-5 10 1 10 24 10-14 10-5 10 6 10 12 10-5 10 7 10 10 10 5 10-6 10 21 10 4 10 6 10-3 10 1 10 7 10-2 10 4 10-10 10-1 10 11 10 5 10 8 10 9 10-6 10-7 10 25 10 4 10-17 10-9 10 19 10 11 10 9 10-18 10 2 10 4 10 10 10-10 10 8 10-12 10 10 10-4 10 2 10 6 10 7 10-14 10-1 10 21 10-14 10 22 10-6 10-3 10 6 10 13 10 6 10-13 10 10 10-1 10-1 10 8 10 8 10 7 10-4 10-13 10 5 10 5 10-15 10-3 10 5 10 7 10 3 10-2 10 7 10-2 10 7 10-3 10 20 10 8 10-18 10-6 10 17 10 11 10-13 10 7 10 1 10-10 10 3 10 6 10-7 10 24 10 2 10-30 10 7 10-4 10 21 10-15 10 22 10-6 10 1 10 11 10-7 10 29 10-20 10-1 10 5 9 11 10 4 10 0 10 1 10-9 10 10 10-2 10 9 10-29 10 2 10 28 10-16 10-24 10 11 10 3 10 2 10-11 10-7 10 14 10 26 10-4 10 12 10 4 10-20 10 2 10 3 10-6 10-5 10 12 10-15 10 14 10-7 10 6 10 1 10 2 10-11 10-3 10 5 10-7 10 19 10-8 10 13 10 17 10-2 10-22 10-2 10-3 10 8 10 2 10 4 10-7 10-6 10-1 10 0 10 1 10-2 10-6 10 10 10-7 10-9 10 18 10 2 10-2 10 4 10-3 10 0 10-19 10 2 10-10 10 10 10 4 10 2 10 2 10-25 10 2 10 9 10 24 10-3 10-14 10-1 10 5 10-8 10 1 10 10 10-4 10-7 10-3 10 7 10 6 10-1 10-7 10 0 10-8 10 10 10 2 10 1 10-4 10 12 10-16 10 7 10-12 10-5 10 22 10-4 10-5 10 4 10-4 10 11 10-10 10 1 9 5 10 23 10-19 10 12 10-20 10-5 10 19 10 10 10-12 10-12 10 3 10 2 10 2 10-12 10 5 10 18 10-14 10-3 10 8 10 5 10-11 10 2 10 9 10-9 10 11 10 3 10 16 10-5 10-28 10 25 10 9 10-16 10 9 10-10 10-11 10 13 10 8 10-10 10 1 10-8 10 12 10 0 10 10 10 10 10 4 10 1 10-20 10-3 10 6 10 5 10 4 10-10 10 7 10 18 10-5 10 13"/>
<path stroke="#a398eb" d="M8328 5911l10 40 10-6 10 11 10 23 10 18 10 50 10 46 10 3 10 14 10 11 10 20 9-21 10-15 10-4 10-34 10 8 10-29 10-23 10-32 10-8 10-8 10-28 10-19 10 15 10 33 10-350 10-1495 10-1609 10-1205 10-501 10 64 10 214 10-150 10-61 10 10 10 65 10-180 10 35 10 192 10-178 10 1039 10 1144 10 1006 10 807 10 403 10 400 10 261 10 225 10 200 10 117 10 72 10 52 10 0 10 48 10-14 10 2 10 14 10 11 10-12 10-4 10-3 10 13 10-5 10 3 10 5 10-19 10 19 10-8 10 7 10 7 10-38 10-13 10-5 10 14 10-11 10-18 10 24 10-26 10-12 10-26 10 20 10-32 10 2 10-9 10-17 10-33 10-3 10-16 10 13 10-6 10-8 10 23 10-14 10-9 10-14 10-25 10-6 10-4 10-8 10-12 10 6 10-23 10-11 10-8 10-47 10-4 10-12 10-6 10-54 10-38 10-12 10-3 10-23 10-20 10-12 10-15 10 15 10-26 10-5 10-9 10-8 9 12 10-21 10-18 10 33 10 4 10-44 10 25 10-22 10-11 10-18 10 27 10 21 10 12 10 10 10 26 10 12 10 5 10 9 10-6 10 8 10 24 10 47 10-5 10 19 10 40 10 6 10 13 10 0 10 1 10-13 10 31 10 7 10 23 10 7 10 14 10-12 10-16 10 4 10-26 10 7 10-14 10 5 10-8 10-35 10 17 10-20 10 18 10-17 10-31 10-38 10-5 10 1 10-1 10-5 10-14 10-10 10-26 10 17 10 11 10-17 10 9 10 33 10 33 10 25 10 48 10 58 10 47 10 46 10 74 10 52 10 34 10 66 10 34 10 29 10 72 10 45 10 18 10 45 10 54 10 2 10 25 10 14 10 21 10 26 10 11 10 11 10-12 10 5 10 22 10 8 10 5 10-1 10 7 10 27 10-8 10 23 10 6 10 16 10-2 10-9 10 4 10-6 10 0 10 14 10 11 10-12 10 2 10-1 10-1 10 16 9 12 10-2 10 7 10 6 10 6 10-3 10 2 10-5 10-2 10-6 10 8 10 8 10 3 10 8 10 4 10 12 10 0 10 14 10-14 10 3 10 0 10 19 10 6 10 1 10 14 10-20 10-4 10 4 10-6 10 25 10 6 10-16 10-3 10 7 10 0 10 4 10 8 10 5 10 8 10-4 10 1 10-9 10 20 10-4 10 3 10 5 10-1 10-16 10-8 10 33 10-13 10 19 10 5 10 2 10 5 10-19 10-12 10 26 10-9 10-1 10 8 10 5 10 1 10 3 10 7 10-2 10-3 10-1 10 12 10-9 10 15 10 1 10 7 10 10 10-13 10 4 10-16 10 8 10-6 10 14 10 5 10-7 10 6 10 8 10-4 10-11 10 3 10 1 10-15 10 8 10 15 10 2 10 14 10-1 10-15 10 2 10 16 10 4 10 10 10-28 10 11 10 13 10-18 10 5 10 13 10 5 10 5 10-6 10-2 10-5 10 9 9 2 10-7 10-10 10-10 10 3 10 22 10 3 10-6 10 11 10 9 10 7 10-10 10 2 10-2 10 7 10-10 10 6 10 7 10 2 10 3 10-14 10-7 10 9 10 5 10-22 10 1 10-5 10 6 10 7 10 2 10-11 10-10 10 11 10 7 10-4 10 0 10 8 10 7 10 4 10-17 10 8 10 4 10 2 10 8 10-11 10-1 10-4 10-11 10 9 10 2 10 7 10-10 10-1 10-6 10-7 10 21 10-15 10 18 10 6 10 10 10-26 10 7 10-7 10 7 10-17 10 18 10-3 10 9 10-4 10-16 10 2 10 0 10-3 10 9 10 10 10 4 10-4 10-16 10 2 10 6 10-3 10 6 10-11 10-4 10 11 10-16 10 18 10-7 10 4 10-9 10-4 10 5 10 1 10 15 10 7 10-10 10-6 10 4 10-8 10-8 10 21 10-8 10-17 10 9 10 4 10 2 10-3 10 24 10-14 10 1 9-8 10 7 10-1 10-3 10-8 10 7 10-1 10 12 10-3 10-4 10-15 10 17 10-1 10 6 10-7 10 10 10-10 10 12 10-17 10 6 10 6 10 0 10-2 10-1 10-6 10 7 10 8 10 11 10-2 10 3 10-14 10 11 10 0 10-6 10-12 10 20 10-2 10-10 10 18 10-12 10 20 10-8 10 4 10-2 10-7 10-12 10 15 10-14 10-6 10 24 10-1 10-4 10-10 10 4 10 11 10 6"/>
<path stroke="#9c98ee" d="M8328 5918l10 6 10 31 10 24 10 46 10 6 10 46 10 74 10 1 10-3 10-20 10-3 9-13 10 4 10-26 10 9 10-20 10-23 10-10 10-30 10-16 10-13 10-10 10-9 10 1 10 32 10-366 10-1505 10-1609 10-1204 10-384 10-40 10 54 10 189 10-118 10-163 10 124 10-203 10 224 10-113 10-61 10 1039 10 1144 10 1006 10 807 10 403 10 402 10 264 10 231 10 207 10 120 10 69 10 40 10 3 10 13 10 27 10 14 10 33 10 4 10 6 10 9 10-21 10 11 10-8 10 3 10-14 10-3 10 22 10-16 10-38 10 4 10-5 10 1 10-14 10 17 10 6 10-2 10 8 10-4 10-30 10 6 10 0 10-29 10-10 10 3 10-2 10-12 10-14 10-22 10-4 10 11 10-7 10 10 10-9 10-36 10 18 10-7 10-27 10-10 10-6 10-4 10-9 10-33 10-13 10-21 10-23 10 8 10-1 10-41 10-34 10-12 10-25 10 14 10-20 10-14 10-14 10-28 10 26 10-24 10-36 10 2 10 8 9-20 10 13 10-28 10 9 10-28 10 2 10 24 10-5 10-1 10-9 10 27 10-19 10 21 10 26 10-4 10 14 10 1 10-14 10 27 10-5 10 2 10 10 10 38 10 10 10 12 10 13 10 29 10 1 10 9 10 18 10 29 10-5 10 5 10 29 10 10 10-28 10 6 10-14 10 7 10 14 10-5 10 14 10-37 10 4 10-51 10 12 10-13 10 6 10 3 10-24 10-7 10-53 10 7 10 27 10-26 10-2 10-10 10-2 10 3 10 19 10-9 10 11 10 26 10 35 10 11 10 65 10 57 10 27 10 59 10 61 10 52 10 40 10 37 10 39 10 34 10 75 10 32 10 26 10 26 10 33 10 27 10 6 10 6 10 16 10 15 10-7 10 18 10 10 10-7 10 15 10 10 10 11 10-10 10 15 10-5 10 7 10 13 10-1 10 17 10-15 10 22 10 1 10-4 10 6 10-5 10-2 10 25 10 5 10-5 10 2 9 6 10-2 10 12 10 4 10-14 10 4 10-8 10 32 10 7 10 5 10-10 10-16 10 25 10 1 10-11 10 20 10-22 10 24 10 9 10 14 10-14 10 15 10-8 10-2 10 6 10 3 10 2 10-5 10 9 10 6 10 7 10-16 10-9 10 5 10 22 10-3 10-5 10-5 10 8 10 11 10-20 10 11 10 13 10-4 10-7 10 11 10-2 10 3 10 6 10 5 10-2 10 29 10-11 10 6 10 2 10-11 10 2 10 2 10 0 10 17 10 6 10-24 10 12 10 1 10-7 10 6 10 1 10 18 10 3 10-11 10-4 10-8 10 0 10 12 10 1 10 8 10-7 10 10 10-5 10-1 10-9 10 18 10 1 10 13 10-14 10 5 10 7 10 8 10 1 10-2 10 0 10-15 10 9 10 2 10 19 10-2 10-24 10-7 10 31 10-18 10 8 10 14 10-10 10-6 10-1 10 2 10-8 10 11 10 0 10-17 10 14 9 21 10-16 10 5 10 14 10-18 10-3 10 10 10 2 10 19 10-8 10 18 10 0 10-24 10 1 10 19 10-1 10-13 10 4 10-1 10 2 10 11 10-17 10 19 10-4 10 8 10-6 10-4 10 0 10-4 10-5 10 20 10-8 10-13 10-10 10 2 10 20 10 4 10-12 10-8 10 10 10 3 10-7 10-6 10 10 10 9 10 10 10-4 10 6 10-4 10-19 10-2 10 7 10-10 10 16 10-9 10 5 10-7 10-9 10 16 10-9 10 3 10 2 10 13 10-7 10-4 10-3 10 1 10 8 10-19 10 6 10-9 10 9 10 8 10-14 10-6 10 11 10-1 10-2 10 14 10-1 10 13 10-20 10 16 10-8 10 6 10-8 10-2 10 1 10-8 10 3 10-8 10 1 10 12 10-1 10-4 10-8 10-7 10 9 10 0 10 2 10-1 10 11 10 1 10-11 10-9 10 5 10 6 10-3 10 9 10-16 9 19 10-5 10-10 10 9 10 9 10 1 10-6 10-10 10 5 10-1 10-3 10 3 10-1 10 0 10 0 10 12 10 4 10 3 10-20 10 8 10 7 10-11 10 1 10 9 10-9 10 14 10 7 10 2 10-17 10 4 10-8 10 16 10 13 10-11 10 1 10 14 10-11 10-20 10 6 10 17 10 3 10 2 10 11 10-2 10 0 10-4 10-2 10-5 10-5 10-1 10 3 10 10 10-3 10-2 10-27 10 19"/>
<path stroke="#9498f1" d="M8328 5964l10 14 10-7 10 24 10 32 10 57 10 13 10 44 10 16 10 8 10-9 10-8 9 19 10 5 10-27 10 0 10-44 10-19 10-33 10-16 10-16 10 5 10-18 10-17 10-3 10 19 10-362 10-1509 10-1610 10-1204 10-326 10-116 10 153 10 67 10-46 10-201 10-75 10 105 10 24 10-91 10 15 10 1039 10 1144 10 1006 10 807 10 404 10 401 10 266 10 231 10 206 10 126 10 79 10 50 10 18 10 5 10 25 10 11 10 32 10 4 10 34 10-12 10 3 10 12 10-23 10-4 10-7 10 17 10-14 10-30 10 2 10 21 10-16 10-3 10 6 10 3 10-14 10 20 10-32 10-12 10-6 10-7 10-12 10 23 10-14 10-16 10-15 10 3 10-7 10-17 10-9 10-22 10 32 10-10 10-4 10-12 10-6 10 1 10-16 10 6 10-6 10-11 10-28 10-28 10-27 10 13 10-17 10-35 10-9 10-32 10-24 10 7 10-5 10-17 10-4 10-19 10-13 10-41 10 1 10 4 10-10 10-10 10 26 9-5 10-1 10-19 10-21 10 10 10 14 10-27 10 5 10-2 10-8 10-7 10 20 10 18 10 15 10 10 10-4 10-30 10 23 10 34 10 17 10 20 10 31 10 3 10 3 10 12 10 24 10 6 10 16 10 7 10 27 10-18 10 9 10 38 10-12 10-17 10-39 10 32 10-19 10 22 10-19 10-7 10 4 10 9 10-2 10-34 10-25 10 8 10-2 10 0 10-15 10-4 10-29 10-16 10-7 10 12 10 10 10-12 10-33 10-5 10 17 10 3 10 17 10 46 10 6 10 29 10 70 10 48 10 35 10 33 10 42 10 66 10 44 10 19 10 55 10 44 10 51 10 28 10 49 10 35 10 22 10-13 10-1 10 7 10 33 10 22 10 1 10 11 10 17 10-5 10 16 10-10 10 7 10 12 10 19 10-2 10 1 10-3 10 6 10 6 10 18 10 2 10-3 10-4 10 7 10 16 10 5 10-2 10-10 10 5 10 11 9-3 10 0 10-14 10 8 10 10 10 1 10-4 10 23 10-3 10 6 10 1 10 0 10-15 10 2 10 7 10 18 10-4 10-3 10 19 10 12 10-22 10-6 10 7 10-4 10 0 10-12 10 43 10-8 10-10 10 4 10 13 10 12 10-17 10-14 10 32 10 8 10-12 10-5 10 11 10 14 10-16 10-8 10 27 10-5 10-5 10 4 10-10 10 6 10 1 10 5 10 18 10-25 10 16 10 3 10-10 10 2 10 10 10 23 10-8 10-13 10 7 10 15 10-16 10-15 10 5 10 2 10 27 10 3 10 18 10-21 10-5 10 27 10-16 10-9 10 13 10 2 10-14 10 20 10-6 10-8 10 5 10 8 10-1 10-1 10-3 10-8 10 25 10-1 10 1 10-14 10 19 10-17 10 16 10 8 10 9 10-6 10 1 10-4 10 1 10-7 10 0 10 26 10-20 10 2 10 2 10 5 10-9 10 7 10-9 10 16 10-16 9-4 10 21 10-8 10 8 10 10 10-1 10-5 10 5 10-8 10-9 10 20 10 13 10-9 10-7 10-1 10-6 10-1 10 22 10-7 10 5 10-3 10 9 10-12 10 1 10 4 10 9 10-21 10-4 10 1 10 12 10 8 10-18 10 10 10-8 10-13 10 26 10 8 10-11 10 13 10-6 10-1 10-12 10 13 10-7 10-7 10 12 10 4 10-15 10-6 10 18 10 8 10-25 10 3 10 7 10-2 10 0 10-5 10-12 10-4 10 16 10 6 10 1 10-17 10-3 10 25 10-2 10 0 10-15 10-7 10 12 10 9 10-5 10-6 10-1 10 12 10-2 10-9 10-2 10-2 10 11 10 1 10-4 10 24 10-12 10-12 10-5 10 5 10 0 10-7 10 3 10 14 10-11 10 14 10-1 10-26 10 4 10-3 10 1 10-2 10 6 10-4 10 5 10 10 10-5 10-1 10-7 10-5 10-4 10 18 10-2 9-13 10 14 10 7 10 2 10 2 10 3 10-19 10 10 10-1 10 10 10-22 10 17 10 10 10-14 10 7 10-3 10-14 10 19 10-17 10 12 10 25 10-13 10-1 10 8 10-29 10 12 10 18 10-7 10-13 10-3 10 8 10 5 10 2 10 9 10-10 10-3 10-10 10 16 10-15 10-2 10 2 10 11 10-3 10 8 10-7 10 6 10 10 10 0 10 6 10-10 10 3 10 8 10-24 10 10 10-6 10 14"/>
<path stroke="#8e98f4" d="M8328 5960l10 6 10 43 10 25 10 24 10 24 10 49 10 72 10-16 10-8 10 17 10-11 9-6 10 0 10-24 10-1 10-24 10-32 10-26 10-34 10 1 10-14 10-12 10 13 10 32 10 9 10-408 10-1527 10-1610 10-1204 10-483 10 67 10 18 10 90 10 19 10-110 10 52 10-171 10 82 10-90 10 35 10 1039 10 1144 10 1007 10 806 10 404 10 402 10 265 10 229 10 221 10 129 10 110 10 54 10 18 10 6 10 12 10 12 10 19 10 22 10-5 10 7 10-8 10 5 10 0 10 20 10-15 10 2 10-9 10 2 10-28 10-8 10-15 10 23 10-4 10 3 10 7 10-14 10 7 10-35 10 12 10-7 10 8 10-3 10-2 10-28 10-13 10-3 10 7 10-8 10-13 10 10 10-14 10 19 10-9 10-8 10-10 10-35 10 20 10-18 10-5 10-1 10-13 10-3 10-31 10-23 10 3 10-25 10-16 10 20 10-32 10-15 10-10 10-8 10 3 10-21 10 1 10-45 10-4 10-31 10 0 10-11 10 4 9-4 10-12 10-1 10-14 10 17 10 1 10 9 10-37 10-16 10 16 10 4 10 16 10 7 10-24 10 18 10 20 10 20 10 4 10 6 10 27 10 15 10 2 10 16 10 23 10 7 10 11 10 13 10 14 10-1 10 15 10 19 10 7 10-3 10 9 10 11 10-25 10 20 10-1 10-27 10 8 10-2 10 8 10-20 10 10 10-33 10-2 10-20 10 1 10 7 10-9 10-37 10-7 10-2 10-25 10 25 10-10 10-24 10 12 10-10 10 12 10-10 10 18 10 29 10 36 10 40 10 52 10 44 10 59 10 28 10 27 10 10 10 44 10 26 10 62 10 52 10 33 10 40 10 17 10 19 10 29 10 23 10 13 10 16 10-13 10 15 10-5 10 26 10-13 10 20 10 10 10 0 10-2 10-2 10 16 10 20 10-13 10 13 10 17 10 11 10-1 10 19 10-9 10 0 10-18 10 0 10 10 10 27 10 2 10-5 10-11 9 18 10-4 10 10 10-22 10 9 10 10 10-4 10 7 10 2 10-3 10 6 10 5 10-17 10 10 10 12 10-14 10 5 10-5 10 17 10 5 10-3 10-2 10 11 10-17 10 23 10-4 10 6 10 5 10 2 10-21 10 19 10 21 10-17 10 1 10 0 10-1 10-10 10 21 10 6 10-6 10 8 10 0 10 15 10 1 10-11 10 33 10-17 10 19 10-34 10-4 10-4 10-2 10 23 10 3 10 11 10-7 10 5 10-4 10 8 10-1 10 9 10 2 10 4 10-2 10-7 10-7 10 15 10-8 10 13 10-14 10 7 10 12 10 0 10-8 10 4 10-1 10 5 10-17 10 3 10 10 10 3 10-14 10 11 10 8 10 14 10-10 10 10 10 2 10-20 10 19 10-7 10 10 10 15 10-1 10 1 10-4 10 1 10 2 10-1 10-11 10-2 10 14 10-1 10 4 10-11 10 18 10-9 10-5 10 8 10 5 10-5 9 15 10 0 10 7 10-13 10 7 10-2 10 15 10-6 10-16 10-2 10-8 10 33 10 14 10-32 10-2 10 14 10-12 10-2 10 0 10 0 10-3 10 1 10 3 10 0 10 2 10 3 10 2 10 4 10-2 10-6 10 5 10 2 10-14 10-8 10 12 10 12 10-13 10 20 10-18 10-6 10 13 10 2 10 9 10-6 10 8 10 6 10-11 10 2 10-3 10 0 10 4 10-7 10 7 10-9 10 5 10-13 10 8 10-6 10-4 10 6 10 12 10-11 10 12 10-9 10 12 10-3 10-5 10 2 10-6 10-6 10 2 10-1 10-10 10 1 10 3 10 10 10 9 10 0 10-14 10 1 10-5 10 16 10 11 10-12 10 17 10-11 10 6 10-11 10-9 10 11 10-15 10-1 10 4 10 9 10 4 10-4 10-12 10 3 10 16 10 7 10-14 10-1 10-11 10-1 10-4 10-4 10 0 10 6 10 22 10-13 9-7 10 0 10 15 10-8 10-8 10 2 10 8 10 18 10-2 10-23 10 4 10-5 10 7 10 12 10-15 10 0 10-6 10 7 10 15 10-16 10 8 10-1 10-1 10-4 10 1 10-6 10 9 10-5 10-6 10 13 10 13 10-2 10-13 10 3 10-4 10 7 10 20 10 0 10 5 10 7 10-10 10-16 10-2 10 1 10 0 10 8 10-13 10 2 10 2 10 26 10-15 10-8 10 8 10 17 10-14 10 6"/>
<path stroke="#8b9cf5" d="M8328 6003l10 21 10 10 10 19 10 33 10 24 10 40 10 27 10 27 10-4 10 22 10-17 9 10 10-47 10-5 10-19 10-7 10-20 10-17 10-6 10 6 10-17 10-29 10-19 10 14 10 20 10-414 10-1523 10-1610 10-1204 10-502 10 48 10 56 10 73 10 78 10-104 10 40 10-229 10 177 10-179 10 51 10 1039 10 1144 10 1007 10 807 10 403 10 403 10 267 10 234 10 217 10 146 10 104 10 54 10 24 10 29 10 10 10 21 10 41 10 20 10-30 10 10 10-16 10 12 10-11 10-15 10-18 10 21 10-15 10 7 10 45 10 9 10-33 10-24 10 5 10-2 10 6 10 1 10-23 10 4 10 5 10-13 10 7 10-11 10 0 10-14 10-3 10 13 10-31 10-14 10 0 10 4 10-22 10 15 10-12 10-10 10-9 10 2 10-1 10-34 10 13 10 12 10-4 10-27 10-9 10-31 10-25 10 19 10 1 10-26 10-25 10 1 10-15 10 5 10-38 10-33 10-5 10-10 10-13 10-18 10-9 10-2 10-7 9 25 10-17 10 7 10-15 10-2 10-2 10-8 10 2 10 9 10-24 10 15 10 5 10 15 10 14 10 15 10 1 10 7 10 0 10 21 10-5 10 9 10 55 10 19 10 3 10 0 10 0 10 6 10 15 10-15 10 35 10 8 10 9 10-4 10-2 10 3 10-4 10 3 10-17 10 14 10 3 10-14 10-8 10-9 10-2 10 13 10-19 10 1 10-23 10-9 10-5 10 0 10-22 10-1 10 13 10-28 10-27 10-2 10 5 10 19 10 8 10-1 10 8 10 28 10 16 10 14 10 51 10 40 10 43 10 41 10 30 10 53 10 47 10 32 10 35 10 41 10 23 10 21 10 42 10 43 10 26 10-1 10 3 10 17 10-1 10-5 10 11 10 2 10 29 10-8 10 10 10 0 10 19 10 4 10 5 10 6 10-6 10 3 10 2 10-9 10 4 10 4 10 1 10 6 10-5 10 5 10 12 10 5 10-5 10 12 10-1 9 1 10 3 10 2 10-4 10-6 10-9 10 9 10 3 10 1 10 24 10 10 10-13 10-1 10 10 10-5 10 12 10 10 10-8 10-2 10-3 10-19 10 21 10 0 10 13 10 3 10 2 10-13 10 12 10 20 10 20 10-27 10 0 10-9 10 11 10 13 10 4 10-14 10 12 10-6 10-7 10 24 10-17 10 4 10 3 10 4 10-5 10 11 10-6 10 4 10 1 10 10 10-11 10 2 10 13 10 1 10 4 10-3 10-4 10 21 10-9 10-8 10 2 10 6 10-3 10 14 10 4 10 3 10 6 10-8 10-3 10-2 10-3 10 10 10 1 10 12 10 5 10 6 10-16 10-2 10 12 10 1 10 7 10 12 10-20 10-3 10-11 10 10 10 5 10 8 10 5 10 1 10 3 10-1 10-6 10 6 10-18 10 11 10-7 10-8 10 16 10-7 10 3 10 16 10 1 10 23 10-8 10-12 10 4 10-3 10 1 10 2 9-1 10 2 10 1 10-7 10-16 10 17 10 2 10 5 10 4 10-5 10 0 10-10 10-2 10 13 10 14 10-8 10-8 10-1 10 4 10 4 10 1 10 3 10-2 10-3 10 5 10 11 10-8 10 4 10-5 10 3 10 13 10-7 10-4 10-9 10-2 10 1 10 0 10-7 10 15 10-16 10-6 10 8 10 12 10-13 10 9 10 0 10 1 10-2 10 5 10-5 10 0 10 4 10-7 10-1 10 7 10 2 10-7 10 14 10-7 10-3 10 11 10-2 10-18 10-1 10 13 10 0 10 1 10 3 10 2 10-5 10 1 10-17 10-9 10 9 10 7 10 14 10-1 10 0 10-7 10-16 10 10 10-11 10 6 10 1 10 4 10 22 10-4 10-6 10-10 10 8 10-1 10 6 10-5 10 3 10-12 10 8 10 5 10-5 10-13 10 4 10 2 10-4 10 3 10-5 10-2 10 5 10 17 10-9 10-6 10-7 9 12 10 7 10-6 10 0 10-1 10 5 10-1 10-1 10 19 10-19 10 4 10 13 10 5 10-11 10 9 10-6 10 3 10-4 10-1 10-19 10 3 10-6 10 20 10 0 10 7 10-10 10-13 10 7 10 18 10-4 10-12 10-9 10 12 10 3 10 10 10 11 10-6 10-16 10 10 10-6 10 0 10 6 10 5 10 11 10-6 10-9 10-5 10 2 10 3 10 15 10 5 10-3 10-2 10 5 10 0 10-4"/>
<path stroke="#899ff5" d="M8328 5991l10 19 10 23 10 18 10 24 10 45 10 66 10 26 10 5 10-7 10-2 10 0 9-1 10-8 10 3 10-56 10-1 10-16 10-20 10 4 10-5 10-17 10-23 10-22 10 18 10 15 10-418 10-1529 10-1610 10-1204 10-380 10-78 10 110 10-7 10 27 10-85 10-75 10 206 10-97 10-37 10-75 10 1039 10 1144 10 1007 10 807 10 403 10 403 10 268 10 234 10 224 10 142 10 108 10 62 10 31 10 2 10 15 10 22 10 20 10 13 10 12 10 9 10-3 10-10 10 10 10 20 10-21 10 0 10-12 10-1 10 13 10 4 10-6 10 16 10-43 10 8 10 1 10 10 10-13 10-15 10-18 10 15 10-19 10 3 10 18 10-26 10 5 10-15 10-9 10 2 10 0 10-16 10 7 10 4 10-26 10 2 10-24 10 22 10-11 10-12 10 2 10-33 10-3 10 14 10-29 10 5 10-24 10-22 10-40 10 10 10-9 10-2 10-6 10-26 10-23 10-12 10 33 10-34 10-8 10 7 10-5 10 13 10-33 9-8 10-10 10 6 10 3 10-21 10-12 10 5 10 4 10-7 10-18 10 15 10 14 10 12 10-2 10 14 10 6 10 4 10 22 10-8 10-8 10 40 10 5 10 42 10-7 10 36 10-19 10 0 10 37 10 6 10 24 10-36 10-9 10 16 10 25 10-5 10-2 10-14 10-20 10 2 10-2 10 10 10 4 10-16 10 0 10 3 10 6 10 1 10-10 10-3 10-3 10-19 10-1 10-20 10-13 10-10 10 14 10-22 10 13 10-1 10-6 10 21 10-21 10 29 10 29 10 17 10 70 10 15 10 55 10 45 10 53 10 5 10 32 10 49 10 24 10 19 10 49 10 23 10 36 10 18 10-5 10 24 10 20 10-5 10 32 10 0 10-5 10 25 10-8 10-16 10 2 10 28 10 0 10 14 10 8 10-15 10 9 10 9 10 5 10 15 10 10 10-3 10-6 10 2 10-13 10 3 10 14 10 5 10-17 10-4 10 8 9 22 10 7 10 1 10-7 10 0 10-3 10 25 10-8 10-11 10 1 10 6 10 8 10 5 10 11 10-3 10-12 10 7 10-10 10 14 10 8 10-10 10 18 10 2 10 11 10-6 10 7 10 2 10 2 10 1 10-11 10-8 10-24 10 20 10 2 10 21 10 0 10 5 10 0 10 0 10 6 10 6 10 6 10 1 10-6 10 16 10-21 10-3 10 17 10-9 10 2 10 16 10 6 10-7 10 8 10-4 10 4 10-14 10 20 10-16 10 13 10-1 10-16 10 21 10 12 10 5 10 13 10-7 10-30 10 15 10 4 10-7 10-1 10 25 10-11 10-16 10-4 10 27 10-4 10-10 10 0 10 14 10-2 10-1 10 8 10-1 10 0 10 8 10 2 10 3 10-16 10 4 10-4 10 5 10-4 10 13 10-1 10 13 10-7 10-2 10 17 10 9 10-2 10-14 10 5 10 0 10 15 10-39 10 13 10 16 10 9 10-18 9 3 10-2 10-1 10 5 10-5 10-16 10 18 10 3 10-4 10 2 10-8 10 6 10 10 10-6 10 18 10-6 10-4 10-15 10 15 10 3 10 1 10 11 10-4 10 0 10 1 10-5 10-16 10 12 10-4 10 3 10 6 10-6 10-9 10 2 10 4 10 0 10 9 10-9 10 2 10 5 10 5 10-5 10 12 10-2 10 7 10-21 10-11 10 5 10 15 10-1 10-17 10 1 10-3 10-12 10-2 10 7 10 9 10 10 10 1 10-6 10-6 10 4 10 5 10-3 10-13 10 6 10 20 10-4 10-4 10-9 10 14 10 3 10 5 10-19 10 2 10-4 10-3 10 8 10 17 10-22 10 20 10-8 10-6 10 3 10-3 10 0 10-1 10-2 10 18 10 7 10-20 10 11 10-8 10-15 10 4 10 15 10-4 10-1 10 0 10-5 10 8 10-5 10-10 10 9 10-3 10-9 10 3 10 11 10 19 10 2 9-14 10-1 10-2 10-30 10 10 10 15 10-11 10-4 10 10 10 2 10 2 10 5 10 9 10-14 10-4 10 14 10-4 10 8 10 7 10-11 10 1 10 0 10-2 10-3 10-2 10 11 10-2 10-6 10 15 10-6 10 10 10-6 10-8 10 0 10 3 10 1 10 9 10-13 10 14 10 12 10-5 10 1 10-10 10 3 10 7 10 5 10 3 10 3 10-8 10-18 10 13 10 7 10-2 10-1 10-1 10-12"/>
<path stroke="#87a2f6" d="M8328 6039l10 1 10 24 10 17 10 10 10 60 10 35 10 43 10 9 10-12 10 1 10 9 9-9 10-9 10-25 10-22 10-17 10-22 10 6 10-1 10-5 10-46 10-16 10 10 10-14 10 20 10-424 10-1530 10-1610 10-1204 10-421 10-22 10 17 10 24 10-122 10 104 10-8 10 18 10 110 10-194 10 3 10 1039 10 1144 10 1007 10 807 10 404 10 402 10 267 10 234 10 223 10 143 10 120 10 68 10 43 10 19 10 9 10 7 10 28 10 12 10-12 10 9 10-1 10-8 10 7 10 8 10-15 10 12 10-4 10 12 10-26 10 12 10-20 10 12 10 3 10 13 10 3 10-15 10-17 10 9 10-4 10-14 10 4 10 5 10-9 10-5 10-3 10-19 10 21 10-36 10-2 10 13 10-16 10-5 10-17 10-7 10 5 10-11 10-19 10-14 10 1 10 0 10 4 10-18 10-17 10-8 10 17 10-19 10-12 10-20 10-12 10-13 10-10 10-22 10 5 10-17 10 0 10-23 10-11 10-7 10-15 10-6 10-13 9 24 10-9 10 3 10-27 10-2 10 8 10-12 10 9 10 1 10 8 10-12 10 10 10-9 10 27 10 5 10 22 10-9 10 14 10 24 10-6 10 3 10 20 10 23 10 5 10-9 10 32 10 28 10-5 10 17 10 15 10-15 10-6 10-5 10 5 10-1 10 6 10-16 10 14 10 9 10-25 10-4 10 5 10-5 10 3 10 2 10 10 10 0 10-31 10-6 10-3 10-7 10-22 10-24 10 5 10 11 10-2 10-7 10-15 10 1 10-2 10 33 10 4 10-2 10 28 10 38 10 30 10 28 10 42 10 31 10 62 10 23 10 28 10 28 10 35 10 37 10 30 10 41 10 23 10 18 10 11 10 14 10 16 10-4 10 8 10 9 10 4 10 7 10-4 10 14 10 17 10-3 10 0 10-1 10 4 10 11 10-9 10 18 10 11 10-6 10 11 10-10 10 15 10-1 10 0 10 8 10 17 10-11 10-3 10 2 10 6 9 11 10 0 10 11 10-26 10 8 10-10 10 9 10-10 10 15 10 10 10 6 10-4 10 8 10 11 10-21 10-6 10 16 10-6 10 27 10-9 10-19 10-8 10 9 10 1 10 10 10-6 10 16 10 25 10-18 10 2 10 2 10-3 10-1 10 19 10-3 10 6 10 1 10-12 10 7 10 9 10-1 10 2 10 1 10-6 10 6 10 7 10 3 10 9 10-16 10 0 10 23 10-4 10-13 10 21 10-1 10-19 10 5 10-1 10 16 10-14 10 3 10-5 10 19 10 6 10 7 10-8 10 9 10-4 10-14 10 1 10 13 10-2 10 12 10-9 10 13 10-9 10-6 10 18 10-11 10-7 10-5 10 0 10 7 10 3 10 14 10-15 10 9 10-3 10 3 10 7 10 13 10-9 10 1 10 11 10-16 10 3 10 9 10 5 10-13 10 10 10 4 10 16 10-7 10 0 10-12 10-9 10-1 10 22 10-5 10-12 10 10 9 4 10 1 10 13 10-3 10-3 10-4 10 0 10 1 10 4 10-17 10-2 10 4 10 6 10-7 10 16 10-5 10-2 10 6 10 17 10 7 10-21 10 11 10-10 10 3 10 4 10-4 10-10 10 0 10-4 10 17 10 5 10-13 10 4 10 5 10 12 10-4 10-1 10-9 10 2 10 14 10 8 10-22 10 11 10 6 10 1 10-5 10-11 10-1 10 4 10 1 10 3 10-3 10 2 10-6 10 7 10-2 10-7 10 7 10 0 10-9 10 3 10 1 10 0 10-3 10 22 10-15 10-2 10-18 10 20 10-15 10 6 10 3 10-2 10 1 10 10 10-9 10-5 10 11 10-10 10 0 10-4 10-1 10 3 10-13 10 10 10 16 10-12 10 16 10-8 10 0 10 16 10 3 10-31 10 10 10 18 10-3 10-5 10-14 10 15 10-7 10-2 10 0 10-10 10 6 10 18 10-8 10 2 10-3 10-7 10 20 9-10 10-6 10 8 10 11 10-22 10-7 10 18 10 1 10 2 10-4 10 6 10-12 10-2 10-6 10 5 10-12 10 18 10-7 10-3 10 5 10-1 10 5 10 12 10-4 10-11 10 21 10-22 10 15 10-10 10 11 10-10 10 8 10-5 10-1 10 1 10-3 10 4 10 3 10-11 10 9 10 2 10-4 10 10 10 1 10-3 10 0 10 1 10 4 10-4 10-4 10 15 10 3 10-5 10-3 10-7 10 1"/>
<path stroke="#85a5f7" d="M8328 6043l10-10 10 8 10 4 10 21 10 37 10 86 10 32 10 30 10-2 10-13 10-15 9-12 10-18 10-11 10-23 10 19 10-5 10-28 10-26 10 11 10 3 10-47 10-3 10-10 10 2 10-415 10-1526 10-1610 10-1204 10-443 10 36 10 55 10-28 10 24 10-147 10-38 10 10 10 100 10 134 10-194 10 1039 10 1144 10 1007 10 807 10 404 10 403 10 268 10 236 10 226 10 139 10 130 10 72 10 20 10 22 10 20 10 2 10 14 10 7 10 22 10-3 10 0 10 16 10-10 10 3 10 11 10-4 10-4 10 0 10 2 10 18 10-10 10-8 10 17 10-23 10-3 10-12 10-2 10 5 10 20 10-10 10 5 10-5 10-8 10-8 10-18 10-13 10-3 10 9 10-4 10-16 10-25 10 14 10 5 10-1 10-10 10-18 10 4 10-4 10-7 10-34 10-1 10-20 10-15 10 2 10-10 10-3 10-7 10 4 10-11 10-13 10-28 10-3 10 0 10-22 10-2 10-9 10-1 10-26 10 1 10-12 10 10 9-5 10 28 10-37 10-39 10 35 10-33 10-9 10 1 10 17 10 11 10-15 10 19 10 21 10 5 10-5 10 8 10 9 10 5 10-16 10 20 10 14 10 32 10 14 10-8 10 10 10 7 10 17 10 25 10 0 10 5 10-22 10 27 10 9 10-25 10 15 10 10 10-14 10 11 10-4 10-1 10-14 10 2 10-9 10 9 10-7 10-12 10 0 10-19 10-4 10 21 10-43 10 4 10-17 10-8 10 1 10-6 10-5 10 14 10-14 10 23 10-10 10 28 10 12 10 25 10 17 10 39 10 39 10 37 10 30 10 20 10 50 10 59 10 13 10 27 10 23 10 29 10 30 10 22 10 19 10 24 10 18 10 12 10 13 10-4 10-8 10-4 10 19 10 1 10 17 10 1 10 5 10-14 10 16 10 11 10 10 10 8 10-13 10-10 10 17 10 15 10 3 10 10 10-6 10-17 10 16 10-1 10-3 10 17 10-3 10 10 9-12 10-1 10 3 10 23 10-4 10-9 10 4 10-9 10 0 10-1 10 5 10-3 10 11 10 6 10-6 10 15 10 13 10-15 10-9 10 0 10-13 10 15 10 24 10 1 10 16 10-9 10-7 10-14 10-8 10 12 10-4 10 4 10 16 10 8 10 15 10-5 10-1 10 5 10-3 10 4 10-19 10 22 10-11 10 11 10 3 10-4 10 22 10-4 10-11 10 15 10 8 10 14 10-11 10 5 10-7 10 0 10-8 10-11 10 21 10 3 10 3 10-20 10 10 10 10 10 12 10-12 10 10 10 1 10-12 10 0 10 0 10-1 10 11 10 9 10-2 10 5 10-14 10-2 10 4 10 0 10 7 10 2 10-8 10 18 10-7 10-10 10 14 10 0 10-1 10 3 10-7 10 1 10 3 10 6 10 10 10-11 10 4 10 6 10-1 10-17 10 14 10-7 10 14 10 6 10-19 10 15 10-3 10-14 10 24 10-3 10-4 9 5 10-8 10 0 10 5 10-4 10 6 10 15 10-11 10-16 10 1 10 6 10 16 10 3 10-11 10-1 10-8 10 10 10 16 10 6 10-12 10-9 10 4 10-3 10 0 10-4 10 12 10 6 10 3 10-7 10-3 10 12 10-8 10-7 10 8 10-5 10 9 10-7 10 8 10-7 10 11 10 6 10-18 10-2 10 6 10-12 10 21 10-15 10-3 10 5 10-3 10-10 10 1 10 4 10 0 10-8 10 14 10-7 10 15 10-18 10-1 10 10 10-5 10 6 10-3 10 9 10-10 10-2 10 1 10-2 10 6 10-3 10-3 10 8 10 3 10-19 10 12 10-1 10 9 10 7 10-18 10-8 10 16 10 15 10-4 10-28 10 2 10 5 10 5 10-1 10 1 10-9 10 2 10-6 10 9 10-11 10 6 10 8 10 9 10 1 10-9 10-7 10 9 10 4 10-19 10 6 10-2 10 6 10 11 10 0 10 10 9-4 10 1 10-2 10 2 10 7 10-11 10-7 10-1 10-11 10-3 10 10 10 0 10 0 10-4 10 10 10-15 10 8 10-6 10 15 10 3 10 9 10-6 10 1 10 2 10-10 10 6 10-4 10 10 10 9 10-26 10 0 10 2 10 13 10-5 10 1 10 1 10-9 10-7 10 4 10 15 10 7 10-4 10 10 10-1 10 3 10-10 10-9 10 4 10-5 10 9 10 1 10-1 10 7 10-5 10 8 10 8"/>
<path stroke="#83a8f7" d="M8328 6040l10 33 10 10 10 42 10 23 10 27 10 27 10 17 10 29 10 8 10-8 10-4 9-4 10-29 10-9 10-21 10 14 10-11 10-20 10-11 10-27 10-18 10-24 10-27 10 27 10 10 10-433 10-1529 10-1610 10-1204 10-312 10 32 10-78 10 36 10-51 10-33 10-58 10 33 10-39 10-72 10 51 10 1039 10 1144 10 1007 10 807 10 404 10 403 10 268 10 236 10 222 10 149 10 116 10 80 10 22 10 35 10 46 10 13 10 10 10 5 10-6 10 9 10 13 10-11 10 5 10-17 10 6 10-1 10 7 10 7 10-15 10 5 10 12 10-14 10 0 10 1 10-13 10 18 10-15 10-3 10-1 10-1 10 7 10 1 10-13 10-7 10-17 10 9 10-18 10-21 10 25 10-24 10-2 10 3 10-2 10-15 10 20 10-25 10-9 10-15 10 25 10 12 10-36 10 2 10-27 10-9 10 2 10 1 10-37 10-11 10 6 10-26 10 6 10-24 10 5 10-17 10-23 10 8 10-18 10 7 10-24 10 7 10-9 9 6 10-25 10-43 10 27 10 9 10 4 10 9 10 10 10-24 10 24 10-27 10 20 10 10 10 6 10 12 10-1 10 8 10 21 10-3 10 11 10-11 10 3 10 40 10 5 10 3 10 17 10 12 10-1 10 4 10 20 10-4 10 2 10-6 10 10 10 19 10-8 10-11 10 13 10-11 10-11 10 5 10 8 10-23 10-32 10-14 10 20 10 8 10 6 10-17 10-5 10-4 10-22 10 1 10-28 10 11 10 3 10 6 10-25 10 5 10-3 10 29 10 13 10 9 10 45 10 10 10 21 10 50 10 22 10 45 10 33 10 30 10 14 10 40 10 30 10 25 10 35 10 13 10 32 10 19 10 14 10 9 10 7 10-7 10 25 10-3 10-13 10 15 10 13 10 11 10 4 10 0 10 2 10 16 10-6 10 7 10 19 10 14 10-15 10 2 10-5 10 18 10-14 10 9 10 17 10 2 10-17 10-12 10 10 10 12 10-13 9-3 10 35 10-8 10-7 10 4 10-17 10 17 10-5 10 9 10 1 10-1 10-3 10 15 10-10 10 3 10-9 10 26 10 6 10-7 10 3 10 20 10 5 10 9 10-13 10-9 10 31 10-16 10-14 10 9 10 5 10-13 10 27 10-11 10-9 10 5 10-3 10-7 10 13 10-1 10 4 10 4 10-4 10-11 10 20 10-6 10 20 10-9 10-6 10 14 10 19 10-9 10 6 10-15 10-10 10 4 10 4 10 17 10 4 10-5 10 11 10-13 10 14 10-4 10 3 10-4 10 22 10-11 10 5 10 8 10-4 10 6 10-13 10 20 10-15 10-14 10 10 10 4 10 4 10-3 10 1 10 10 10-7 10 2 10 9 10-5 10-3 10 7 10-12 10 16 10 10 10-24 10 25 10 15 10-17 10-1 10-2 10 13 10 4 10 4 10-6 10-1 10-13 10 2 10-6 10 5 10 18 10-11 10 15 10-14 10-9 10 12 9-14 10 0 10 8 10 2 10 4 10-11 10 6 10-6 10-1 10 14 10-3 10 4 10-14 10 13 10 4 10 0 10 13 10-2 10-6 10 15 10-17 10 10 10-20 10 0 10 7 10 1 10 17 10 8 10-23 10-2 10 8 10 2 10-13 10-2 10 10 10 8 10-9 10 1 10-2 10 2 10 3 10-15 10 1 10 10 10-5 10-1 10 21 10-5 10-8 10-8 10 6 10-5 10 14 10-13 10-12 10 15 10 2 10-20 10 16 10 5 10-10 10 23 10 13 10-4 10-34 10 21 10 0 10-9 10 14 10-1 10-6 10-17 10 10 10-11 10 9 10-3 10-5 10 14 10-7 10-6 10-10 10 8 10-7 10 1 10 11 10-4 10 5 10-12 10 19 10-14 10 8 10-5 10-1 10 19 10 1 10-2 10-20 10 12 10-7 10-8 10 3 10 19 10 4 10-9 10-1 10 5 10-8 10 1 10-3 10-11 9 13 10 0 10 14 10-3 10-7 10-22 10 12 10 1 10 11 10 2 10-1 10-1 10 2 10-11 10 5 10 9 10-19 10 21 10-11 10-1 10 4 10 5 10 5 10 8 10-14 10-15 10 20 10 6 10-4 10-3 10-8 10 10 10 13 10-9 10 2 10-4 10 9 10-6 10-13 10 5 10-5 10 17 10-11 10 8 10-3 10 15 10-14 10 4 10-7 10 2 10 12 10-12 10-7 10 7 10 8 10-4"/>
<path stroke="#81abf8" d="M8328 6079l10-25 10 32 10 31 10 35 10 31 10 18 10 31 10 60 10-18 10-17 10-15 9-21 10-3 10-37 10 19 10-29 10 7 10-9 10-45 10-19 10 7 10-20 10 25 10 3 10 11 10-458 10-1540 10-1611 10-1204 10-517 10 174 10-4 10-21 10-5 10-155 10 219 10-52 10-49 10-90 10 9 10 1039 10 1144 10 1007 10 807 10 404 10 403 10 269 10 236 10 229 10 149 10 129 10 76 10 42 10 23 10 31 10-14 10 15 10 19 10 21 10-23 10 8 10 12 10 11 10 0 10-17 10 18 10-1 10-2 10-9 10-10 10 5 10-1 10-1 10 11 10-4 10 11 10-12 10-4 10-4 10 7 10-33 10-2 10 12 10 10 10-8 10-5 10-7 10-11 10 10 10-2 10-13 10 15 10-45 10-6 10 0 10-11 10 0 10-1 10-11 10-5 10-19 10 0 10-20 10-21 10-1 10 0 10 11 10-8 10-2 10-18 10-27 10 16 10-22 10 11 10-14 10-26 10 1 10-27 10 0 10 1 10-4 9-4 10-9 10 14 10-10 10 2 10-10 10 6 10-8 10-25 10-11 10 27 10 9 10-2 10 19 10 5 10 15 10-6 10 23 10-23 10 35 10 9 10-8 10 15 10 46 10-12 10 7 10 0 10 30 10-33 10 36 10-17 10 24 10 13 10-18 10 11 10-29 10-6 10 8 10 13 10 4 10-11 10-7 10 4 10-8 10-7 10-16 10 11 10-6 10-18 10-7 10 35 10-30 10-1 10-23 10 7 10 9 10-48 10 28 10 19 10-5 10-5 10 11 10 21 10 35 10-8 10 60 10 22 10 50 10 20 10 27 10 22 10 43 10 32 10 44 10 22 10 27 10 15 10 24 10 6 10 13 10 2 10 3 10 19 10-2 10 5 10 27 10-15 10 19 10 2 10-11 10 16 10-6 10 15 10 9 10-12 10 11 10-7 10-5 10 7 10 5 10 15 10 9 10-3 10-4 10 18 10 0 10-4 10-8 10 6 10 12 9-4 10 8 10 2 10-8 10-21 10-7 10 30 10-20 10 29 10 3 10 4 10-15 10 11 10-7 10 11 10 4 10 6 10 0 10 5 10-23 10-4 10 4 10-10 10 21 10 16 10 9 10 12 10-6 10-6 10 10 10-6 10-1 10 8 10 10 10-7 10 0 10 8 10 12 10-24 10-2 10 12 10 9 10-8 10 9 10-3 10 23 10-11 10-10 10-6 10 4 10 0 10 5 10 5 10 7 10 18 10 2 10-11 10 17 10-21 10-5 10 17 10-10 10 6 10-13 10 15 10-9 10 19 10 7 10 14 10-15 10 7 10-20 10 19 10-12 10-4 10 12 10 0 10-21 10 16 10-5 10-1 10 5 10 23 10-1 10-7 10-10 10 13 10 16 10 6 10-12 10 3 10-11 10-4 10 7 10 14 10-7 10-6 10 1 10-5 10 10 10-7 10-3 10 6 10 3 10 7 10 2 10 4 10-15 10 3 10 14 10-3 9-14 10-8 10-1 10 23 10-8 10 16 10-21 10-10 10 24 10-2 10 14 10-7 10 4 10 6 10-15 10 1 10-6 10 1 10 15 10 4 10-14 10-6 10 11 10-18 10 6 10-7 10 7 10-4 10 16 10 2 10 16 10-10 10 9 10-10 10 3 10 6 10-3 10 0 10 6 10-22 10 13 10-13 10-8 10 0 10 13 10 8 10 9 10 3 10 2 10-6 10-9 10-10 10 14 10-13 10 11 10-26 10-1 10-7 10 12 10 16 10 13 10-9 10 11 10-15 10-7 10 11 10-13 10 3 10 0 10-3 10 11 10-1 10 7 10-10 10 7 10-15 10-5 10 13 10 1 10 0 10-12 10 1 10 4 10-17 10 11 10 5 10 3 10-1 10 12 10-17 10 14 10 11 10-17 10-10 10 5 10 10 10 17 10-18 10 7 10-8 10 4 10-10 10 9 10-5 10 5 10 1 10 6 10-16 10 20 10-14 9 9 10-1 10-12 10 15 10-14 10 7 10-9 10-3 10-3 10 11 10-1 10 8 10-3 10 3 10-8 10-22 10 7 10 21 10 1 10 1 10 12 10 3 10-13 10 11 10-26 10 23 10-3 10-18 10 3 10-2 10 24 10-2 10 8 10-2 10-9 10 6 10-13 10 12 10-5 10 4 10 6 10 5 10-3 10-18 10 16 10-8 10 16 10-11 10 6 10 0 10-7 10 1 10-3 10 4 10-1 10 11"/>
<path stroke="#7faef8" d="M8328 6077l10-19 10 29 10 25 10 44 10 25 10 22 10 50 10 24 10 5 10-21 10-26 9 14 10-11 10-11 10 12 10-41 10-10 10-21 10 2 10-35 10 10 10-38 10-26 10 18 10 35 10-468 10-1532 10-1611 10-1204 10-324 10-199 10 232 10 11 10-225 10 21 10 36 10-72 10 204 10-207 10 32 10 1039 10 1022 10 921 10 722 10 510 10 404 10 345 10 238 10 234 10 184 10 141 10 115 10 59 10 43 10-10 10 10 10 58 10-12 10 20 10 14 10-1 10 4 10 2 10 9 10-33 10 0 10-10 10 11 10 11 10-2 10 34 10-2 10 1 10-14 10-36 10 2 10-5 10-5 10 7 10 9 10 22 10-8 10-5 10-9 10-19 10 6 10-17 10-8 10-10 10 10 10-32 10 8 10 7 10-23 10-10 10 1 10 2 10 0 10-8 10-17 10 3 10-22 10 6 10-15 10-14 10-1 10-16 10-10 10 7 10-2 10-16 10-28 10-22 10 20 10-9 10-21 10 1 10-17 10 10 10 6 10-4 9-6 10-10 10 31 10-9 10-18 10-5 10-30 10 9 10 11 10-6 10-15 10 38 10 2 10 5 10 3 10-9 10 10 10 3 10 5 10 25 10 26 10 5 10 7 10 12 10 10 10 5 10 0 10 0 10-5 10 9 10 13 10 7 10 2 10 2 10-2 10-9 10 14 10-12 10 21 10-18 10-15 10 14 10-20 10-2 10-2 10-4 10-9 10 13 10-12 10 8 10-7 10-19 10 15 10-24 10-11 10 12 10 1 10 0 10-6 10-16 10-6 10 33 10 30 10 23 10 16 10 26 10 21 10 15 10 56 10 26 10 53 10 20 10 24 10 35 10 7 10 33 10 16 10 18 10 13 10 23 10 26 10-17 10 11 10 12 10-11 10 29 10-4 10 20 10-10 10-3 10 15 10 9 10-4 10-2 10 0 10 6 10 4 10 0 10-4 10-14 10 17 10 1 10 11 10 7 10-18 10 13 10-12 10 5 10-2 10 22 9 14 10-24 10 11 10 6 10 1 10 0 10 16 10-21 10 6 10-6 10-11 10 9 10 19 10-6 10 8 10 0 10 1 10 2 10 12 10 13 10-14 10 6 10-7 10 8 10 2 10-12 10 20 10 1 10-5 10-2 10 9 10 1 10 14 10-23 10 15 10-6 10 15 10 2 10 3 10 4 10 3 10-11 10 5 10 12 10-15 10-4 10 5 10 1 10 3 10 13 10-10 10 2 10 3 10-2 10 4 10 11 10-8 10 11 10 11 10-16 10 9 10-1 10-12 10 7 10 0 10 13 10 7 10 5 10-10 10 3 10 4 10-7 10 13 10-10 10-8 10-2 10-4 10 10 10 13 10-1 10 5 10 9 10-13 10 4 10-6 10-6 10 31 10 1 10-3 10-9 10 6 10-7 10-1 10 5 10-2 10 13 10 3 10-11 10 10 10-7 10-4 10 9 10 8 10-15 10-10 10-11 10 9 10 1 10 19 10 4 10-8 9 8 10-4 10-12 10 10 10 4 10 3 10-5 10-4 10 1 10 12 10 7 10-14 10-17 10 3 10-10 10 22 10 1 10 20 10-16 10 0 10 10 10 7 10 0 10-9 10 3 10 1 10 5 10-6 10-2 10 1 10 12 10-17 10 12 10-5 10-3 10 3 10 2 10-11 10 13 10-13 10 18 10 0 10-10 10-14 10-18 10 32 10 7 10-9 10-9 10 3 10-14 10 7 10 13 10 12 10 0 10-11 10-4 10 27 10-12 10-6 10 0 10-3 10 14 10-13 10 16 10-4 10-26 10 13 10 8 10-10 10-5 10-18 10 18 10-2 10 14 10-9 10-3 10 6 10-12 10 1 10-3 10 4 10 2 10 3 10-2 10-7 10 15 10-4 10-2 10 8 10 2 10-25 10 8 10 7 10-1 10-8 10 25 10 3 10-7 10-12 10-1 10 4 10 5 10 4 10-10 10 12 10 13 10-2 10-12 10-17 9 12 10 1 10 8 10-7 10-1 10-9 10 10 10 3 10-8 10 7 10 3 10-14 10 7 10-8 10 15 10-7 10-6 10 14 10-2 10 14 10-24 10 5 10 7 10 5 10-19 10 2 10-5 10 3 10 6 10-1 10 5 10-3 10 17 10-8 10-7 10 4 10-3 10-2 10 13 10 0 10-11 10 23 10-12 10-13 10 3 10-11 10 6 10 1 10-3 10 10 10 19 10-5 10-12 10 10 10 7 10 0"/>
<path stroke="#7db1f9" d="M8328 6073l10 11 10 6 10 44 10 26 10 33 10 30 10 29 10 14 10 8 10 1 10 11 9-15 10 3 10-7 10-19 10-31 10-38 10 9 10-3 10-51 10-45 10 11 10-7 10 1 10 15 10-439 10-1537 10-1611 10-1204 10-403 10 4 10 54 10 181 10-121 10-226 10 156 10 48 10-83 10-63 10-38 10 1039 10 925 10 870 10 619 10 575 10 404 10 403 10 257 10 238 10 225 10 155 10 146 10 78 10 30 10 43 10 32 10-2 10 16 10 32 10-26 10 20 10-15 10-18 10 11 10 12 10 10 10 13 10-13 10 0 10 7 10-15 10-1 10 5 10-11 10 18 10-11 10 3 10-2 10 2 10-16 10-13 10 20 10-13 10-6 10-1 10-16 10-17 10 29 10-10 10-12 10 0 10 10 10-10 10 8 10-17 10-19 10-23 10 11 10-10 10-6 10-3 10-21 10 7 10-14 10-22 10-5 10 17 10-12 10-20 10-6 10 0 10-5 10-2 10-26 10 3 10-17 10-10 10-15 10-18 10 16 10 14 9-10 10-27 10-2 10 7 10-22 10 9 10 6 10-24 10 26 10 6 10-10 10 13 10 6 10 5 10 14 10 10 10-16 10 12 10 34 10-2 10 17 10 13 10-18 10 6 10 13 10 13 10 22 10 3 10-6 10-2 10 31 10-1 10 0 10-10 10 12 10-3 10 16 10-1 10-16 10-12 10-5 10 0 10 12 10-7 10-10 10-5 10-4 10-18 10 4 10-6 10-10 10-13 10-11 10 22 10-20 10-3 10-5 10-4 10 17 10 2 10-14 10-1 10 65 10 39 10-20 10 36 10 29 10 18 10 27 10 45 10 14 10 25 10 50 10 22 10 13 10 12 10 33 10 14 10 18 10 25 10-1 10 11 10 6 10 19 10 9 10-8 10 5 10-13 10 2 10 5 10 8 10 3 10 8 10 2 10-10 10-6 10-1 10 25 10 16 10 1 10-8 10 1 10 3 10-10 10 20 10-7 10 7 10 6 10-6 10 12 9-2 10 8 10 6 10-17 10 8 10-14 10 18 10 3 10 2 10-5 10 18 10-2 10 10 10 2 10-10 10-3 10-14 10-8 10 10 10 9 10-6 10 8 10-3 10 12 10 23 10-13 10 8 10-8 10-2 10-1 10 2 10 1 10 8 10-7 10 6 10 14 10-1 10-13 10 3 10 0 10 4 10 13 10-18 10 6 10-7 10 27 10 15 10-5 10-15 10-7 10 2 10 2 10 7 10 12 10-2 10 3 10-3 10-2 10 12 10 5 10-17 10 19 10-4 10 10 10-5 10-5 10 12 10-4 10-2 10 11 10-18 10 8 10-12 10 24 10 12 10-4 10-13 10 0 10 1 10 11 10-1 10-6 10-5 10 8 10 7 10-1 10-15 10 0 10 9 10 14 10-3 10 3 10 4 10 31 10-33 10 9 10-6 10 0 10-3 10 12 10 0 10 2 10-17 10 11 10 11 10 5 10-16 10-4 10 22 10-2 10-5 9 6 10-11 10-3 10-14 10 16 10-3 10-19 10 8 10 7 10-6 10-5 10 14 10-3 10-10 10 14 10 9 10-7 10 0 10-1 10 5 10 6 10 1 10-1 10 16 10-13 10-18 10 14 10 12 10-17 10-2 10 2 10 13 10 8 10-14 10-8 10 9 10-6 10-3 10 4 10 9 10 2 10 7 10 11 10 6 10-18 10-11 10 5 10-1 10-17 10 5 10-5 10-6 10 20 10-9 10 17 10-10 10 9 10-13 10 12 10 2 10-13 10 6 10 1 10-11 10-2 10 9 10-5 10-4 10 6 10-2 10-1 10 0 10-4 10-8 10 10 10-10 10 4 10 11 10 2 10-8 10-4 10-10 10 14 10 8 10 11 10 3 10-1 10-12 10 6 10-9 10 6 10 2 10-14 10-1 10 7 10-10 10 16 10-4 10 11 10-14 10-3 10 7 10 3 10-12 10 4 10 10 10 11 10-19 10-11 10-1 9 3 10 6 10 6 10 8 10-9 10 3 10-5 10 3 10 1 10-7 10 4 10-20 10 3 10 15 10 3 10-8 10-12 10 26 10 1 10 14 10-10 10 0 10-4 10-8 10 15 10 2 10-6 10 4 10 2 10 7 10 10 10-12 10-19 10-9 10-11 10 8 10 14 10 19 10-8 10 5 10 1 10 8 10 3 10-15 10 5 10 0 10-6 10-8 10 16 10-18 10 9 10 7 10-3 10 15 10 0 10-6"/>
<path stroke="#77b8f6" d="M8328 6110l10 12 10 25 10-8 10 27 10 31 10 55 10 30 10-10 10 2 10 6 10 10 9-9 10-15 10-40 10-4 10-5 10-12 10-1 10-27 10-4 10-14 10-17 10-46 10-8 10 35 10-455 10-1535 10-1611 10-1204 10-433 10-32 10 25 10 51 10 99 10-251 10 227 10-159 10-12 10 3 10-9 10 1039 10 847 10 825 10 553 10 542 10 439 10 404 10 333 10 239 10 236 10 184 10 148 10 109 10 72 10 35 10 21 10 16 10 20 10-9 10 19 10 3 10 23 10-10 10 0 10 3 10 5 10-11 10-8 10-24 10 24 10-3 10-2 10-9 10 16 10 8 10-3 10 4 10-5 10 5 10-6 10-15 10 3 10-4 10-8 10-6 10-1 10 19 10 1 10-31 10 8 10-5 10-19 10 12 10 15 10-9 10-27 10-17 10-8 10-26 10-4 10 31 10 9 10-19 10 7 10-34 10 15 10-21 10-2 10-24 10-32 10 5 10 29 10-12 10-8 10-17 10-28 10 7 10 4 10 7 10 3 10-5 9-19 10-20 10-6 10 4 10-10 10 8 10-18 10 21 10 15 10-14 10 6 10-20 10 18 10-1 10 4 10-6 10 0 10 35 10 29 10 3 10-9 10-2 10 22 10-16 10 21 10-5 10 17 10 26 10 3 10-13 10-6 10 10 10-18 10 14 10 3 10 1 10 10 10 14 10-11 10-3 10 0 10-11 10-1 10-18 10-8 10 10 10-21 10 6 10 18 10 2 10-11 10-19 10 3 10-21 10-23 10 26 10-3 10 11 10-20 10 32 10-10 10 19 10 11 10 13 10 28 10 31 10-1 10 31 10 31 10 16 10 44 10 18 10 33 10 43 10 23 10 12 10 26 10 21 10 1 10 13 10 15 10 21 10-9 10-7 10 10 10 2 10 10 10-6 10 0 10 9 10 0 10 11 10-8 10 2 10 14 10-5 10 8 10 9 10 2 10 8 10-5 10 5 10 2 10-16 10 35 10-2 10-16 10 13 10 11 10-18 9-11 10 15 10 1 10 7 10 9 10-9 10-4 10 4 10 13 10-5 10 6 10 3 10-5 10 1 10 14 10-13 10 7 10 2 10 10 10 2 10 8 10-7 10 3 10 0 10-14 10 12 10-9 10 14 10-1 10 16 10-8 10-7 10 32 10-5 10-13 10-2 10 7 10 0 10-5 10 0 10 19 10-12 10 10 10-3 10-1 10 5 10-10 10 1 10 3 10-9 10 16 10 6 10-6 10 6 10 12 10-7 10-3 10 16 10-9 10 8 10-1 10-2 10-11 10 6 10-4 10 11 10 0 10 9 10-12 10 6 10 9 10-9 10-2 10 3 10 3 10 2 10 1 10 5 10 5 10-3 10 5 10-13 10 7 10 5 10 17 10-3 10-4 10 14 10-4 10 1 10-5 10-10 10 18 10-10 10-10 10-4 10 9 10 17 10-11 10 0 10-4 10-2 10 7 10 14 10 1 10 7 10-12 10 1 10 16 10 7 10-18 9 9 10 7 10-20 10 2 10 6 10-4 10-13 10 7 10-8 10 2 10 8 10-4 10 14 10 10 10-2 10-15 10 9 10 1 10 5 10-5 10 3 10-8 10 8 10-2 10-9 10 12 10 7 10 3 10 7 10-20 10-1 10-7 10 8 10-1 10-8 10 2 10-8 10 9 10 20 10 2 10-1 10-7 10 3 10 3 10-3 10 6 10-10 10-3 10-7 10-10 10 8 10-12 10 13 10 7 10 2 10 5 10-16 10 20 10-11 10-5 10-1 10 2 10-5 10-8 10 10 10 0 10-8 10 23 10-14 10 8 10 0 10-12 10-2 10 4 10 5 10 5 10-4 10-7 10-6 10 3 10 3 10-7 10 10 10 2 10-2 10 3 10-8 10 6 10 2 10-21 10 17 10-6 10 2 10 10 10-5 10 10 10 5 10-10 10 16 10 6 10-8 10-3 10-10 10 15 10-13 10 2 10-2 10 6 10 3 10-30 9 7 10 6 10-13 10-1 10 36 10-9 10-11 10 7 10 3 10-9 10 5 10 2 10 8 10-4 10-1 10-4 10-8 10 7 10 19 10 2 10-18 10 6 10-1 10-11 10-17 10 28 10-16 10 2 10 6 10 17 10 4 10-18 10 17 10-26 10 3 10 6 10 20 10-9 10-12 10-1 10 0 10 2 10 0 10-4 10-11 10 19 10 4 10-7 10 9 10 11 10-5 10 3 10-14 10-7 10-1 10-3"/>
<path stroke="#71c1f1" d="M8328 6108l10-27 10 30 10 35 10 29 10 14 10 29 10 73 10 33 10-4 10 21 10-19 9-16 10-33 10-30 10-2 10-28 10 32 10-25 10-17 10-35 10-16 10-35 10 10 10 7 10 33 10-495 10-1539 10-1611 10-1204 10-473 10-2 10 55 10-64 10 218 10-190 10-11 10-33 10 105 10-51 10-45 10 1039 10 783 10 753 10 543 10 481 10 460 10 404 10 403 10 245 10 239 10 220 10 154 10 143 10 97 10 62 10 33 10 18 10 18 10-10 10 10 10 15 10 6 10-7 10 26 10-36 10-7 10 4 10 15 10 6 10-2 10-25 10 1 10-4 10-5 10 22 10 17 10-9 10 7 10-15 10-2 10-3 10 3 10 6 10-16 10 6 10-12 10 11 10-3 10-8 10-25 10-20 10 4 10-10 10 2 10-18 10 24 10-7 10-15 10-18 10 9 10 4 10-11 10-1 10 1 10-1 10-13 10-27 10-13 10-7 10-10 10 4 10-23 10 14 10-2 10-12 10 15 10-20 10-32 10 3 10-12 10 11 9-5 10 5 10-3 10 16 10-35 10-16 10 3 10 1 10 3 10-1 10-3 10-2 10 19 10 9 10-5 10 10 10 1 10 8 10 5 10 22 10 12 10 11 10 8 10-7 10 13 10 3 10 4 10 0 10-14 10 23 10 21 10 10 10-2 10-13 10 14 10-5 10 3 10 12 10 6 10-1 10-13 10-16 10 0 10-26 10 9 10 3 10 7 10-12 10-11 10-14 10 0 10 0 10-1 10-15 10 16 10 10 10 3 10-6 10-23 10 3 10 4 10 10 10 23 10 1 10 41 10 21 10 28 10 35 10 24 10 17 10 19 10 14 10 45 10 26 10 12 10 22 10 11 10 38 10 3 10 14 10 8 10 0 10 13 10 19 10 3 10 9 10-24 10 28 10-7 10 15 10-9 10 9 10 14 10-2 10-12 10-12 10-6 10-5 10 18 10 5 10 6 10 7 10 10 10 1 10-2 10 11 10 2 10 5 10-9 10 0 9-2 10 0 10-3 10 17 10 1 10-4 10-18 10 24 10-2 10 15 10-20 10 7 10 0 10 0 10 1 10-5 10-3 10-2 10 23 10 10 10-7 10-3 10-5 10 14 10-1 10 5 10-6 10 7 10-18 10 9 10 9 10 0 10-9 10 14 10 13 10-7 10-1 10 6 10-4 10-5 10 7 10-17 10 19 10 8 10 16 10-19 10-3 10 1 10 17 10-17 10-10 10 17 10 25 10-9 10 11 10-1 10-14 10 10 10-5 10 0 10-1 10 0 10 7 10 6 10 2 10 16 10-15 10 8 10 3 10 9 10-6 10 4 10-8 10 6 10-7 10 3 10-1 10 12 10-6 10 12 10-7 10 14 10-9 10-4 10-7 10 2 10-3 10 0 10 13 10 2 10 21 10-20 10-14 10 18 10-2 10-1 10 7 10 2 10-12 10 6 10-3 10 7 10 5 10-15 10 14 10-4 10-3 10 2 10-21 10 19 10 1 9 12 10-5 10 19 10-2 10 2 10-15 10 3 10-12 10 29 10-12 10 4 10-3 10-10 10 0 10-2 10 10 10 4 10-7 10 8 10-2 10-6 10-2 10 9 10-2 10 3 10 4 10-10 10 1 10-6 10-12 10 11 10-8 10 8 10 7 10-6 10 4 10 5 10-9 10 8 10-2 10-6 10 10 10 0 10 3 10 9 10-5 10 5 10 6 10-11 10 0 10-5 10-1 10-9 10-8 10 1 10 5 10 0 10 18 10-10 10-4 10 0 10 7 10-7 10-8 10 16 10-4 10 9 10 11 10-10 10-8 10-2 10 1 10-4 10-5 10 14 10 8 10-8 10-12 10-7 10 13 10 5 10-16 10-2 10 5 10 5 10 0 10 7 10-26 10 15 10 11 10-1 10-11 10 6 10 14 10-15 10 3 10-8 10 9 10-3 10-11 10 1 10-4 10 10 10-1 10 2 10 7 10-10 10 2 10 15 10 5 9-16 10-2 10 8 10-8 10 6 10 2 10-6 10-4 10-12 10-2 10 9 10 13 10-4 10 2 10-14 10 2 10 13 10 9 10-12 10-8 10 7 10 14 10 0 10-4 10 5 10 7 10 3 10-18 10 12 10-9 10 10 10 10 10-1 10-15 10-13 10 12 10 17 10-25 10-1 10-6 10 20 10-8 10 12 10-14 10 7 10 8 10 7 10-14 10 9 10 6 10-3 10-1 10 4 10-17 10-4 10-1"/>
<path stroke="#6ac9ed" d="M8328 6133l10 3 10 2 10 15 10 7 10 56 10 30 10 38 10-6 10 41 10-26 10 21 9-25 10-12 10 7 10-13 10-30 10-32 10-15 10 8 10-18 10-47 10 0 10 29 10-1 10 19 10-503 10-1548 10-1611 10-1204 10-333 10-144 10 134 10 46 10 27 10-97 10-155 10-9 10 178 10 33 10-171 10 1039 10 729 10 693 10 540 10 433 10 433 10 409 10 404 10 321 10 239 10 237 10 181 10 154 10 133 10 84 10 32 10 11 10 22 10 4 10-3 10 16 10-1 10-13 10 24 10-22 10 0 10 27 10 10 10-14 10-4 10 8 10-19 10-5 10-2 10 27 10-1 10-28 10 26 10-7 10-7 10-5 10 10 10 16 10-8 10-22 10-10 10 8 10-11 10-10 10 10 10 2 10-8 10-10 10-25 10 1 10 4 10-18 10 9 10 6 10-12 10 4 10 12 10-28 10-1 10-5 10-18 10-25 10-2 10 1 10 9 10-10 10-14 10-20 10-13 10-7 10 8 10 7 10 1 10-17 10 8 10-11 9-19 10-6 10-2 10 11 10-14 10-7 10-6 10 8 10 7 10 13 10 12 10-11 10 0 10 5 10 13 10-18 10 27 10-6 10 12 10 5 10 7 10 18 10-5 10 11 10 8 10 8 10 14 10-30 10 22 10 13 10-25 10 29 10-6 10-20 10 12 10 6 10 2 10 22 10-18 10-14 10 4 10 10 10-13 10-17 10 3 10 12 10-9 10 5 10 11 10-23 10 3 10 11 10-20 10-6 10-6 10-10 10 8 10-4 10-4 10-1 10 25 10 18 10-4 10-4 10 28 10 27 10 48 10 4 10 26 10 34 10 15 10 32 10 25 10 20 10 15 10 2 10 27 10 31 10 9 10 19 10 16 10 10 10 3 10 19 10-11 10 5 10-12 10 18 10 1 10 10 10-4 10 3 10-9 10 2 10 1 10 13 10 2 10 8 10 4 10 4 10 0 10-2 10 13 10-11 10 2 10 0 10-15 10-21 10 38 10 6 9 0 10 7 10-8 10 1 10-3 10-2 10-3 10 2 10 4 10 8 10-3 10-5 10 8 10 2 10 0 10 0 10 16 10-5 10-3 10 14 10-5 10-4 10 17 10-24 10 4 10-5 10 12 10 2 10 12 10 1 10 0 10-5 10-10 10 25 10 0 10-12 10 8 10 14 10-16 10-9 10 4 10 8 10 7 10 7 10-5 10-4 10 19 10-12 10 9 10 0 10 4 10-1 10 2 10-11 10 14 10-1 10-5 10-4 10 25 10-16 10-3 10 2 10 14 10 17 10-8 10-5 10 16 10-5 10-1 10-2 10-12 10 22 10-3 10 4 10-11 10-11 10-5 10 14 10-15 10 11 10-12 10 25 10 10 10-1 10 2 10 15 10-11 10 16 10-6 10-11 10 10 10-6 10 1 10 2 10-9 10 11 10-13 10 16 10-9 10 4 10-2 10 9 10-1 10 0 10-3 10 0 10-15 10 6 10 16 10-13 10-3 9 20 10-19 10 6 10 1 10 6 10 2 10 0 10-4 10-9 10 0 10 3 10 7 10 11 10 2 10-12 10 0 10 9 10-1 10-14 10 2 10 2 10-6 10 8 10 15 10-2 10 0 10-7 10 4 10 2 10-1 10 6 10 4 10 7 10-14 10-2 10 1 10-5 10-2 10 22 10-7 10 11 10-25 10 11 10-15 10 11 10 2 10 6 10 10 10-23 10 15 10-3 10-1 10-4 10-13 10 20 10-7 10 3 10-6 10 0 10 5 10-14 10 3 10 4 10 1 10 3 10-6 10 0 10 4 10 4 10 13 10-1 10-11 10-5 10 5 10-17 10-3 10 13 10-7 10 14 10-7 10 1 10 14 10-18 10 17 10-11 10 0 10-10 10-4 10 4 10 30 10-3 10-33 10 1 10 14 10-11 10-6 10 9 10-1 10-4 10-10 10 18 10-1 10 15 10-13 10 5 10 18 10-18 10-10 10-12 10 9 9 20 10 8 10-20 10 1 10 12 10-3 10 1 10-14 10-3 10 15 10-5 10-9 10 10 10 2 10 8 10-10 10 14 10-4 10-4 10 1 10-7 10 1 10-4 10-6 10-3 10-13 10 20 10-5 10 14 10 6 10 3 10-9 10 6 10 2 10-1 10-1 10-19 10 10 10 7 10 0 10 7 10 5 10-6 10-7 10 6 10 4 10-10 10 17 10 1 10-4 10-20 10 11 10-10 10 9 10 14 10-14"/>
<path stroke="#64d2e8" d="M8328 6129l10 27 10-22 10 12 10-5 10 57 10 42 10 37 10 65 10-6 10-33 10-5 9-16 10-4 10-12 10-4 10-10 10 3 10-5 10-52 10-7 10-13 10-27 10-18 10 8 10 6 10-473 10-1541 10-1611 10-1204 10-275 10-92 10 5 10-105 10-26 10 80 10 9 10-138 10 94 10 122 10-165 10 1039 10 683 10 641 10 542 10 394 10 393 10 398 10 404 10 396 10 240 10 239 10 217 10 160 10 147 10 106 10 65 10 22 10 35 10-23 10 17 10 0 10-5 10-15 10 25 10 22 10-1 10 16 10 1 10 8 10-25 10-3 10-1 10-9 10-2 10 19 10-14 10 8 10 11 10-5 10 7 10-1 10 8 10-8 10-11 10-4 10-19 10 4 10-1 10-17 10-9 10-2 10 1 10 5 10 8 10-20 10-20 10-13 10-23 10 12 10 0 10-2 10-7 10 12 10-4 10-14 10-3 10-21 10 11 10-31 10 17 10-10 10 13 10-23 10-16 10-5 10 9 10-22 10 2 10 7 10-16 10-13 9-14 10 5 10 7 10-3 10 7 10-16 10 4 10-1 10-3 10-7 10-8 10 7 10 27 10-14 10-14 10 20 10 16 10 22 10 4 10 16 10-15 10 32 10 6 10-7 10 21 10 8 10-23 10 33 10 1 10-29 10 2 10 30 10 6 10 12 10-18 10 6 10 0 10 7 10-22 10 32 10-2 10-26 10 7 10-27 10 0 10-13 10 2 10-3 10 0 10-8 10 18 10 5 10-24 10-17 10 3 10 15 10-2 10-16 10-3 10 23 10-14 10 38 10 13 10 30 10-4 10-8 10 35 10 33 10 28 10 22 10 16 10 18 10 27 10 11 10 46 10 14 10 10 10 17 10-4 10 20 10 25 10 2 10-7 10-6 10 13 10 1 10 8 10 9 10 23 10-14 10 12 10-9 10-2 10 5 10-10 10 9 10-5 10 18 10 4 10-22 10 7 10 24 10-8 10 7 10-6 10 17 10-9 10 0 10 2 10 13 9-3 10-15 10-5 10 17 10 3 10-12 10-1 10 15 10-8 10 8 10 3 10 9 10-9 10-1 10-4 10 3 10 7 10 11 10 5 10-8 10 5 10-4 10 17 10-6 10-1 10 4 10 3 10 5 10 11 10-25 10 8 10-3 10-12 10 15 10-2 10-10 10 6 10 15 10 12 10 2 10-11 10-23 10 27 10 6 10-8 10 14 10-10 10-4 10 15 10 1 10-3 10 19 10 1 10 4 10 6 10-17 10 7 10 2 10-5 10-4 10 7 10 3 10-8 10 10 10-3 10 7 10-4 10 3 10-7 10 7 10 4 10 15 10 10 10-27 10-3 10 22 10-18 10 18 10-4 10-10 10-11 10-2 10 11 10 10 10 7 10 8 10 4 10 7 10-13 10-1 10 9 10-18 10 26 10-11 10 0 10 4 10 17 10-16 10-7 10 10 10-13 10 7 10-5 10 7 10 4 10 0 10-5 10 4 10-13 10 4 10 10 9 8 10 11 10-22 10-12 10 6 10 5 10 13 10-8 10 5 10-6 10 9 10-25 10 10 10 10 10-5 10 10 10 8 10-3 10 1 10-13 10-6 10-3 10 5 10-10 10 2 10 5 10-1 10 5 10-3 10 21 10 3 10-25 10 12 10 9 10 1 10-1 10-7 10-1 10 15 10-13 10-11 10-5 10 2 10-1 10 9 10 7 10 1 10 11 10 0 10-2 10-7 10 0 10-9 10-2 10 14 10 3 10 12 10-19 10-7 10-3 10 8 10 10 10 0 10-10 10-4 10-6 10 10 10-4 10-14 10 29 10-1 10-4 10-8 10 8 10-11 10 17 10-9 10-1 10 10 10-7 10-11 10 8 10 9 10-6 10 4 10 0 10-16 10 1 10-4 10 26 10 2 10 0 10-3 10 0 10-7 10-10 10-9 10 9 10 3 10-14 10 21 10-9 10-2 10-2 10 1 10 4 10-8 10 9 10-1 10 17 9-17 10 2 10 17 10-18 10 7 10-6 10-1 10 4 10-9 10 15 10-5 10-18 10 5 10 4 10 17 10-2 10-2 10-1 10 2 10-1 10 2 10 9 10-1 10-5 10 2 10-7 10-10 10 7 10 9 10 8 10-19 10 7 10 9 10-3 10-4 10-3 10 14 10-8 10-1 10 3 10-4 10 5 10-18 10 2 10 0 10 9 10-7 10 6 10 15 10 3 10 0 10-4 10-3 10-6 10 4 10 4"/>
</g>
<text class="tl" text-anchor="end" transform="translate(818.2 755.9) scale(1 1.035)">0.0</text>
<text class="tl" text-anchor="end" transform="translate(818.2 622.5) scale(1 1.035)">0.2</text>
<text class="tl" text-anchor="end" transform="translate(818.2 489.2) scale(1 1.035)">0.4</text>
<text class="tl" text-anchor="end" transform="translate(818.2 355.8) scale(1 1.035)">0.6</text>
<text class="tl" text-anchor="end" transform="translate(818.2 222.5) scale(1 1.035)">0.8</text>
<text class="tl" text-anchor="end" transform="translate(818.2 89.1) scale(1 1.035)">1.0</text>
<text class="tl" text-anchor="middle" transform="translate(878.9 786.0) scale(1 1.030)">1000</text>
<text class="tl" text-anchor="middle" transform="translate(994.2 786.0) scale(1 1.030)">1500</text>
<text class="tl" text-anchor="middle" transform="translate(1109.6 786.0) scale(1 1.030)">2000</text>
<text class="tl" text-anchor="middle" transform="translate(1224.9 786.0) scale(1 1.030)">2500</text>
<text class="tl" text-anchor="middle" transform="translate(1340.3 786.0) scale(1 1.030)">3000</text>
<text class="ax" text-anchor="middle" x="1084.4" y="835.3">Raman Shift (cm<tspan class="sup" dy="-14.2">-1</tspan><tspan dy="14.2">)</tspan></text>
<text class="ax ay" text-anchor="middle" transform="translate(747.1 408.2) rotate(-90)">Intensity (a.u.)</text>
<text class="pl" x="689.0" y="59.6">b</text>
<text class="ti" transform="translate(1111.4 116.9) scale(1 1.040)">AMC-400</text>
<rect x="1125.3" y="264.0" width="4.4" height="375.0" fill="url(#ag)"/><path d="M1118.7 636.6h17.6l-8.8 18.4z" fill="#78cde6"/>
<text class="t0" transform="translate(1157.4 268.4) scale(1 1.050)" stroke="#fff" stroke-width="0.5">0</text>
<text class="t1" transform="translate(1148.0 657.0) scale(1 1.030)" stroke="#fff" stroke-width="0.5">200 s</text>
</g>
<g id="panel-c">
<rect x="1503.6" y="43.6" width="518.4" height="700.2" fill="none" stroke="#000" stroke-width="6.4"/>
<path d="M1503.6 744.0h13.8M1503.6 677.3h6.2M1503.6 610.6h13.8M1503.6 544.0h6.2M1503.6 477.3h13.8M1503.6 410.6h6.2M1503.6 343.9h13.8M1503.6 277.2h6.2M1503.6 210.6h13.8M1503.6 143.9h6.2M1503.6 77.2h13.8M1554.5 743.8v-13.4M1612.2 743.8v-6.2M1669.8 743.8v-13.4M1727.5 743.8v-6.2M1785.2 743.8v-13.4M1842.9 743.8v-6.2M1900.5 743.8v-13.4M1958.2 743.8v-6.2M2015.9 743.8v-13.4" fill="none" stroke="#000" stroke-width="6.3"/>
<g class="c" transform="scale(.1)">
<path stroke="#f4a0ce" d="M15084 5406l10 31 10 35 10-43 10 70 10 17 10 54 10 39 10 18 10-9 10 17 10 17 9-33 10 26 10-32 10-25 10-2 10-16 10-25 10-41 10-18 10 10 10-5 10 4 10 18 10 2 10-127 10-1273 10-1595 10-1203 10-369 10 184 10-33 10-47 10-101 10-116 10 93 10-124 10 76 10-69 10 16 10 1039 10 1142 10 1001 10 787 10 373 10 323 10 181 10 116 10 49 10 45 10-23 10 4 10 12 10 18 10 19 10-42 10-9 10 11 10-5 10-48 10-15 10-7 10-23 10-13 10 7 10-52 10-21 10-5 10 23 10-43 10-10 10-33 10-27 10 6 10-45 10-24 10-18 10-53 10-25 10-55 10-30 10-1 10-45 10-19 10-54 10-36 10-60 10-20 10-9 10-40 10-32 10-7 10-54 10-93 10-12 10-75 10-40 10-78 10-60 10-51 10-29 10-57 10-71 10-129 10-90 10-5 10-79 10-36 10-82 10-121 10-73 10-46 10 8 10-52 10-47 10-138 10-20 10-59 10-6 10 13 10 16 9-54 10 19 10-9 10 6 10 27 10-28 10 33 10-13 10 29 10 43 10-61 10-11 10 39 10 91 10 50 10-1 10 72 10-62 10 103 10 55 10 4 10 36 10 50 10 43 10 39 10 63 10 64 10 43 10 34 10 39 10 24 10 40 10 16 10 33 10 16 10 2 10-17 10 13 10-19 10-43 10-11 10-5 10-16 10-34 10-33 10-100 10-69 10-67 10-3 10-9 10-30 10-19 10-68 10-28 10-69 10 15 10-16 10 76 10-27 10-8 10 14 10 47 10 71 10 120 10 144 10 112 10 159 10 119 10 119 10 139 10 144 10 130 10 115 10 138 10 217 10 226 10 113 10 124 10 128 10 79 10 61 10 62 10 63 10 57 10 52 10 56 10 25 10 32 10 45 10 36 10 32 10 25 10 2 10 35 10 24 10 29 10 24 10 24 10 37 10-6 10 9 10 9 10 10 10 4 10 22 10 2 10-15 10 9 10 20 10 31 9 28 10-6 10-10 10 8 10-2 10 0 10-1 10-3 10 11 10 15 10 8 10 12 10-30 10 8 10 8 10 26 10 13 10-7 10-6 10-1 10-6 10 7 10 13 10 7 10-5 10-4 10-2 10 8 10-9 10 23 10 4 10 15 10 3 10-17 10 24 10 1 10 4 10-1 10-3 10 15 10 5 10 6 10 8 10-4 10 5 10 3 10 8 10 8 10 4 10 3 10 1 10 6 10 2 10-24 10 18 10-7 10-24 10 6 10 11 10 14 10-15 10 16 10 6 10 22 10-7 10-4 10 20 10-8 10-3 10 0 10 17 10 1 10-14 10 2 10 20 10-4 10 19 10-12 10-11 10-12 10 21 10 7 10 5 10 10 10 6 10-8 10 7 10 0 10 5 10 4 10 7 10-1 10-13 10-8 10-8 10 29 10 11 10-13 10-3 10 11 10-7 10 4 10 16 10-10 10-1 10 2 10-1 10 18 10-14 10 2 10-10 9 6 10 3 10 11 10 10 10-9 10 8 10-7 10 1 10 19 10-13 10-10 10 11 10 7 10-7 10 3 10-2 10 10 10-2 10-2 10 0 10-16 10 12 10 12 10 2 10-2 10-12 10-14 10 5 10-7 10 14 10-9 10 4 10 2 10 5 10-1 10-12 10 8 10-4 10 4 10 3 10-3 10 17 10-13 10-6 10 10 10-4 10-5 10 8 10-7 10-9 10-4 10 3 10-12 10 0 10 14 10-1 10-13 10 2 10 7 10-6 10 3 10 8 10 3 10-2 10 12 10-8 10 0 10-6 10-3 10-8 10-1 10 1 10-4 10-4 10 5 10 1 10-4 10-6 10-4 10 15 10-2 10-4 10 9 10-11 10-13 10 10 10 1 10-15 10 8 10 1 10-3 10 1 10-6 10 0 10 13 10-10 10-1 10-10 10 2 10 12 10-9 10 8 10 6 10-1 10 1 10 4 10-3 10 7 10 3 10-20 9 20 10-13 10 2 10 15 10 3 10 12 10-4 10-18 10 26 10-16 10-2 10 11 10 0 10-16 10 10 10-1 10 9 10 0 10-5 10-6 10 16 10-10 10-6 10 11 10-4 10 11 10-6 10 1 10 5 10-6 10-2 10 6 10 7 10-5 10 6 10-16 10 35 10-14 10-8 10 9 10 20 10-10 10 1 10-4 10-7 10 10 10 7 10-4 10 9 10 5 10-2 10-1 10-6 10-4 10 7 10 12"/>
<path stroke="#ea9fd2" d="M15084 5587l10 31 10-6 10 11 10 17 10 58 10 25 10 59 10 4 10 16 10-3 10 24 9-31 10 31 10-35 10-23 10-10 10-40 10-10 10 31 10-46 10-32 10-10 10-2 10 15 10-9 10-175 10-1354 10-1602 10-1204 10-260 10-77 10 158 10-161 10-8 10-125 10-64 10 29 10 31 10-67 10 54 10 1039 10 1143 10 1004 10 800 10 393 10 367 10 219 10 158 10 71 10 40 10 5 10 20 10 11 10 9 10 8 10 7 10-30 10 13 10-9 10-26 10-31 10-23 10 19 10-13 10-8 10 9 10-24 10 8 10-8 10-19 10-51 10 16 10-47 10 37 10-49 10-25 10-35 10-23 10-11 10-25 10-23 10-19 10-18 10-64 10-15 10-53 10-3 10-19 10-18 10-22 10-23 10-40 10-33 10-29 10-1 10-98 10-24 10-39 10-56 10-45 10 16 10-60 10-69 10-46 10-92 10-62 10-16 10-73 10-87 10-36 10-7 10-76 10-35 10-10 10-51 10-54 10-44 10-50 10-19 10 29 10-18 9-29 10 18 10 4 10-5 10 4 10 21 10-29 10-10 10-9 10 18 10 24 10-7 10 20 10 39 10 0 10 23 10 86 10 28 10 35 10-5 10 74 10 37 10 28 10-10 10 92 10 55 10 41 10 45 10 34 10 20 10 29 10 12 10 21 10 27 10-36 10-23 10 19 10-49 10 18 10-24 10 8 10-20 10-48 10-33 10-51 10-28 10-14 10-72 10-2 10-16 10-52 10-23 10-20 10-37 10 5 10-48 10 9 10 8 10-13 10 57 10-12 10 27 10 56 10 80 10 137 10 113 10 78 10 117 10 132 10 134 10 98 10 74 10 103 10 105 10 137 10 182 10 138 10 93 10 45 10 83 10 43 10 46 10 60 10 59 10 13 10 41 10 20 10 41 10 43 10 22 10 21 10 24 10 10 10 26 10 33 10 28 10 24 10-4 10 19 10 2 10 13 10 6 10 8 10 24 10 18 10 8 10 8 10 1 10 8 10 3 9-18 10 17 10-1 10 20 10 11 10-28 10 1 10 12 10 15 10 15 10 3 10-22 10 21 10 13 10 3 10 0 10 1 10 5 10 9 10 2 10-27 10 8 10 28 10-16 10-4 10 5 10 8 10-11 10 30 10 2 10 10 10-16 10 17 10-8 10 20 10-17 10 11 10 12 10 7 10 1 10-1 10-3 10 12 10-18 10 3 10 14 10-7 10-6 10 7 10 21 10-2 10 3 10 13 10-7 10 8 10 2 10-8 10 20 10-14 10 11 10-16 10 11 10 13 10-28 10-12 10 40 10-6 10 27 10-13 10 3 10-2 10 2 10 5 10 10 10-7 10-6 10 8 10-11 10 15 10-6 10-5 10 21 10-6 10 10 10 3 10-25 10 7 10 10 10 16 10-5 10 5 10 0 10 2 10-22 10 6 10 7 10 2 10 15 10-8 10 3 10 11 10-11 10 24 10-7 10 0 10 6 10-2 10-4 10-9 10-6 10 1 9-5 10 29 10 8 10-12 10 8 10-6 10-8 10-12 10 3 10 3 10 3 10 12 10 3 10 8 10-7 10-5 10 9 10-11 10 8 10-17 10 6 10 10 10-9 10-11 10 7 10 5 10 10 10 5 10 6 10-8 10-22 10 9 10 15 10-10 10-1 10-10 10-1 10 20 10-8 10-3 10 7 10-16 10 4 10 6 10 0 10-8 10-8 10 2 10 5 10-2 10 12 10-2 10 2 10 0 10-22 10 2 10 7 10 19 10-16 10-1 10 6 10 2 10-7 10 16 10 0 10-16 10 3 10 1 10 2 10-20 10 9 10-4 10-8 10 7 10 5 10-24 10 2 10-2 10 12 10-25 10 7 10 17 10 13 10-19 10 11 10-16 10 19 10-2 10-19 10 8 10-6 10 4 10-9 10 6 10 3 10-8 10 8 10-2 10-20 10 15 10-4 10 13 10 9 10-1 10-11 10-6 10 3 10 10 10-3 10 4 9-15 10 5 10 6 10 5 10 7 10-1 10-17 10 22 10-6 10-3 10 15 10-11 10-3 10 18 10-13 10 5 10 5 10 6 10-5 10-11 10 11 10-12 10-11 10 3 10 20 10-2 10 9 10 12 10-8 10 17 10-10 10 7 10 7 10-6 10 0 10-15 10-6 10-10 10 13 10 11 10 3 10-8 10 7 10-7 10 11 10 8 10-12 10 0 10 2 10 7 10 6 10-1 10 11 10-1 10 6 10-7"/>
<path stroke="#e09ed5" d="M15084 5676l10-7 10 5 10 27 10 15 10 62 10 25 10 26 10-18 10 60 10 7 10 12 9-26 10-9 10-14 10-11 10 19 10-20 10-25 10-13 10-18 10-71 10 17 10-21 10 11 10 14 10-219 10-1380 10-1603 10-1204 10-533 10 66 10 147 10-125 10-49 10 80 10-89 10 191 10-214 10-13 10 49 10 1039 10 1143 10 1005 10 802 10 396 10 379 10 228 10 172 10 124 10 48 10 0 10 11 10 56 10-4 10-13 10-4 10-19 10-6 10 5 10-12 10-4 10-39 10-7 10 4 10 1 10-14 10-23 10-18 10-9 10-36 10 6 10-32 10-32 10-2 10 11 10-33 10 2 10-24 10-13 10-24 10-41 10-3 10-51 10 2 10 8 10-26 10-1 10-26 10-55 10-29 10 26 10-2 10-9 10-34 10-25 10-38 10-3 10-41 10-24 10-26 10-70 10-26 10-81 10-4 10-59 10-53 10-76 10-79 10-62 10-27 10-33 10-36 10-33 10 4 10 3 10-35 10-25 10-59 10-36 10 6 10 8 9-29 10-22 10 4 10-11 10 35 10 13 10-40 10 26 10-32 10-33 10 39 10 8 10 34 10 33 10 39 10 4 10 34 10 34 10 76 10 18 10 25 10 33 10 45 10 21 10-10 10 42 10 64 10 41 10 2 10 9 10 25 10 16 10 30 10-8 10 0 10 36 10-47 10-14 10 24 10-23 10-21 10-2 10-25 10-55 10-12 10-32 10-27 10-22 10-33 10-45 10-25 10-4 10-51 10-9 10 10 10-34 10-29 10 15 10-12 10 9 10 41 10 18 10 77 10 76 10 123 10 85 10 80 10 72 10 107 10 100 10 49 10 107 10 87 10 97 10 143 10 125 10 68 10 60 10 77 10 49 10 73 10 42 10 30 10 43 10 35 10 37 10 6 10 31 10 27 10 18 10 39 10 11 10 43 10 19 10 5 10 43 10 24 10 4 10-2 10 7 10 8 10 22 10 9 10 6 10-2 10 8 10 13 10 12 10-4 10 4 9 14 10-2 10 7 10-15 10 22 10 8 10 0 10 15 10 6 10 8 10 0 10-1 10-24 10-1 10 29 10 9 10-13 10 11 10-1 10 4 10-10 10-4 10 5 10 13 10 6 10 4 10 6 10 20 10 1 10 10 10-9 10-7 10-2 10 15 10-9 10 18 10-6 10 3 10 3 10-7 10-3 10 16 10 3 10 1 10-3 10 21 10 8 10-30 10 3 10 8 10 7 10 4 10 12 10 0 10-1 10 5 10 4 10 3 10-30 10 7 10 22 10 5 10-3 10 7 10-6 10-15 10 34 10-14 10 4 10 15 10 3 10 18 10-2 10-25 10 14 10 16 10-13 10-14 10-6 10 24 10 6 10-1 10-6 10 11 10-8 10-7 10 10 10-1 10-9 10 13 10-6 10 12 10 2 10 2 10 4 10-4 10 0 10 2 10 1 10-3 10 14 10 6 10-5 10-8 10 10 10-7 10 6 10 1 10-6 10 3 10 5 9-5 10 1 10 9 10 19 10-24 10 7 10-3 10-3 10 16 10-13 10-7 10 10 10-1 10-18 10 20 10 9 10-4 10-1 10 6 10-6 10 3 10-14 10-6 10-8 10-5 10 16 10 9 10-13 10-2 10 0 10 18 10-12 10-1 10 11 10-6 10 6 10-3 10-3 10 7 10-3 10 4 10-7 10 1 10-20 10 15 10 5 10 13 10 4 10-5 10-11 10 15 10 0 10-21 10-12 10 10 10-4 10 14 10-19 10 6 10-7 10 6 10 6 10 14 10-5 10-32 10 5 10 0 10 6 10 1 10-8 10 12 10 4 10-8 10-4 10 3 10-4 10-4 10 4 10-1 10-2 10 2 10 0 10-4 10 15 10-5 10-6 10-5 10-4 10 8 10-9 10-4 10 6 10 11 10 0 10-1 10-12 10 8 10-4 10 9 10-15 10 11 10 3 10-8 10 2 10 21 10-7 10-16 10 25 10-11 10 13 9 0 10 9 10-20 10-10 10-2 10-20 10 21 10 7 10-5 10 18 10-4 10 10 10-14 10-6 10 3 10 12 10 15 10-3 10-15 10 11 10-4 10 2 10-14 10 15 10-12 10 14 10 2 10-9 10 5 10 13 10-1 10-4 10 0 10-6 10 0 10 4 10-3 10 14 10 1 10 14 10-1 10-3 10 9 10-10 10-23 10-5 10 12 10 0 10 14 10-5 10 7 10-4 10 9 10-10 10-4 10-4"/>
<path stroke="#d59dd9" d="M15084 5729l10-15 10 36 10 5 10 16 10 57 10 14 10 66 10 9 10 29 10 5 10-12 9 0 10-50 10-12 10-25 10-7 10 1 10-6 10-29 10 13 10-10 10-7 10-37 10 16 10-7 10-232 10-1420 10-1606 10-1204 10-422 10 222 10 70 10-213 10-122 10 59 10-73 10 199 10-232 10 226 10-204 10 1039 10 1143 10 1006 10 804 10 399 10 388 10 243 10 165 10 122 10 66 10 45 10-3 10 20 10 34 10 3 10-13 10-6 10-5 10 5 10-16 10-31 10-12 10-20 10 14 10-10 10-5 10-20 10-30 10 5 10-12 10 12 10-34 10-14 10-25 10-17 10-26 10-19 10 9 10-22 10-22 10-33 10 13 10-19 10-18 10-11 10 0 10-4 10-43 10-4 10 4 10-19 10 0 10-23 10-26 10-22 10-14 10-37 10-23 10-32 10-28 10-28 10-49 10-46 10-35 10-20 10-67 10-8 10-89 10-45 10-59 10-50 10 32 10-37 10-66 10-54 10 16 10-21 10-54 10 1 10-14 10-7 9-25 10-6 10-4 10 4 10 12 10-33 10 33 10 34 10 13 10-44 10 38 10-18 10 53 10 2 10 17 10 34 10 16 10-12 10 28 10 13 10 38 10 26 10 34 10 56 10 22 10 7 10 42 10 29 10 23 10 8 10 64 10-13 10 44 10 9 10-17 10 17 10-31 10-6 10-17 10 9 10 1 10-30 10-13 10-36 10-72 10-20 10-12 10-23 10-44 10 11 10 24 10-42 10-40 10-30 10-14 10 14 10-16 10-47 10 32 10 7 10 51 10 27 10 44 10 55 10 89 10 95 10 73 10 97 10 53 10 97 10 89 10 88 10 63 10 83 10 114 10 117 10 114 10 45 10 47 10 67 10 38 10 13 10 48 10 16 10 60 10 17 10 34 10 30 10 9 10 15 10 44 10 28 10 2 10 22 10 6 10 19 10 7 10 11 10 34 10 3 10 12 10 9 10 4 10 3 10 35 10-9 10 6 10-9 10-10 10 18 9 12 10 3 10 12 10-10 10 4 10 11 10 17 10-13 10 4 10-6 10 29 10-9 10 8 10 7 10-4 10-11 10 16 10 7 10 16 10-6 10 9 10-4 10-7 10 0 10 3 10-15 10 25 10 16 10-9 10 4 10 19 10-10 10-15 10 27 10-3 10 11 10-16 10-1 10 6 10-2 10 19 10-2 10 6 10 11 10-21 10 14 10 7 10 7 10-10 10 7 10-5 10 6 10 10 10 10 10 5 10 18 10-11 10-15 10-7 10-4 10 16 10 14 10-8 10 2 10-6 10 4 10-1 10 12 10-6 10 12 10-19 10 11 10 6 10 10 10 5 10-7 10-13 10 7 10 7 10 10 10 0 10-17 10 17 10 0 10 3 10-3 10 9 10 14 10-2 10 1 10-1 10 11 10-12 10 11 10-21 10-5 10 1 10 4 10 7 10-11 10 6 10 3 10 7 10 8 10-3 10 14 10 10 10-11 10 4 10-6 10 3 9-19 10 14 10-4 10-8 10 24 10-17 10 3 10-6 10-5 10 15 10 5 10-15 10 4 10 9 10-13 10 10 10-12 10-6 10 6 10-7 10 9 10 9 10 4 10-2 10-2 10 0 10-16 10 14 10 4 10-8 10 8 10-9 10-6 10 15 10 5 10-3 10-5 10 5 10 5 10 10 10-9 10-13 10-2 10 5 10-15 10 12 10-5 10 0 10 5 10-12 10 3 10 3 10 3 10-8 10-2 10 0 10 4 10-11 10 3 10 14 10 3 10-10 10 4 10-6 10-2 10 14 10-14 10-5 10 6 10-5 10 6 10-11 10 16 10-5 10 4 10 0 10-19 10-5 10 9 10 7 10-8 10 11 10 3 10 3 10-10 10-2 10 10 10-1 10-7 10-3 10-8 10 4 10 0 10 5 10 1 10-14 10 2 10 0 10 10 10 15 10 0 10-5 10-14 10 1 10 6 10-1 10-3 10-1 10-5 10 4 9 11 10 11 10 1 10-15 10-12 10 13 10-13 10 6 10 6 10 1 10-1 10 8 10-1 10 1 10 22 10-9 10-19 10-2 10 11 10-1 10-4 10 8 10-5 10 5 10 12 10-4 10 14 10-6 10 5 10-17 10 17 10-7 10-9 10-2 10 16 10 10 10-16 10 5 10 3 10-3 10 3 10 1 10 4 10 1 10 18 10-6 10-10 10 5 10 0 10-10 10 10 10-8 10-4 10-1 10 2 10 14"/>
<path stroke="#cb9cdc" d="M15084 5768l10 3 10 43 10 5 10 17 10 35 10 61 10 35 10 16 10 4 10 22 10-2 9-32 10-23 10-4 10 18 10-11 10-25 10-15 10-34 10-37 10-15 10-28 10 1 10 15 10 19 10-272 10-1436 10-1607 10-1204 10-471 10 44 10-25 10-19 10 132 10-52 10 15 10-27 10 72 10-214 10 55 10 1039 10 1143 10 1006 10 805 10 398 10 387 10 248 10 192 10 154 10 77 10 51 10 3 10-15 10 1 10 28 10-18 10-2 10-4 10-34 10 2 10-4 10-11 10-4 10 10 10 17 10-18 10-16 10 14 10-14 10-33 10-7 10-5 10-21 10-11 10-21 10-31 10-20 10-15 10-22 10-20 10 3 10-23 10-22 10-15 10-32 10-6 10 3 10-24 10-20 10 2 10 13 10-24 10-36 10-5 10-20 10-35 10-4 10-61 10-17 10-45 10-37 10-14 10-30 10-65 10-41 10-15 10-38 10-46 10-31 10-78 10-43 10-50 10-27 10-22 10-38 10-69 10 5 10 8 10 9 10 7 10-10 9-15 10 16 10 11 10-12 10-7 10-24 10-17 10-10 10 43 10-2 10-9 10 38 10 4 10 40 10 13 10-41 10 43 10 71 10 28 10 12 10 16 10 45 10 15 10 15 10 34 10 61 10 38 10 9 10 1 10 29 10-6 10-4 10 51 10 17 10 15 10-15 10-4 10-24 10-12 10 2 10-33 10-10 10-5 10 5 10-35 10-64 10-21 10-48 10 6 10-18 10 0 10-38 10 7 10-29 10-51 10-37 10-18 10 45 10-3 10 23 10 24 10 8 10 69 10 112 10 33 10 59 10 115 10 71 10 70 10 66 10 89 10 84 10 69 10 74 10 102 10 107 10 69 10 66 10 41 10 58 10 83 10 31 10 27 10 34 10 35 10 33 10 30 10 16 10 24 10 22 10 26 10 17 10 16 10 14 10 24 10 30 10 4 10 14 10 8 10 23 10 17 10 14 10 1 10-1 10 20 10 2 10-6 10 6 10 7 10-21 9 3 10 14 10 2 10-1 10 15 10 20 10-21 10 7 10 7 10-18 10 8 10 15 10 0 10 8 10 16 10-30 10 26 10 8 10 0 10-17 10-3 10 14 10 7 10-18 10 1 10 25 10 7 10 10 10 6 10-3 10-13 10 18 10 25 10 6 10 6 10-9 10-8 10 17 10 13 10-19 10-6 10 9 10-1 10 1 10-8 10-5 10 31 10 2 10-16 10-2 10 10 10 2 10 3 10 7 10 4 10 6 10 6 10-6 10 0 10-10 10 9 10 18 10-13 10 7 10-6 10 1 10 11 10 7 10-14 10 13 10-8 10-7 10 12 10 6 10 0 10 1 10-1 10 12 10-2 10 1 10-6 10-1 10 15 10-6 10 10 10 5 10-8 10 23 10-10 10-8 10-4 10-7 10 1 10 6 10 0 10 4 10 4 10-2 10-5 10-12 10 4 10 3 10 9 10 8 10 7 10-2 10-11 10-6 10 6 10 13 10-6 9-2 10 2 10-7 10-6 10-4 10 6 10-11 10 14 10 7 10 3 10 11 10-7 10-6 10 7 10 4 10 17 10-27 10 9 10-4 10-9 10 7 10-5 10-2 10 9 10-8 10-6 10 6 10-3 10 2 10-4 10 6 10 7 10 8 10-2 10-14 10-4 10 11 10-1 10 10 10 0 10 3 10 9 10-1 10-2 10-2 10-15 10 1 10 5 10-10 10 1 10 14 10-14 10 2 10-1 10 1 10 4 10-6 10 0 10 13 10-15 10-4 10 16 10-8 10 6 10-13 10 13 10-18 10 12 10-10 10-8 10-13 10 8 10 5 10-2 10-7 10 5 10-2 10-18 10 4 10 11 10-7 10 4 10 3 10 1 10 16 10-7 10-3 10-11 10-6 10 22 10 1 10 1 10-6 10 2 10-9 10 21 10-13 10-4 10-2 10-7 10 18 10 7 10-4 10-10 10-5 10 11 10-1 10 1 10 12 10-18 9-5 10-2 10 18 10-1 10 3 10-8 10 16 10-11 10 0 10-10 10 11 10-2 10 6 10 14 10-4 10-12 10-8 10 9 10 4 10 1 10-2 10 1 10 4 10-5 10-19 10 10 10-2 10 25 10-8 10 7 10-17 10 0 10-3 10 10 10 1 10 20 10-5 10 8 10-12 10 3 10 19 10 12 10-6 10-16 10-6 10 15 10 0 10-17 10 3 10-1 10-1 10-4 10-1 10-14 10 23 10 7"/>
<path stroke="#c19be0" d="M15084 5835l10 0 10 19 10 35 10 23 10 4 10 69 10 2 10 35 10 8 10-2 10 5 9 11 10 11 10-53 10 2 10-13 10-15 10-59 10-21 10 6 10-5 10-25 10-8 10-13 10 23 10-289 10-1456 10-1607 10-1205 10-489 10 18 10 290 10-200 10-96 10 110 10-117 10-15 10 179 10-35 10-135 10 1039 10 1143 10 1007 10 805 10 401 10 394 10 250 10 200 10 173 10 83 10 24 10 35 10 3 10 8 10-3 10 14 10-15 10-8 10 1 10-8 10-21 10-10 10-17 10-29 10 25 10 7 10 2 10-18 10-14 10 16 10-39 10-10 10 1 10-20 10 12 10-23 10-28 10-29 10-15 10 0 10-9 10-27 10-38 10-1 10 4 10-5 10-26 10 13 10-20 10-23 10-42 10-16 10-30 10-29 10 8 10-34 10-7 10-71 10-26 10-11 10-27 10-45 10-11 10-26 10-31 10-56 10-55 10-34 10-58 10-7 10-65 10-47 10-43 10 22 10-28 10-60 10-13 10 19 10-32 10-12 10 8 9-19 10 10 10-43 10 37 10-28 10-24 10 38 10-15 10 45 10-42 10 3 10-11 10 43 10 6 10 8 10 31 10 25 10 17 10 74 10-15 10 44 10 40 10 8 10 13 10 46 10 39 10 44 10-10 10 6 10 44 10 19 10 25 10 4 10 5 10 11 10-4 10 9 10-22 10-7 10-22 10 2 10-13 10-20 10-27 10-82 10-8 10-10 10 11 10-58 10-3 10-43 10-32 10 5 10-29 10-42 10 32 10 26 10-13 10 7 10-2 10 24 10 25 10 26 10 102 10 62 10 84 10 73 10 80 10 95 10 52 10 75 10 51 10 84 10 97 10 95 10 97 10 80 10 70 10 7 10 54 10 51 10 58 10 53 10 17 10 36 10 26 10-2 10 47 10-5 10 7 10 35 10 25 10 14 10 15 10 27 10 27 10 6 10 12 10 29 10 4 10-5 10 2 10 11 10 5 10 8 10 2 10 0 10 26 10-13 10 14 9 4 10-10 10 12 10 31 10-21 10 14 10-5 10 3 10-3 10 13 10-9 10-1 10 12 10-1 10 4 10-7 10 3 10 2 10 18 10 16 10-7 10 3 10 13 10-11 10 1 10 6 10 1 10-2 10-1 10 16 10 8 10-1 10 20 10-22 10 15 10-1 10-3 10-5 10 5 10 10 10-2 10-25 10 3 10 24 10 1 10 5 10 3 10 3 10-20 10 17 10 6 10-4 10-4 10 12 10-12 10 6 10 14 10 14 10-8 10-8 10 18 10-8 10-1 10 4 10-3 10 10 10 19 10-27 10 3 10 6 10 4 10 6 10-7 10 9 10-1 10-15 10 16 10 8 10-5 10 11 10-1 10 17 10-28 10 7 10 1 10 5 10-8 10-11 10 19 10 5 10-2 10 19 10 2 10-10 10 1 10-11 10 7 10 7 10 0 10-14 10 20 10 1 10-10 10 12 10 22 10-10 10-18 10-9 10-9 10-6 10 20 9 12 10-20 10 5 10-3 10 15 10-5 10-4 10 1 10 1 10-10 10-5 10 6 10 16 10 15 10-2 10-21 10 14 10-12 10-15 10 23 10-3 10-18 10 12 10 9 10 8 10-9 10 10 10-2 10 7 10-12 10 8 10-4 10-22 10-6 10 9 10 18 10-10 10-1 10-5 10 8 10-25 10 18 10-5 10 5 10 3 10-11 10 25 10-14 10 3 10 13 10-32 10 12 10 10 10 8 10-16 10 6 10-2 10-5 10 7 10-23 10 4 10 9 10 11 10 6 10 1 10-22 10 3 10 5 10 2 10-20 10 17 10 4 10 3 10 4 10 4 10-17 10-12 10 0 10-3 10 10 10 4 10-10 10-19 10 3 10 16 10-5 10 25 10-13 10-11 10 10 10 5 10-17 10 16 10 2 10 2 10-8 10 0 10-6 10 0 10-3 10 28 10-4 10-1 10-13 10-12 10 10 10 11 10 9 10 4 10-7 9-12 10 10 10 1 10-3 10 0 10 4 10-3 10 7 10-3 10-13 10-15 10 8 10 2 10-7 10 3 10 2 10 15 10 0 10 15 10-5 10 2 10-16 10 6 10 1 10 3 10-5 10-5 10 9 10-10 10-14 10 20 10 13 10-7 10-4 10 5 10 16 10 3 10-6 10-9 10-10 10 5 10 3 10 6 10-6 10 12 10 7 10-11 10 22 10-15 10-7 10 14 10 6 10-2 10-9 10-10 10 13"/>
<path stroke="#b79ae3" d="M15084 5836l10 17 10-14 10 26 10 52 10 14 10 26 10 38 10 25 10 49 10 35 10 4 9-42 10-18 10-16 10-18 10-32 10 10 10-17 10-10 10-28 10-6 10-9 10-39 10 6 10 6 10-292 10-1474 10-1607 10-1205 10-432 10-65 10 46 10-11 10 5 10 5 10-87 10 72 10-57 10 233 10-199 10 1039 10 1143 10 1007 10 805 10 401 10 396 10 259 10 207 10 169 10 92 10 39 10 6 10 29 10-8 10 2 10 18 10 4 10-2 10 9 10-8 10-7 10-10 10 6 10-9 10-6 10-30 10-3 10 14 10-25 10 3 10-11 10-24 10-19 10 2 10-39 10-4 10 3 10-32 10-25 10 11 10-5 10-9 10-41 10-13 10-26 10 36 10-20 10-26 10-7 10-29 10-3 10-34 10-23 10-30 10-34 10-3 10-28 10-4 10-56 10 9 10-51 10-16 10-53 10-60 10-35 10-48 10 6 10-9 10-62 10-42 10-30 10-28 10-53 10-32 10-54 10 0 10-20 10-40 10-22 10-4 10 9 9 13 10-15 10-29 10-4 10 11 10 0 10-12 10 16 10-13 10 17 10 6 10-7 10 52 10 26 10 12 10 13 10 37 10 15 10 36 10 31 10 19 10-9 10 38 10-8 10 36 10 32 10 4 10 38 10 37 10 34 10 35 10-20 10 14 10 28 10-19 10-13 10-19 10-19 10 4 10-4 10-1 10-15 10-27 10 3 10-29 10-65 10 5 10-34 10 16 10-39 10-7 10-20 10-9 10-6 10-55 10 5 10-15 10-16 10-1 10 8 10 39 10 19 10 78 10 50 10 40 10 99 10 66 10 122 10 67 10 98 10 71 10 60 10 47 10 93 10 59 10 87 10 64 10 66 10 80 10 60 10 45 10 16 10 23 10 59 10 8 10 31 10 31 10 15 10 9 10 4 10 14 10 38 10 36 10 6 10 11 10 3 10 12 10 23 10 18 10 8 10 28 10-9 10 13 10 5 10-14 10 6 10 17 10-6 10 20 10 0 9 16 10 2 10 0 10 2 10-6 10 17 10 8 10-1 10-3 10-15 10 4 10 28 10 4 10-10 10-22 10 20 10-8 10 2 10 4 10 38 10-4 10 2 10-10 10 19 10-11 10 0 10-9 10 11 10 15 10-13 10 9 10 15 10-3 10 6 10-1 10 8 10-15 10 5 10 7 10 3 10 10 10-16 10 20 10-14 10 4 10 4 10-19 10 10 10-5 10 24 10 12 10-12 10-14 10 15 10-6 10 3 10-5 10 0 10 16 10 9 10 16 10-3 10-13 10 21 10-23 10 4 10 14 10-11 10 2 10 18 10 2 10-16 10 6 10-8 10 10 10-5 10 7 10 14 10-4 10-6 10 9 10-10 10 6 10 8 10-6 10 2 10-1 10 18 10-6 10 3 10-1 10 8 10-16 10-5 10 14 10-1 10-1 10-3 10 8 10-4 10-22 10 15 10 2 10 13 10 4 10-2 10 6 10 5 10-22 10 12 10-1 9 7 10-1 10 16 10-16 10 3 10-13 10-2 10 8 10 12 10-10 10 3 10 4 10-2 10-7 10 10 10-10 10-1 10-1 10 0 10 16 10-3 10-8 10 4 10 3 10-20 10 6 10-6 10 3 10-2 10-1 10 14 10 6 10-3 10-2 10 12 10-6 10 1 10-11 10-1 10 16 10-26 10 25 10-25 10 7 10-27 10 16 10 0 10 7 10 11 10 15 10-3 10-4 10-8 10-10 10-2 10 3 10-6 10 2 10-11 10-10 10 14 10 5 10-4 10 3 10 1 10 12 10 1 10-9 10-2 10 10 10 8 10-4 10-5 10-3 10 7 10 15 10-13 10-10 10-23 10 11 10 3 10-10 10-1 10 1 10 21 10-7 10-10 10-2 10 12 10 9 10-20 10-6 10 5 10 1 10 11 10-15 10 2 10-13 10 10 10 2 10 6 10 1 10-9 10-4 10 9 10-1 10-3 10 1 10 8 10 10 9 2 10-2 10-25 10 31 10-6 10-12 10 21 10-12 10 9 10 8 10-9 10-5 10 0 10 0 10 15 10-18 10 0 10 6 10-4 10 11 10 6 10 1 10-5 10 7 10-3 10 2 10-1 10-18 10 9 10 4 10-9 10 4 10-10 10 13 10 0 10 12 10-5 10-7 10 6 10-2 10-3 10 21 10-2 10-13 10 2 10 4 10 0 10 1 10 6 10 0 10-3 10-12 10 9 10 11 10-1 10-9"/>
<path stroke="#ac99e7" d="M15084 5905l10-29 10 27 10 1 10 3 10 82 10 33 10 31 10 26 10 24 10-2 10 4 9-22 10-8 10-9 10-16 10-10 10-20 10-16 10-12 10-36 10-31 10-24 10-5 10 24 10 41 10-344 10-1486 10-1609 10-1205 10-523 10 96 10 16 10-31 10 21 10 80 10-198 10 204 10-158 10-23 10 26 10 1039 10 1144 10 1006 10 806 10 402 10 398 10 259 10 213 10 177 10 88 10 65 10 38 10 29 10 21 10-15 10 0 10-8 10-8 10 1 10-7 10-2 10-13 10-17 10-1 10 15 10-29 10 5 10 1 10-30 10-16 10 17 10-9 10-12 10-12 10-7 10-11 10 9 10-39 10-15 10-50 10-1 10-1 10-30 10-9 10 0 10-42 10-12 10-7 10-18 10-15 10-20 10-24 10-14 10-17 10-20 10-1 10-12 10-50 10-22 10 9 10-56 10-26 10-25 10-47 10-39 10-44 10-51 10-23 10-39 10-39 10-49 10-22 10-17 10-53 10 14 10-41 10-17 10-60 10 16 10-38 10 6 9 17 10 8 10 6 10-24 10 15 10-27 10-15 10 31 10 16 10 14 10-24 10 5 10 66 10-3 10-10 10 49 10 9 10 39 10 22 10 4 10 6 10 11 10 52 10 22 10 25 10 25 10 16 10 14 10 24 10 9 10 26 10 34 10 18 10 27 10-28 10-3 10-21 10-1 10-9 10-14 10-32 10 3 10-18 10-31 10-21 10-19 10-23 10-18 10-35 10-29 10-3 10-30 10 25 10-26 10-50 10 9 10 35 10-33 10-11 10 11 10 10 10 35 10 9 10 64 10 104 10 81 10 74 10 85 10 74 10 72 10 57 10 96 10 56 10 49 10 84 10 100 10 67 10 69 10 51 10 40 10 26 10 54 10 40 10 33 10 18 10 25 10 34 10 20 10-12 10 42 10 13 10 38 10 10 10 0 10 13 10 23 10 18 10 20 10-2 10-5 10 19 10 17 10 3 10-3 10 26 10-14 10 15 10 2 10-9 10-4 9 4 10 22 10-4 10-2 10 2 10 0 10 1 10 29 10-10 10 15 10-11 10 7 10-1 10 3 10-1 10 8 10 16 10 1 10 14 10-3 10-9 10-9 10 6 10 12 10-1 10 7 10 7 10 3 10 0 10 7 10-4 10 11 10-6 10 8 10 6 10-2 10 6 10 11 10-2 10-12 10-1 10 15 10 2 10 1 10-11 10 4 10 14 10-13 10 4 10-13 10 17 10-4 10 13 10 3 10 10 10-15 10 12 10-7 10 12 10-15 10 3 10 8 10 11 10-1 10-28 10 4 10 9 10-11 10 22 10 6 10-3 10 8 10 13 10-3 10 0 10-10 10 14 10 2 10-8 10 3 10 7 10 5 10-17 10 10 10 5 10 1 10 10 10-3 10-2 10 1 10-3 10 4 10-8 10-2 10-9 10 30 10-5 10-9 10 8 10 9 10-11 10-3 10-20 10 10 10-2 10-11 10 20 10 6 10 19 10-25 10 19 9 6 10-14 10 4 10-13 10 3 10 5 10 11 10-15 10 3 10 3 10-6 10 1 10 4 10 1 10-3 10-2 10 14 10-10 10 16 10-32 10 17 10-6 10 8 10 17 10-12 10 6 10-8 10-7 10-9 10 1 10 0 10-4 10 12 10-3 10 1 10-8 10 14 10-2 10 6 10-15 10 7 10-9 10 13 10 7 10-9 10-6 10 10 10-13 10 11 10-3 10 8 10 9 10-4 10-14 10-2 10 11 10-10 10 4 10 0 10-15 10 11 10-7 10 14 10-13 10-7 10 16 10-7 10-5 10 15 10 7 10-6 10-4 10-5 10-5 10-8 10 8 10 1 10 2 10-25 10-5 10 18 10 8 10-2 10-5 10 11 10-8 10 1 10-16 10 1 10 21 10 4 10-8 10 7 10 8 10-10 10 7 10-6 10-4 10-11 10 3 10-20 10 5 10 5 10 4 10 5 10 7 10-1 10-5 10 15 10-6 9-18 10 5 10 2 10 10 10-1 10 12 10 1 10-7 10 3 10 2 10-24 10-5 10 2 10 24 10-3 10 12 10-4 10-7 10 1 10-3 10-2 10 12 10 4 10-4 10-3 10 11 10 13 10-8 10-4 10-10 10-1 10 10 10-8 10-16 10 4 10 2 10 2 10 13 10 0 10-4 10-3 10-8 10 5 10 13 10 8 10 0 10-16 10 12 10-18 10 19 10 12 10-20 10 19 10 1 10 4 10-11"/>
<path stroke="#a398eb" d="M15084 5912l10-27 10 13 10 33 10 39 10 34 10 12 10 36 10 42 10 42 10-23 10 9 9-6 10-25 10-14 10 3 10-23 10-30 10 17 10-23 10-26 10 4 10-19 10-38 10 4 10 31 10-353 10-1494 10-1608 10-1205 10-346 10-109 10 43 10-88 10-4 10 214 10-9 10-10 10-49 10-88 10-44 10 1039 10 1144 10 1006 10 807 10 402 10 399 10 262 10 219 10 187 10 129 10 57 10 27 10 29 10 2 10 3 10-34 10 14 10 1 10-19 10 9 10-17 10 22 10-27 10 11 10-5 10 11 10 17 10-38 10-15 10 8 10-24 10-22 10-4 10-7 10-11 10-23 10-17 10-3 10 6 10-3 10-13 10-45 10-17 10-15 10-22 10-19 10-5 10-8 10 24 10-30 10-14 10-53 10-12 10 9 10-35 10-34 10-9 10-59 10-37 10 5 10-19 10-28 10-27 10-47 10-39 10-36 10-44 10-6 10-41 10-33 10-6 10-78 10-54 10-18 10-18 10-3 10-30 10-32 10 0 10-3 10-45 9-6 10 20 10 5 10 5 10 11 10-12 10 0 10 34 10-28 10 15 10 1 10 13 10-14 10 33 10 8 10 44 10 21 10-7 10 32 10 25 10 55 10 8 10 10 10 12 10 61 10 6 10 8 10 14 10 38 10 18 10 7 10 36 10 1 10 12 10-48 10 39 10-11 10-5 10-7 10-17 10-20 10-31 10 4 10-3 10-32 10-18 10-45 10-45 10-5 10-18 10-4 10-15 10-22 10-47 10 40 10-43 10 32 10-4 10-15 10 23 10 24 10 32 10 39 10 49 10 48 10 87 10 61 10 72 10 61 10 66 10 108 10 57 10 31 10 49 10 111 10 64 10 76 10 85 10 46 10 26 10 31 10 47 10 42 10 48 10 22 10 36 10 9 10 16 10 15 10 4 10 33 10 35 10 19 10-7 10 27 10-1 10 21 10-7 10 19 10 19 10-13 10 0 10 24 10 3 10 8 10-11 10 9 10-4 10 8 10 26 9-3 10 3 10-5 10 9 10-5 10 20 10-6 10 4 10 8 10-14 10 14 10-2 10 7 10-6 10-5 10 7 10 26 10-3 10-12 10-6 10 16 10 27 10-3 10 10 10 5 10-8 10-10 10 15 10 9 10-3 10-13 10-5 10 11 10 2 10 11 10 4 10-7 10 13 10-15 10 4 10 2 10 6 10-6 10-1 10 13 10 6 10-9 10 14 10-8 10 3 10-10 10 16 10-18 10 13 10 17 10 1 10-12 10 6 10 15 10 4 10-21 10 22 10 9 10-17 10-4 10 9 10 0 10-18 10 24 10-5 10 7 10-15 10 27 10 0 10-6 10-5 10 11 10-7 10-3 10 26 10-10 10-5 10-8 10 10 10 13 10 7 10-4 10-8 10 6 10 4 10 4 10-8 10-1 10 17 10-20 10 5 10-5 10 4 10 11 10 0 10-1 10 4 10-20 10 13 10-9 10 13 10-6 10-4 10-7 10 6 10 4 9-12 10 2 10 12 10 0 10 2 10-6 10-12 10 16 10-10 10 4 10 3 10 3 10-7 10 7 10 14 10-10 10 6 10-15 10 13 10-8 10 8 10 7 10-21 10-2 10 9 10 6 10 12 10-11 10 8 10 11 10-13 10 6 10-4 10-9 10-7 10 10 10-6 10-7 10 19 10-2 10-20 10 3 10-8 10 4 10-9 10 18 10 4 10-11 10 7 10 6 10-5 10-9 10 6 10-11 10 17 10 14 10-18 10 22 10-17 10-18 10-2 10-11 10 30 10 2 10-18 10 11 10 2 10-4 10 6 10-12 10-4 10-3 10 3 10 6 10-1 10 7 10-7 10-14 10-14 10 9 10-9 10 15 10-2 10 21 10-19 10 17 10 2 10-17 10-7 10 8 10-7 10 15 10-15 10 9 10 9 10-21 10 5 10-5 10 13 10 0 10 10 10-15 10-6 10 1 10 1 10 26 10-15 10-6 10 6 10-2 9 8 10-8 10-1 10 6 10-4 10-2 10 3 10-5 10 0 10 2 10 9 10 1 10-7 10-6 10 19 10-9 10 3 10 2 10 7 10 1 10 2 10 7 10-4 10 0 10 3 10-17 10 4 10 7 10 4 10-9 10-1 10 6 10-5 10 2 10-5 10-10 10 5 10 9 10-7 10 10 10-2 10 8 10-7 10-9 10 12 10 8 10-2 10 3 10 3 10 7 10-7 10-13 10 13 10-5 10-11 10 22"/>
<path stroke="#9c98ee" d="M15084 5920l10 31 10 1 10 23 10 27 10 41 10 31 10 49 10 11 10 40 10 3 10 2 9-6 10-27 10 15 10-38 10-24 10-26 10-38 10-4 10-46 10-7 10 4 10-6 10-8 10 37 10-371 10-1503 10-1609 10-1204 10-367 10-76 10 149 10-82 10-127 10-6 10-5 10 78 10 47 10 81 10-183 10 1039 10 1144 10 1006 10 807 10 402 10 401 10 263 10 229 10 196 10 103 10 84 10 23 10 39 10-5 10 26 10-10 10 0 10-2 10-6 10-6 10-3 10-14 10-3 10-1 10 3 10 17 10-13 10-39 10 23 10-12 10-12 10-19 10-9 10-28 10-12 10 5 10 5 10-31 10-24 10-24 10-16 10-1 10-11 10 1 10-15 10-41 10-1 10 9 10-20 10-21 10-10 10-8 10-47 10-9 10-21 10-38 10-24 10-1 10-15 10-52 10-18 10-52 10-64 10 13 10-29 10-17 10-63 10-27 10-84 10-20 10-14 10 3 10-39 10-30 10 3 10-20 10-57 10-23 10 19 10-17 10-17 9 2 10-32 10 18 10 34 10-37 10 6 10 32 10-17 10-33 10 9 10-4 10 41 10 2 10 21 10 14 10 28 10 7 10 3 10 5 10 55 10 26 10 37 10 14 10 41 10 1 10-3 10 43 10 10 10 17 10 23 10 15 10 29 10 6 10-2 10 15 10-21 10-5 10 3 10-11 10-18 10-17 10 26 10-42 10-35 10-5 10-54 10-32 10-33 10-18 10-28 10 22 10-4 10 0 10-8 10-14 10-3 10-4 10-12 10 14 10 28 10-21 10 48 10 79 10 31 10 59 10 55 10 72 10 51 10 77 10 92 10 66 10 58 10 54 10 71 10 53 10 92 10 76 10 36 10 39 10 43 10 24 10 54 10 42 10 20 10 34 10 33 10 28 10-1 10 21 10 17 10 4 10 15 10 21 10 40 10 29 10 5 10 4 10 6 10 12 10-1 10-3 10 23 10 2 10-5 10 16 10-3 10 9 10-4 10 8 10 6 9 10 10 13 10-6 10 6 10-20 10 6 10-13 10 22 10-6 10 8 10 15 10-1 10 15 10-5 10-10 10 3 10-3 10-3 10 20 10 1 10 3 10 6 10 24 10-8 10 0 10 1 10 2 10-10 10-7 10 19 10-7 10 13 10 3 10 2 10 7 10-6 10-7 10 0 10 14 10 1 10 4 10-8 10 1 10 5 10 1 10 6 10 4 10-11 10-1 10 17 10 2 10-5 10 10 10-14 10 7 10 8 10-7 10 3 10 14 10-14 10 11 10-14 10 3 10-2 10 3 10 13 10 11 10-6 10-7 10 26 10-21 10 26 10-2 10-23 10 5 10 8 10-1 10-16 10 14 10 3 10 5 10-11 10 6 10 11 10 16 10-24 10 11 10-6 10 10 10 5 10-2 10-1 10 8 10-12 10-3 10 10 10 6 10-4 10 5 10 1 10 2 10 16 10 1 10-19 10 10 10 3 10 5 10-5 10-1 10-18 10-1 9 2 10 1 10 7 10 14 10-7 10-2 10-21 10 8 10 12 10-6 10-3 10-2 10 4 10-4 10-22 10 7 10 19 10-17 10 5 10 11 10 2 10-1 10-6 10 20 10-1 10 2 10-21 10 10 10 7 10-16 10-15 10-2 10 5 10 5 10 17 10-1 10 6 10-4 10 1 10 10 10-9 10 0 10 5 10 5 10-5 10 7 10 6 10-15 10-5 10-5 10-16 10 7 10-6 10 26 10-29 10 12 10-16 10 3 10 13 10 6 10-16 10 24 10-11 10 9 10-11 10-7 10 9 10 7 10-17 10 7 10-5 10 8 10 13 10-16 10 8 10 2 10-19 10-3 10 7 10-4 10 6 10 19 10-1 10-9 10-7 10-6 10-9 10 2 10-10 10 2 10 2 10 11 10 10 10 1 10 8 10-3 10 0 10-14 10 1 10-10 10-3 10 16 10-9 10 10 10-24 10 8 10 18 10 16 10-8 10 3 9-5 10-11 10-2 10 2 10-3 10 3 10 4 10-2 10 14 10 1 10-4 10-4 10 13 10-13 10 5 10 6 10 5 10-14 10 3 10-5 10-4 10 0 10-3 10 12 10-2 10 11 10-25 10 4 10 2 10 1 10 12 10-6 10 4 10-10 10-2 10 15 10 3 10 7 10 3 10-3 10-6 10-5 10 11 10-23 10 33 10 9 10-2 10-14 10-2 10 1 10 0 10-5 10-3 10-1 10-15 10 19"/>
<path stroke="#9498f1" d="M15084 5976l10 28 10 5 10 55 10-11 10 10 10 22 10 28 10 20 10 14 10 24 10 2 9 14 10-37 10 5 10-20 10 3 10-29 10-18 10-37 10-30 10-2 10 20 10-20 10 20 10-30 10-366 10-1515 10-1609 10-1204 10-479 10 170 10-123 10 27 10-30 10-104 10 165 10-53 10-91 10 165 10-138 10 1039 10 1144 10 1006 10 807 10 403 10 401 10 265 10 233 10 204 10 120 10 77 10 24 10 40 10 4 10 5 10-1 10-3 10 12 10 5 10-15 10-16 10 23 10-13 10-30 10-21 10 37 10-21 10-2 10 1 10-19 10 5 10-32 10-16 10 30 10-24 10-33 10-5 10 21 10-9 10-8 10-25 10-35 10-13 10-26 10-14 10-13 10-37 10 9 10 10 10-34 10-18 10 6 10-19 10-16 10-37 10-21 10-10 10-18 10-25 10-62 10 0 10-22 10-46 10-21 10-41 10-32 10-58 10-28 10-18 10 7 10-65 10-28 10-53 10-28 10-12 10-33 10-20 10 21 10-20 10-18 10-2 9 3 10-11 10-11 10-5 10-3 10 6 10-9 10 2 10 27 10-1 10-20 10 32 10-2 10 15 10 13 10 34 10 15 10 30 10-15 10 46 10 21 10 25 10 57 10 45 10-25 10 24 10-3 10 38 10-2 10 26 10 3 10 37 10-8 10 11 10-6 10 20 10-13 10-12 10-35 10 1 10-7 10-1 10-16 10-26 10-27 10-19 10-21 10-20 10-47 10-9 10 10 10-27 10-9 10-38 10 14 10-12 10 15 10-31 10 37 10 13 10 5 10 5 10 29 10 67 10 94 10 41 10 45 10 105 10 34 10 73 10 80 10 70 10 47 10 69 10 70 10 65 10 81 10 37 10 41 10 65 10 42 10 14 10 36 10 33 10 11 10 31 10 26 10 21 10 26 10 23 10 3 10 25 10 16 10 2 10 31 10-8 10 21 10 1 10 21 10-2 10 16 10-6 10 25 10-10 10 5 10-6 10 15 10 4 10 1 10-2 9 18 10 6 10 0 10-9 10-4 10 8 10 11 10 3 10 17 10-5 10-2 10-1 10 2 10 1 10 5 10 6 10-2 10 15 10-6 10 6 10-5 10 3 10 14 10 1 10-6 10 5 10 2 10 3 10-1 10 14 10 5 10-4 10 0 10-12 10 11 10-3 10-3 10 0 10 13 10-3 10 9 10 1 10 5 10-6 10 6 10 4 10-4 10 9 10-4 10-3 10-2 10 14 10-1 10-5 10 2 10 0 10-11 10 5 10-1 10 14 10-13 10 18 10 9 10-12 10-4 10 2 10 12 10 6 10 11 10-10 10 4 10 1 10 2 10 0 10 5 10 8 10-2 10-10 10-14 10 0 10 18 10 0 10 10 10-5 10-3 10 14 10-9 10 11 10-3 10 9 10 1 10 14 10-11 10-3 10-10 10 1 10 4 10-6 10 6 10-5 10 5 10-8 10-1 10 6 10 1 10 5 10 3 10-8 10-4 10 11 10-2 9 6 10-11 10-3 10 6 10-2 10-8 10-4 10 16 10 5 10 0 10 8 10 2 10-8 10 2 10-6 10-1 10-11 10 2 10-2 10 12 10 9 10-19 10 2 10 9 10 16 10-23 10 8 10-5 10-2 10-2 10-4 10 13 10-1 10 13 10-9 10 1 10-4 10 2 10-19 10 0 10 4 10-4 10 35 10-6 10-7 10-7 10-4 10 4 10 0 10-10 10 0 10-15 10 14 10 17 10-2 10 14 10 0 10-4 10-18 10 13 10-16 10 1 10 5 10-2 10-1 10-11 10-2 10 9 10 9 10-4 10-18 10 9 10 3 10-5 10-4 10 6 10 16 10-5 10-3 10-16 10 3 10 11 10-16 10-2 10-5 10-4 10 4 10 0 10 6 10-1 10-3 10 2 10 14 10 3 10-13 10 2 10-3 10 5 10-5 10-5 10 6 10-5 10 13 10 1 10 8 10-3 10-5 10 7 10-16 10-8 9-9 10 28 10 2 10-3 10-5 10 12 10-5 10-15 10 8 10 0 10-3 10-4 10 6 10 18 10-3 10-7 10 6 10 1 10-13 10 0 10 10 10-12 10 8 10-3 10 8 10 5 10-4 10 1 10-1 10 6 10 12 10-28 10 24 10-9 10 9 10 15 10-9 10-5 10-3 10 22 10-12 10 7 10 0 10-7 10-10 10 8 10 7 10-13 10 6 10 11 10-18 10 8 10-3 10 1 10 2 10-4"/>
<path stroke="#8e98f4" d="M15084 5995l10 24 10-16 10 1 10-6 10 81 10 53 10 11 10 2 10 25 10 33 10-12 9-7 10-9 10-46 10-4 10 13 10-16 10-24 10-1 10-10 10-25 10-13 10-19 10 9 10-1 10-395 10-1512 10-1609 10-1205 10-519 10 95 10 85 10-107 10 163 10-147 10 24 10-81 10-46 10 8 10 35 10 1039 10 1144 10 1006 10 807 10 403 10 402 10 265 10 228 10 209 10 123 10 80 10 33 10 26 10 31 10-11 10 10 10-6 10-3 10 9 10-43 10 3 10 4 10-1 10 13 10 5 10-6 10-4 10-31 10 18 10-24 10-12 10 0 10-30 10 2 10-8 10 6 10-25 10 24 10-54 10 1 10-17 10-3 10-28 10-6 10 7 10 5 10-46 10-8 10-5 10-33 10-27 10-25 10-27 10 16 10-26 10-25 10-18 10-36 10-34 10-6 10-38 10-33 10-40 10-27 10 5 10-38 10-24 10-50 10-43 10-11 10-28 10-30 10-41 10-49 10 24 10-34 10-8 10-28 10-20 10-33 10 19 9-18 10-8 10-11 10 25 10 10 10-6 10-3 10-6 10-2 10-26 10 32 10 21 10 23 10 38 10-1 10-22 10 49 10 19 10 8 10 33 10 39 10-2 10 1 10 12 10 8 10 47 10-13 10 51 10 16 10 20 10 39 10-8 10 36 10 30 10-34 10-22 10-35 10 26 10-12 10-12 10 15 10-34 10 0 10-35 10-21 10-50 10-30 10-16 10 14 10-24 10-17 10-48 10-1 10-2 10-50 10 13 10 44 10-35 10 66 10-21 10 17 10 28 10 31 10 48 10 61 10 94 10 65 10 62 10 42 10 50 10 54 10 40 10 63 10 97 10 93 10 69 10 61 10 57 10 13 10 43 10 57 10 32 10 37 10 38 10 29 10-9 10 26 10 26 10 14 10 27 10 0 10 9 10 8 10 50 10-7 10 31 10 10 10 1 10 11 10 7 10 8 10 8 10-3 10-11 10 10 10 23 10-13 10-7 10 20 10-2 9 7 10-11 10 13 10 22 10-3 10 8 10-7 10 8 10-3 10 14 10-14 10 9 10 8 10 7 10-10 10-7 10-5 10 12 10 21 10-4 10 14 10 0 10 18 10-17 10-5 10 14 10-2 10-5 10 4 10 13 10 0 10-15 10 9 10 7 10 9 10 7 10-16 10 4 10 8 10-4 10 14 10 2 10-6 10-13 10 16 10 1 10-3 10 12 10-9 10 12 10-1 10 5 10-24 10 27 10-9 10 3 10-11 10-5 10 30 10 1 10-7 10 2 10 8 10-14 10 0 10 6 10 1 10 1 10 10 10-17 10 2 10-2 10 9 10-1 10 13 10 6 10-3 10 9 10-14 10-7 10 18 10 0 10 1 10-4 10 0 10 14 10 0 10-19 10 3 10 7 10 14 10-25 10 13 10-1 10-3 10 6 10-1 10 23 10-11 10 12 10-16 10 14 10-8 10-19 10 15 10-8 10 8 10 3 10 3 10 1 10-13 9 0 10 10 10-3 10 1 10 5 10 0 10-7 10-5 10-2 10-2 10 4 10-1 10-4 10-11 10 10 10 8 10 10 10 6 10-11 10 13 10-5 10 6 10-16 10-1 10-2 10 1 10-2 10 6 10-10 10 19 10-2 10 3 10-14 10-17 10 14 10 17 10-5 10-6 10-11 10 1 10 1 10 1 10 12 10-3 10-9 10-9 10-9 10 15 10 2 10-1 10-6 10 22 10-2 10-6 10-1 10 8 10-3 10 2 10-11 10 8 10-1 10 5 10 2 10-5 10 7 10-8 10-3 10-10 10 3 10 4 10-4 10 8 10-6 10 12 10-7 10-1 10-4 10-3 10 8 10-9 10-16 10 5 10 10 10 2 10 10 10-6 10 1 10-8 10 14 10-16 10 8 10 4 10 1 10 0 10-5 10 24 10-11 10-12 10-4 10-4 10 10 10-12 10 14 10 1 10-1 10 10 10 4 10-10 10 7 10-6 9-2 10 0 10 12 10-6 10-18 10-1 10-4 10-2 10 15 10 3 10-9 10-2 10-3 10 3 10 24 10-14 10-5 10 16 10 0 10-21 10 0 10 3 10 6 10 11 10 1 10-6 10 1 10 13 10 2 10-9 10-6 10 1 10 9 10-14 10 6 10 8 10 10 10-11 10-2 10 17 10 6 10-3 10-22 10-15 10 8 10 16 10-6 10-12 10 11 10 2 10-8 10 4 10 7 10 11 10-9 10-6"/>
<path stroke="#8c9bf5" d="M15084 6010l10-8 10 30 10 19 10 14 10 8 10 45 10 15 10 27 10-14 10 24 10 29 9-17 10 0 10-8 10-18 10-25 10-10 10-28 10 4 10-28 10-26 10 3 10-2 10-21 10 40 10-409 10-1522 10-1610 10-1204 10-496 10 13 10 75 10-83 10 1 10 194 10-244 10 175 10-81 10-11 10-34 10 1039 10 1144 10 1006 10 807 10 404 10 401 10 266 10 230 10 217 10 132 10 82 10 36 10 30 10 12 10 5 10-31 10-13 10-2 10 1 10 11 10 2 10 17 10-43 10-1 10 7 10 7 10 15 10 19 10-25 10-1 10-32 10-9 10 12 10 0 10-24 10-17 10-25 10-15 10 10 10 1 10-10 10-31 10 1 10-27 10-4 10-23 10 5 10-29 10-10 10-36 10-17 10-31 10 18 10-36 10-25 10-6 10-42 10-12 10-8 10-36 10-43 10-17 10-22 10-33 10-47 10-19 10-29 10-53 10-24 10-16 10-14 10-8 10-86 10-34 10 11 10-15 10-24 10-31 10 1 10-20 10-5 9-19 10 12 10 33 10-17 10-17 10 13 10-13 10-11 10 43 10-23 10-17 10-17 10 0 10 75 10 33 10-3 10 10 10 41 10 14 10 44 10-11 10 39 10 20 10 12 10 15 10 28 10-12 10 19 10 23 10 16 10 18 10 43 10 17 10-31 10 23 10 0 10-18 10 0 10-11 10-32 10 0 10 10 10-27 10-56 10-46 10-22 10-19 10-10 10-4 10 18 10-28 10-13 10-18 10-6 10-11 10-11 10-35 10 35 10 9 10-14 10 56 10 8 10 37 10 46 10 58 10 53 10 65 10 85 10 48 10 60 10 40 10 62 10 63 10 94 10 107 10 32 10 55 10 56 10 84 10 16 10 37 10 52 10 6 10 28 10 15 10 14 10 12 10 9 10 43 10 16 10 22 10 14 10 17 10 13 10 19 10-3 10 24 10 23 10 1 10-6 10 4 10 19 10 11 10-6 10-14 10 11 10 6 10 0 10 14 10 18 9-21 10 13 10-8 10-6 10 9 10 8 10 0 10 9 10-4 10-2 10 12 10-7 10 2 10 19 10-11 10 1 10-4 10 16 10 22 10-7 10 19 10-12 10 5 10 5 10-2 10 8 10 12 10-3 10-9 10-5 10 8 10 11 10-5 10-3 10-5 10-4 10 21 10-6 10-2 10-1 10 12 10 0 10-11 10 7 10-7 10 13 10 3 10 8 10-13 10-10 10 15 10 2 10 7 10-10 10 18 10-6 10-4 10 6 10 9 10 2 10-5 10-1 10 9 10-4 10 11 10 4 10 0 10 1 10 4 10-12 10 1 10-1 10 13 10 0 10 4 10-11 10-1 10-4 10 4 10 2 10 17 10 1 10 7 10-4 10-6 10 13 10-3 10-10 10 7 10-1 10 0 10 0 10-12 10 5 10-3 10 9 10 2 10 1 10-6 10-8 10 4 10 4 10-7 10-2 10 4 10 0 10 25 10-4 10-3 10 1 10-3 9 1 10 8 10-19 10 12 10-5 10-4 10-1 10 6 10-13 10 13 10 0 10 3 10-9 10 18 10-7 10 0 10 5 10-8 10-6 10 14 10-6 10-3 10-7 10 26 10-16 10 27 10-9 10-23 10-10 10 3 10 9 10 0 10-1 10 7 10-5 10-7 10 10 10-3 10 1 10 6 10-12 10 13 10-11 10 8 10 14 10-12 10-11 10 1 10-1 10-1 10 0 10 15 10 4 10 2 10-6 10-14 10 0 10-3 10 6 10-15 10 13 10-5 10 6 10 13 10 5 10-14 10 3 10-6 10-4 10 12 10 7 10 2 10-6 10-18 10 8 10 6 10-2 10 5 10-21 10 15 10-8 10 2 10 9 10-16 10 2 10-13 10 10 10-4 10 6 10-6 10-5 10 18 10 4 10-13 10 0 10-4 10 2 10 6 10 9 10 3 10-11 10 4 10 14 10-7 10-2 10 7 10-10 10-8 10 8 10-6 9 0 10-5 10-4 10 10 10 4 10-4 10-9 10-1 10 4 10 2 10 7 10-3 10-2 10 6 10-7 10 0 10-5 10 3 10 24 10-12 10-10 10 11 10-6 10 0 10 6 10-6 10 10 10 8 10-8 10 11 10-4 10-3 10-4 10 16 10-2 10-4 10 9 10-10 10-7 10 0 10 1 10 2 10 1 10 5 10 1 10 5 10-18 10-8 10 3 10 12 10 12 10 9 10-6 10-10 10 4 10-14"/>
<path stroke="#8a9ef5" d="M15084 5982l10 10 10 45 10-9 10 41 10 42 10 30 10 36 10-1 10 22 10 3 10 18 9-14 10 20 10-24 10-18 10-7 10-35 10-13 10-27 10-12 10-21 10 10 10-41 10-5 10 4 10-389 10-1516 10-1609 10-1204 10-504 10 97 10 51 10-50 10-20 10-109 10 173 10-96 10 51 10-108 10 24 10 1039 10 1144 10 1006 10 807 10 404 10 401 10 268 10 229 10 214 10 124 10 89 10 56 10 11 10 34 10 10 10 9 10 10 10-27 10-23 10-16 10 2 10 5 10 2 10 2 10 10 10-1 10 5 10-17 10-16 10-8 10 4 10-4 10-37 10 1 10 2 10 11 10-55 10 4 10 9 10 6 10-48 10-14 10-5 10-12 10-10 10-13 10-23 10-19 10-26 10-25 10-15 10 1 10-15 10-9 10 5 10-10 10-27 10-59 10-10 10-22 10-23 10-21 10-39 10-55 10-4 10-45 10-28 10-48 10-22 10-38 10-23 10-47 10 16 10-26 10 13 10-60 10-55 10-13 10-4 10 0 10-4 9 10 10-4 10-18 10-12 10 8 10 43 10-20 10-38 10-7 10 39 10 28 10 6 10 14 10 6 10 11 10 44 10-12 10 37 10 11 10 11 10 21 10 23 10 11 10 13 10 20 10 8 10 35 10 13 10 13 10 12 10-2 10 25 10 13 10 19 10 28 10-14 10 6 10-8 10-26 10-57 10 15 10 17 10-14 10-42 10-15 10-37 10-5 10-12 10-15 10-27 10-32 10 0 10-2 10-29 10 28 10-29 10-18 10 3 10 12 10 7 10 25 10 21 10 37 10 28 10 65 10 66 10 47 10 78 10 59 10 87 10 18 10 59 10 68 10 36 10 54 10 89 10 60 10 37 10 66 10 45 10 30 10 30 10 70 10 5 10 34 10 31 10 24 10 12 10 20 10 7 10 9 10 12 10 27 10-1 10 21 10 0 10 24 10 11 10 2 10-10 10 20 10-5 10 10 10 12 10-1 10 1 10-5 10 32 10-29 10 5 9 5 10 3 10 24 10-12 10 8 10 3 10 0 10 10 10-1 10 5 10-4 10-2 10 10 10 8 10 1 10 1 10 19 10 6 10-26 10 16 10-1 10-5 10 0 10 15 10 11 10-18 10 10 10 4 10 12 10-1 10 10 10-9 10 14 10-2 10-9 10-4 10 23 10-10 10-14 10 14 10 6 10-18 10 12 10 25 10-12 10-23 10-4 10 28 10 4 10 5 10-4 10 9 10 2 10 2 10 3 10-6 10 9 10-3 10 5 10-6 10-17 10 19 10 8 10-9 10 8 10 29 10-15 10 4 10-12 10 0 10 7 10 16 10-17 10-9 10 6 10 1 10 1 10-5 10 0 10 2 10 3 10 5 10 7 10-10 10 2 10-9 10 11 10 7 10-4 10 7 10 11 10-9 10 12 10 4 10-8 10 11 10-4 10-11 10 10 10-3 10 1 10 2 10-4 10 4 10-2 10-1 10 7 10 8 10-18 10-20 10 21 9 10 10-15 10 3 10-7 10 7 10-7 10-4 10-9 10 17 10 9 10-13 10 1 10 10 10 5 10-11 10-10 10 6 10-6 10 17 10-11 10 5 10-11 10 15 10 6 10-10 10-11 10 14 10-5 10-10 10-4 10 1 10 13 10 6 10-6 10 2 10-4 10 1 10-2 10-2 10 15 10-6 10 4 10 4 10-9 10-9 10 1 10 5 10 7 10 13 10-3 10-8 10 1 10-12 10-2 10 6 10 3 10-14 10 18 10-13 10 18 10-20 10-1 10-9 10 8 10 4 10-7 10-5 10 11 10-4 10 14 10-3 10 7 10-3 10-12 10 9 10-18 10 22 10-19 10-9 10 14 10-1 10-3 10-6 10 11 10-4 10 0 10 10 10 3 10-5 10 6 10-6 10-6 10-7 10-3 10 1 10-17 10 8 10 9 10 0 10 7 10-2 10-8 10 5 10-6 10 40 10-18 10-1 10-7 10-11 10 11 9-9 10 8 10 5 10 15 10 0 10-18 10-16 10 11 10 2 10-6 10-3 10 12 10-1 10-9 10 21 10 0 10 5 10 0 10-6 10-5 10 0 10 8 10-18 10 12 10 9 10 13 10-12 10-5 10 14 10-4 10-19 10-12 10 3 10 7 10 9 10-2 10 11 10-5 10-5 10 2 10-2 10-4 10 4 10-1 10-1 10 22 10-25 10-2 10 13 10 20 10 1 10-15 10 2 10-4 10-6 10 26"/>
<path stroke="#88a1f6" d="M15084 6020l10-9 10 20 10 11 10 24 10 32 10 40 10 18 10 33 10 27 10 25 10-2 9-48 10 0 10-7 10-12 10-20 10-35 10-41 10-3 10-9 10 4 10-11 10-29 10 17 10 25 10-413 10-1525 10-1610 10-1204 10-391 10-39 10 299 10-251 10 140 10-237 10 28 10 131 10-216 10 225 10-180 10 1039 10 1144 10 1007 10 806 10 404 10 402 10 267 10 233 10 215 10 144 10 100 10 18 10 24 10 16 10-3 10 22 10-1 10 8 10 1 10-3 10-20 10 8 10-27 10 2 10-3 10 7 10 22 10-23 10-29 10 3 10 0 10-22 10 6 10 17 10-45 10-14 10 12 10-6 10-24 10-1 10-18 10-47 10-5 10-13 10 8 10 5 10-10 10-21 10-7 10-37 10-16 10-2 10-18 10-38 10-13 10-29 10-20 10 8 10-56 10-11 10-32 10 7 10-34 10-51 10-43 10-12 10-45 10-17 10-45 10-41 10-24 10-30 10-31 10 14 10-46 10-19 10-29 10-20 10 13 10 18 10-21 9-27 10 7 10 21 10-16 10-25 10 12 10-10 10 7 10 36 10 20 10 12 10-17 10 8 10 18 10 0 10 3 10 30 10-4 10 13 10 37 10 43 10-2 10 44 10 19 10 8 10 1 10 26 10 22 10 1 10 10 10 38 10 16 10 6 10 15 10-9 10 2 10 3 10-19 10 2 10-13 10-3 10-31 10-14 10-31 10-36 10-9 10-15 10-4 10-6 10-69 10 11 10-17 10-2 10 4 10 8 10-26 10-20 10 10 10 43 10-2 10 5 10 33 10-2 10 38 10 78 10 31 10 63 10 58 10 85 10 60 10 76 10 56 10 13 10 74 10 79 10 61 10 75 10 47 10 24 10 34 10 47 10 32 10 31 10 36 10 46 10 15 10 21 10 24 10 23 10-6 10 7 10 18 10 17 10 10 10 17 10 14 10 5 10 16 10 8 10-13 10 16 10 14 10 7 10-12 10 16 10 2 10-18 10 8 10 23 10-7 9-4 10 10 10-12 10-7 10 12 10 15 10 2 10 12 10 1 10-7 10 7 10 11 10 0 10-1 10 13 10-3 10 7 10 1 10 5 10-13 10 20 10-4 10-1 10-16 10 3 10 9 10 4 10 11 10 12 10 14 10-20 10 10 10-16 10 3 10 12 10 2 10 0 10 14 10 0 10-2 10 1 10 1 10 2 10 3 10-1 10 10 10-13 10-4 10-1 10 24 10 5 10-7 10 11 10-2 10-7 10 30 10-28 10-13 10 19 10 4 10 1 10-3 10-1 10 6 10-2 10-1 10 5 10-6 10 17 10-24 10 2 10 0 10 16 10 8 10-5 10-6 10-11 10 8 10 2 10 1 10 12 10 19 10-20 10-6 10 11 10 6 10-4 10 11 10-9 10-4 10-2 10 12 10-7 10 11 10 5 10-7 10 12 10 0 10 0 10-13 10 1 10 7 10-16 10 10 10 0 10 5 10-4 10-12 10-3 10-3 10 5 9 1 10 9 10-1 10 0 10 6 10-1 10-1 10-8 10-6 10 10 10 3 10-14 10-5 10 6 10 0 10 10 10-8 10 5 10 14 10-3 10-21 10 6 10 18 10-12 10 6 10-19 10-4 10 25 10 2 10-8 10-2 10-3 10 5 10 2 10-10 10 10 10-2 10-18 10 5 10 3 10 8 10-14 10 11 10 7 10-8 10 3 10-12 10-5 10 19 10 11 10 1 10-1 10-13 10 4 10 7 10-24 10 22 10 6 10-6 10 14 10 0 10-8 10-19 10 3 10 13 10-5 10-20 10 2 10 5 10-9 10 12 10 2 10 20 10-21 10-6 10 8 10-1 10-1 10-6 10 7 10 4 10-13 10 15 10-3 10 5 10-8 10-16 10 1 10-2 10 16 10 16 10-6 10-14 10 7 10 9 10-9 10 1 10 16 10-16 10 4 10 6 10-14 10-6 10 0 10 0 10 14 10 0 10-8 10 22 10 6 9-22 10-13 10-6 10 16 10-16 10 15 10 3 10 2 10-2 10-10 10-17 10 17 10 2 10 16 10-8 10 7 10-11 10 5 10 3 10-15 10 11 10 14 10-10 10 3 10-1 10-7 10-12 10-7 10 21 10 0 10-18 10 20 10 7 10 8 10-6 10 6 10-1 10 7 10-18 10 1 10-8 10-3 10 10 10-10 10 3 10 11 10 2 10-9 10 18 10-3 10-8 10 5 10 6 10-23 10 27 10-10"/>
<path stroke="#86a4f6" d="M15084 6038l10-19 10 27 10 15 10 9 10 42 10 22 10 15 10 17 10 69 10 4 10 23 9-28 10-43 10-10 10 10 10-37 10-6 10-34 10-20 10-6 10 7 10-27 10-10 10-7 10-16 10-385 10-1518 10-1610 10-1204 10-502 10 136 10-44 10-44 10-31 10 5 10 54 10-71 10-31 10 54 10-17 10 1039 10 1144 10 1007 10 806 10 404 10 402 10 266 10 232 10 217 10 138 10 118 10 56 10-1 10 27 10 12 10-1 10-3 10 2 10 3 10 1 10-5 10-19 10-4 10 1 10-4 10-7 10-13 10-3 10-6 10-9 10 9 10-5 10-9 10-9 10-29 10-1 10-5 10-5 10-7 10-27 10 12 10-13 10-49 10 14 10-32 10 4 10 1 10-57 10 20 10-2 10-58 10-2 10-36 10 8 10-67 10 8 10-22 10-14 10-27 10-27 10-4 10-6 10-40 10-48 10-43 10-28 10-35 10-10 10-23 10-42 10 3 10-47 10 5 10-42 10-18 10 45 10-36 10-21 10-51 10-6 10-39 9-8 10 13 10 10 10 5 10 0 10 8 10-3 10-19 10-19 10-12 10 36 10 0 10 29 10 39 10 52 10 9 10-21 10-11 10-14 10 20 10 65 10 34 10-11 10 34 10 53 10 20 10-15 10 29 10 16 10 0 10 36 10 20 10-27 10-29 10 32 10 4 10 8 10-11 10-7 10 9 10-41 10-1 10-28 10-7 10-54 10-4 10-23 10-9 10-41 10-21 10 11 10 30 10 3 10-23 10-12 10-49 10-42 10 11 10 15 10 21 10 29 10 12 10 34 10 62 10 48 10 58 10 60 10 60 10 58 10 60 10 59 10 32 10 44 10 87 10 68 10 87 10 54 10 21 10 58 10 45 10 38 10 30 10 19 10 28 10 9 10 27 10 24 10 10 10 21 10 31 10 16 10-2 10 15 10 15 10 15 10 12 10 3 10 16 10 30 10 9 10 4 10-17 10-3 10 9 10 12 10-2 10 2 10-15 10 5 10 18 9-1 10 14 10 17 10-5 10 4 10 3 10 1 10-4 10 6 10 1 10 6 10-3 10 21 10-8 10-5 10-3 10 10 10-12 10 16 10 3 10 14 10 7 10 11 10 1 10 5 10-1 10-17 10-2 10 7 10-12 10 11 10 5 10-3 10 10 10 19 10-22 10 8 10 3 10-6 10-23 10 22 10 2 10 9 10 6 10 3 10-8 10-5 10 3 10-8 10 9 10 23 10-11 10-10 10 12 10 16 10-18 10-20 10 26 10-4 10-1 10 16 10-3 10 12 10-12 10 1 10-1 10-7 10 16 10-2 10 0 10-11 10 25 10 2 10 6 10 0 10-12 10-4 10 10 10-5 10 10 10-2 10 12 10-5 10-11 10-5 10 6 10-3 10 9 10 1 10-8 10 2 10 17 10-5 10-8 10-5 10-2 10 12 10 4 10 1 10 11 10 5 10-16 10 3 10 6 10-14 10 4 10 3 10 7 10-14 10 8 10-8 9 2 10 2 10 4 10 11 10-15 10 0 10 5 10 8 10 3 10-7 10-9 10 8 10-3 10 7 10-26 10 10 10 11 10 10 10-21 10-2 10-5 10 4 10 10 10-3 10 3 10 4 10-5 10-4 10-11 10 1 10 2 10-10 10 15 10 15 10-3 10 7 10-4 10 5 10-21 10 0 10 1 10 10 10-9 10 3 10-8 10 6 10-9 10 15 10 8 10-1 10-15 10-8 10 5 10 10 10 7 10-2 10-25 10 6 10 7 10 5 10-12 10 7 10 0 10 4 10-20 10 12 10 9 10-13 10 11 10 1 10-15 10 9 10-1 10-9 10 4 10-3 10 16 10-7 10 12 10-6 10-10 10 9 10-1 10-11 10 10 10 13 10 1 10-13 10-4 10 7 10-19 10-6 10 11 10 9 10 9 10 2 10-11 10 10 10 2 10-4 10-12 10 12 10 4 10-6 10-1 10-9 10-9 10 2 10 7 10 19 9-14 10 11 10 3 10-6 10-2 10-15 10 13 10 0 10-2 10-5 10 16 10-10 10-3 10-2 10-1 10 14 10-4 10-10 10 15 10-10 10 3 10 1 10 5 10-1 10-10 10 6 10 0 10 11 10-4 10 5 10-7 10 1 10-11 10 14 10-12 10 6 10 1 10 14 10-4 10-6 10 13 10-10 10-4 10 2 10-14 10 4 10 10 10-2 10 4 10-5 10 7 10 6 10 7 10-19 10 2 10-9"/>
<path stroke="#84a7f7" d="M15084 6049l10 7 10 23 10 21 10 5 10 7 10 56 10 20 10 36 10 36 10-3 10 32 9-9 10-47 10-35 10-4 10-3 10-33 10-25 10-16 10-12 10-8 10-29 10-11 10 17 10-9 10-408 10-1525 10-1610 10-1204 10-508 10 63 10 286 10-237 10 0 10 52 10-144 10 102 10-33 10-73 10 1 10 1039 10 1144 10 1007 10 807 10 403 10 403 10 268 10 234 10 220 10 137 10 106 10 65 10 26 10 21 10-18 10 5 10-24 10 10 10 26 10-22 10 4 10-5 10-5 10 13 10-17 10 1 10-20 10 16 10 4 10-23 10 3 10-10 10-20 10 3 10 3 10-16 10-12 10-11 10-6 10-4 10-16 10-16 10-14 10-40 10 4 10-6 10-17 10-3 10 1 10-10 10-14 10-32 10-29 10-26 10-26 10-16 10-29 10-20 10-20 10-16 10-36 10-44 10 25 10-33 10-36 10-17 10-30 10-23 10-32 10-26 10-51 10-12 10-7 10-42 10-5 10-30 10-45 10 20 10-30 10-21 10 28 9-38 10-32 10 16 10 12 10-10 10 5 10-2 10 4 10 11 10 25 10-25 10 28 10 4 10 3 10 41 10 5 10 11 10 20 10 1 10 31 10 35 10 9 10 0 10 41 10 37 10-3 10 12 10 41 10 30 10 15 10 2 10-6 10-11 10-10 10 3 10 18 10-20 10-2 10 22 10-35 10 11 10-3 10-11 10-19 10-39 10-37 10-5 10-19 10-40 10 14 10-25 10 8 10-36 10-6 10-7 10 19 10-33 10 0 10-31 10 45 10 35 10 16 10 29 10 42 10 70 10 68 10 41 10 46 10 48 10 53 10 19 10 70 10 71 10 61 10 65 10 74 10 81 10 42 10 36 10 35 10 40 10 45 10 16 10 6 10 32 10 11 10 36 10 20 10 20 10 19 10 2 10 18 10 11 10 27 10 4 10 13 10 6 10-8 10 14 10 7 10 5 10 17 10 6 10-10 10 0 10 5 10 9 10 6 10 10 10-20 9 12 10-9 10 10 10 21 10-12 10 28 10 2 10 3 10 8 10-12 10-3 10-14 10 12 10 6 10 5 10 12 10 4 10 14 10-18 10 15 10-3 10 7 10-7 10-7 10 15 10-13 10 5 10 11 10 4 10-3 10-12 10 18 10 20 10 1 10-8 10 4 10 8 10 6 10-17 10 1 10-1 10 7 10 0 10 32 10-21 10-6 10-20 10 13 10-16 10 10 10 17 10 10 10 5 10-16 10-2 10 7 10-6 10 8 10 5 10 3 10 13 10-5 10-2 10-5 10 7 10 4 10-14 10 9 10 4 10 4 10-7 10-3 10 6 10 11 10-2 10-18 10 14 10 5 10-9 10-2 10 10 10 7 10-12 10 4 10 7 10-1 10 10 10 5 10-18 10 5 10 11 10-13 10 2 10-5 10 8 10-4 10-1 10 13 10-6 10-8 10 11 10 4 10 8 10-6 10-2 10-1 10 4 10-24 10 5 10 15 10-8 9 15 10-12 10-11 10 26 10-12 10 7 10-1 10-10 10 12 10-23 10 14 10-11 10-4 10 5 10 6 10 0 10-1 10-2 10 23 10-10 10-5 10-18 10 11 10 0 10 19 10 3 10-2 10-8 10 10 10-14 10 1 10 17 10-21 10-2 10-8 10 16 10 1 10-14 10 10 10 19 10-13 10 0 10 7 10-4 10-16 10 6 10-13 10 6 10-2 10 8 10 5 10 12 10-12 10-6 10 2 10-7 10 0 10 0 10 5 10 3 10 8 10 4 10-2 10-16 10-10 10 1 10 27 10-2 10 2 10-1 10-15 10-1 10 7 10-2 10 8 10-12 10-1 10-10 10 8 10 3 10-5 10 4 10 8 10-5 10 18 10-9 10 9 10-10 10-16 10 3 10-3 10 5 10-10 10-10 10 10 10 0 10 6 10-3 10 9 10-19 10-11 10 7 10 6 10 12 10 11 10-7 10 12 10-5 10 1 10-1 9 7 10-12 10 5 10 6 10-9 10 4 10-3 10-8 10-6 10-5 10-8 10 5 10 11 10 3 10-6 10 5 10-9 10 17 10 10 10-6 10 3 10-6 10-17 10 1 10 7 10-1 10 13 10-13 10 2 10 3 10 0 10-1 10 3 10 11 10-7 10 10 10 6 10-13 10-6 10-3 10 3 10 3 10 18 10-22 10 12 10-5 10 3 10 4 10 13 10-14 10 1 10-6 10 6 10 15 10-8 10-10"/>
<path stroke="#82a9f7" d="M15084 6051l10 10 10 20 10 20 10 27 10 33 10 41 10 27 10 18 10 28 10-2 10 10 9-20 10-21 10-10 10-37 10-8 10-16 10-10 10-30 10-2 10-36 10-26 10 24 10 12 10-27 10-419 10-1525 10-1610 10-1204 10-339 10-89 10-46 10 190 10-42 10-199 10 10 10 31 10 148 10-198 10 43 10 1039 10 1144 10 1007 10 807 10 403 10 403 10 267 10 236 10 214 10 154 10 104 10 48 10 41 10 0 10-11 10 15 10-18 10 16 10 26 10-15 10 19 10-12 10 5 10 8 10-12 10-5 10-9 10-1 10-15 10-11 10-17 10 0 10-26 10 2 10-31 10 7 10 3 10-1 10-10 10-29 10 9 10 0 10-23 10-1 10-29 10 4 10-1 10-38 10 8 10-9 10-33 10-21 10-26 10-9 10-43 10 2 10 4 10-31 10-16 10-32 10-16 10-23 10-13 10-34 10-77 10 28 10-39 10-69 10 0 10-12 10-45 10-44 10-20 10 5 10-56 10-9 10-25 10 1 10-48 10 14 10 22 9-23 10 6 10 11 10 5 10-24 10-1 10 28 10 5 10-22 10 5 10-16 10 14 10 32 10-14 10 4 10 24 10 36 10 8 10 24 10-9 10 89 10 8 10-1 10 15 10 31 10-8 10 19 10 26 10-20 10 11 10 34 10 14 10 32 10 24 10-9 10-19 10-38 10 24 10 9 10-29 10-22 10-9 10 11 10-42 10-35 10 0 10-28 10-33 10-25 10-20 10-29 10 32 10-18 10-15 10-13 10-5 10 14 10-1 10-9 10 16 10 43 10 11 10 11 10 56 10 66 10 61 10 20 10 73 10 59 10 49 10 57 10 59 10 43 10 51 10 77 10 56 10 80 10 36 10 12 10 8 10 58 10 48 10 13 10 20 10 19 10 26 10 36 10 15 10 19 10 27 10 15 10 18 10 2 10 6 10 23 10 15 10 16 10 4 10 5 10-2 10-6 10 18 10-5 10 9 10 10 10-13 10 2 10 14 10 14 10-8 9 8 10-6 10 3 10 17 10-3 10-2 10 14 10-3 10-17 10 4 10 18 10 0 10-7 10 11 10 9 10 1 10 18 10 4 10-24 10 12 10 5 10 0 10 9 10 4 10-12 10 13 10-9 10 17 10-8 10 5 10 3 10 4 10 1 10-1 10 8 10 5 10-3 10 2 10-7 10-11 10 7 10 17 10 7 10-4 10-9 10 1 10 7 10 2 10-9 10 33 10-15 10 10 10 12 10-7 10-3 10 2 10-11 10 18 10-6 10 12 10 7 10-17 10-19 10 15 10-3 10 5 10-1 10 6 10-5 10-6 10 7 10 12 10 13 10-8 10 3 10-12 10 2 10-12 10 18 10-9 10 3 10 13 10 12 10-1 10 20 10-19 10 4 10-19 10-1 10-1 10 1 10 4 10-7 10-3 10 13 10 9 10 5 10 1 10-8 10 6 10-11 10-2 10 8 10 6 10 1 10-10 10 1 10-8 10-5 10 2 10 8 9 6 10-3 10-4 10 14 10-12 10-3 10-2 10-7 10 14 10 0 10-1 10 7 10-3 10-17 10 3 10 17 10 3 10 6 10-16 10-4 10-15 10 8 10 13 10 5 10 9 10-19 10-10 10-3 10-6 10 13 10 6 10-1 10 3 10-7 10 2 10-6 10 12 10-6 10 15 10-4 10 10 10-13 10-7 10 0 10 7 10 12 10-12 10-4 10 0 10 17 10 1 10-10 10-9 10-3 10-5 10-4 10 15 10 0 10 1 10 15 10 1 10-11 10-9 10 3 10 14 10 1 10 0 10-20 10-13 10 2 10 22 10-1 10-10 10-1 10 9 10 0 10 17 10-18 10-9 10 14 10 14 10-31 10 13 10-8 10 5 10-12 10 3 10 5 10 3 10 1 10-6 10 14 10-11 10 6 10 0 10-6 10 8 10 6 10 0 10-7 10-4 10 12 10-4 10 5 10 7 10-26 10-2 10-12 10-2 10 23 9 3 10-10 10-4 10 4 10 10 10-16 10 1 10-4 10 11 10 4 10-5 10-9 10-5 10 12 10-3 10 7 10-6 10 7 10 3 10 8 10-8 10-10 10 4 10 6 10-5 10-1 10 2 10 19 10-8 10-5 10 6 10-9 10 15 10-3 10-8 10 1 10-8 10-3 10 7 10-14 10 19 10-1 10 9 10-1 10-9 10 5 10 7 10-10 10 10 10-9 10 7 10-12 10 7 10 14 10-7 10 2"/>
<path stroke="#80acf8" d="M15084 6098l10-17 10 27 10 0 10 19 10 16 10 39 10 29 10 39 10 32 10 2 10-11 9-16 10 13 10-14 10-24 10-25 10-19 10-44 10 1 10-39 10-34 10 21 10-8 10-12 10 55 10-463 10-1532 10-1611 10-1204 10-340 10 39 10 16 10-107 10-82 10 136 10-102 10-101 10 179 10-85 10-44 10 1039 10 1144 10 1007 10 807 10 404 10 402 10 268 10 235 10 223 10 142 10 113 10 65 10 11 10 7 10 3 10 13 10-3 10 37 10-33 10 10 10-4 10-3 10 3 10-8 10-1 10-4 10-4 10-15 10 0 10 23 10-34 10-13 10-9 10-10 10 12 10 6 10-12 10-4 10-45 10 4 10-23 10 1 10-13 10 1 10-18 10-20 10-3 10-4 10-23 10 9 10-27 10-17 10-13 10-21 10-51 10-11 10-9 10 2 10-36 10-24 10-19 10 4 10-33 10-21 10-71 10-1 10-25 10-43 10-28 10-27 10-23 10-32 10 4 10-28 10-27 10-20 10-7 10-18 10-37 10 5 10-28 9 41 10-37 10 38 10-22 10 26 10-24 10-21 10-6 10-3 10 44 10 5 10 11 10 3 10 34 10 0 10 17 10-5 10-17 10 29 10 3 10 69 10-4 10 39 10 22 10 13 10 16 10 13 10 23 10 8 10-7 10 40 10 2 10 9 10 4 10-19 10-7 10 15 10 9 10-29 10-22 10 12 10-30 10 18 10-28 10-26 10-3 10-41 10-48 10 20 10-25 10-30 10 18 10-25 10-8 10 8 10 1 10 26 10-23 10 10 10 26 10-4 10 2 10 9 10 58 10 56 10 30 10 69 10 43 10 64 10 56 10 58 10 35 10 60 10 49 10 72 10 76 10 52 10 37 10 40 10 34 10 11 10 47 10 41 10 10 10 39 10 15 10 23 10-2 10 23 10 23 10 8 10 26 10 8 10 6 10-11 10 33 10 5 10 11 10-3 10 12 10 15 10 0 10 6 10 22 10 8 10-9 10-10 10-10 10 17 10-3 9 3 10 13 10-13 10 19 10-1 10 3 10-4 10 7 10-6 10 3 10 6 10 17 10 3 10-1 10-2 10 8 10-8 10-9 10 8 10 8 10 21 10-7 10 4 10 5 10-3 10 8 10 10 10-22 10 9 10-4 10 14 10-1 10 11 10 8 10 6 10-24 10-7 10 3 10 21 10-1 10-2 10-1 10 13 10-8 10-12 10 1 10 5 10 7 10 11 10 1 10-14 10 12 10 0 10-5 10 3 10-6 10 19 10-2 10 6 10 3 10-1 10-1 10-5 10 9 10-4 10 0 10-6 10 6 10-3 10 3 10 22 10-15 10 5 10 8 10 0 10-2 10 4 10-2 10 24 10-4 10-11 10-17 10-8 10 13 10 3 10 13 10-4 10-5 10 17 10-12 10-3 10 15 10-9 10 15 10 10 10-18 10-10 10 12 10-5 10-5 10-2 10 0 10-10 10 3 10 7 10 2 10-20 10 4 10 10 10 11 10-1 9-7 10 6 10 7 10-12 10-6 10 8 10 10 10 6 10-2 10-12 10 4 10 4 10-10 10-4 10-3 10-7 10 8 10 12 10-12 10 6 10 4 10 12 10-2 10 5 10-3 10-19 10 10 10 0 10-16 10-5 10-5 10 26 10-15 10 19 10-6 10 0 10-4 10 9 10 2 10-7 10 10 10 13 10-14 10-6 10-2 10 0 10-6 10 24 10-23 10-5 10 19 10-17 10 2 10-12 10 3 10 10 10 13 10-9 10-3 10 3 10-10 10 5 10-6 10 6 10 17 10-7 10 15 10-22 10 12 10-12 10-7 10 2 10 12 10-9 10-15 10 2 10 21 10-3 10-2 10-12 10 4 10 4 10-3 10-1 10-2 10 7 10 6 10-6 10 12 10 10 10-16 10 7 10 9 10-21 10 1 10 5 10 10 10 0 10-12 10 7 10-10 10-25 10 20 10-2 10 5 10 5 10-5 10-11 10 1 10 1 9-4 10 6 10 6 10-20 10 4 10 8 10-11 10 7 10 1 10-4 10 22 10-7 10 2 10-2 10-8 10 9 10 17 10-15 10 6 10-4 10 6 10 0 10 15 10-10 10-11 10-7 10 6 10 5 10-12 10 12 10-8 10 16 10-10 10-9 10-6 10 6 10 10 10 0 10-4 10 0 10-4 10 5 10-6 10 19 10-18 10 7 10-11 10 0 10 9 10 20 10 3 10-6 10 4 10 1 10-6 10-2"/>
<path stroke="#7eaff8" d="M15084 6050l10-9 10-6 10 45 10 31 10 54 10 41 10 36 10 10 10 15 10-1 10-9 9-2 10-15 10 0 10-4 10 2 10-36 10-12 10-25 10-15 10-20 10-19 10-23 10 14 10 4 10-444 10-1529 10-1611 10-1204 10-312 10-108 10 202 10-18 10-258 10 70 10-115 10 228 10 8 10-123 10-65 10 1039 10 1022 10 921 10 722 10 510 10 404 10 344 10 239 10 233 10 177 10 139 10 90 10 46 10 20 10 8 10-8 10 3 10 6 10 5 10 3 10 13 10-29 10-5 10 3 10-21 10 12 10-6 10-11 10 14 10-9 10-15 10-23 10 4 10 7 10 10 10-31 10-9 10-5 10-23 10 25 10-20 10 2 10-4 10-49 10 11 10-20 10-20 10-7 10-33 10 23 10-2 10-53 10-7 10-8 10-33 10 6 10-62 10-12 10-51 10-8 10 13 10-21 10-38 10-29 10-48 10-9 10-2 10-8 10-48 10-31 10-52 10-25 10 2 10-10 10-21 10-17 10-35 10-28 10 32 10-18 10-5 9-20 10-16 10 5 10 5 10 3 10 1 10-17 10-9 10 14 10 4 10 1 10 30 10 8 10 16 10-13 10 42 10 25 10-5 10-9 10 42 10 30 10 39 10-4 10 15 10 15 10 28 10-3 10 12 10-15 10 34 10 32 10-7 10-23 10 37 10-7 10 21 10 0 10 5 10-35 10-8 10-17 10-31 10 33 10-5 10-35 10-30 10-28 10-48 10-7 10-3 10 1 10 9 10 1 10-33 10 8 10-17 10-24 10 5 10 27 10-12 10 26 10 45 10 25 10 24 10 74 10 36 10 38 10 57 10 36 10 52 10 66 10 49 10 36 10 71 10 46 10 68 10 46 10 49 10 42 10 19 10 52 10 45 10 30 10 3 10 40 10 9 10 9 10 26 10 18 10 13 10 27 10 4 10 19 10 5 10-3 10 16 10 5 10-2 10 18 10 0 10 10 10 8 10 9 10-10 10 20 10-11 10 14 10-8 10 1 10 9 9 11 10-11 10 8 10 13 10 4 10 15 10-8 10 3 10 3 10-14 10 9 10 1 10-1 10-2 10-6 10-2 10 10 10 15 10 18 10 4 10 9 10 9 10 2 10 0 10-22 10 5 10 9 10 1 10 17 10 0 10-10 10-1 10 13 10-14 10-7 10 2 10 7 10 4 10 5 10-5 10 24 10 2 10 1 10-7 10 9 10-1 10-2 10-10 10-3 10 1 10 13 10-4 10-1 10 9 10 3 10-24 10 12 10-2 10 3 10 16 10 2 10 0 10 1 10-3 10-28 10 28 10 12 10-19 10 12 10-3 10 25 10-16 10-4 10-7 10 6 10-3 10-15 10 25 10 2 10 5 10-8 10 2 10 2 10 9 10-5 10 1 10-6 10 23 10-10 10-4 10-2 10-7 10 3 10 8 10-2 10 12 10-8 10-21 10 13 10 2 10-13 10 11 10-10 10 7 10 14 10-7 10 12 10-2 10-1 10-16 10 10 9 12 10 5 10-20 10 1 10 2 10-7 10 4 10 8 10 3 10-5 10 8 10-11 10-4 10 19 10-14 10-4 10 9 10 7 10 2 10-6 10-9 10 5 10 1 10 3 10 0 10-2 10 5 10-2 10-4 10 18 10 2 10-7 10-17 10-18 10 10 10-2 10 1 10-1 10-2 10 10 10-3 10 0 10 4 10-2 10 14 10-2 10-17 10-9 10 13 10-1 10-6 10 4 10 18 10-15 10 5 10-1 10 10 10 1 10-12 10 13 10 4 10-5 10-6 10-10 10-5 10 0 10 12 10 5 10 0 10-5 10-7 10 7 10-6 10 9 10-12 10-7 10 15 10 10 10-12 10-7 10 0 10-6 10 4 10-3 10 9 10-6 10 6 10-1 10-12 10 15 10-5 10 6 10-8 10-3 10 9 10-11 10 8 10-4 10 9 10-6 10 6 10 3 10-2 10-10 10 10 10-15 10 10 10-7 10 13 10 0 9-10 10-4 10 6 10 8 10 9 10 2 10 3 10-31 10-14 10 13 10 24 10-11 10-4 10 7 10-8 10 7 10-8 10 15 10-4 10-3 10 4 10-6 10 0 10 8 10-5 10-1 10-7 10-5 10 11 10 4 10 4 10 1 10 3 10-2 10-3 10 10 10 3 10 0 10-6 10 13 10-26 10 14 10-7 10-3 10-12 10 8 10 11 10-3 10 9 10-16 10 8 10-4 10 11 10 8 10-13 10 1"/>
<path stroke="#7cb2f9" d="M15084 6103l10 33 10-27 10-4 10 15 10 30 10 55 10 22 10 32 10 30 10 34 10-10 9-60 10 9 10 3 10-29 10-9 10-40 10 11 10 2 10-51 10-30 10 7 10-17 10-13 10 16 10-449 10-1531 10-1610 10-1204 10-535 10 233 10-158 10 231 10-239 10 17 10 135 10-220 10 25 10 205 10-185 10 1039 10 925 10 870 10 619 10 575 10 403 10 403 10 257 10 237 10 220 10 150 10 129 10 72 10 35 10 3 10-27 10-5 10 2 10 15 10-8 10 18 10 2 10 6 10-11 10-5 10 2 10 5 10-46 10-7 10 0 10 8 10 2 10 0 10-26 10-1 10-4 10-10 10-23 10 11 10-9 10-1 10-28 10-12 10-3 10-1 10-31 10-31 10 4 10-8 10-7 10-26 10-11 10-16 10-32 10-14 10-4 10-21 10-14 10-30 10-9 10-15 10-9 10-66 10 11 10-21 10-27 10-40 10-39 10-13 10-18 10-37 10 13 10-48 10-43 10-38 10-17 10-13 10 23 10-5 10-12 10 1 9-29 10-12 10 23 10-4 10-14 10-39 10 35 10 14 10-16 10 17 10 0 10-13 10 24 10 41 10-7 10 26 10 9 10 3 10 43 10 2 10 12 10 23 10-5 10 19 10 16 10 21 10 20 10 50 10 0 10 28 10-30 10 23 10-2 10 30 10 10 10-20 10 11 10-25 10-37 10 28 10-10 10-23 10 4 10-30 10-50 10 7 10-17 10-1 10-41 10 2 10 3 10-15 10-8 10-46 10 48 10-51 10 11 10 5 10-6 10 1 10 30 10 33 10 30 10 47 10 45 10 55 10 43 10 41 10 62 10 49 10 45 10 50 10 60 10 61 10 37 10 56 10 46 10 23 10 66 10 17 10 24 10 28 10 46 10 40 10 4 10 14 10 13 10 20 10 16 10 13 10-1 10 34 10 4 10 27 10 5 10 9 10-5 10 10 10 7 10 23 10-25 10 25 10 7 10 3 10 4 10 8 10 11 10 9 10 17 10-19 9 2 10-3 10 0 10 4 10 5 10-7 10-12 10 11 10 14 10 14 10 6 10-2 10 13 10 5 10-2 10-13 10 1 10 11 10-4 10 2 10 3 10 6 10 12 10-4 10-3 10-7 10 12 10 8 10-10 10 9 10-1 10-10 10 21 10 7 10-13 10-9 10 17 10-7 10 8 10-6 10 0 10 4 10-2 10-10 10 7 10 7 10 27 10-21 10 24 10 11 10 3 10-13 10-8 10-10 10 3 10 22 10-10 10-5 10 10 10-13 10 13 10-5 10 12 10-5 10-12 10-1 10 8 10-4 10 16 10-17 10 3 10 12 10 12 10-5 10-1 10 11 10-5 10-12 10 5 10-2 10 13 10-3 10-12 10-5 10 12 10 11 10 2 10 8 10 0 10-7 10 7 10-17 10 5 10 10 10-3 10-2 10 4 10-1 10 2 10 11 10-12 10-2 10 2 10 5 10-10 10 13 10 4 10-1 10-10 10-7 10-20 9 14 10 5 10 4 10 8 10-22 10-5 10 15 10 8 10-12 10 0 10 21 10-12 10-11 10 15 10-8 10-8 10 1 10 6 10 7 10 4 10-14 10 1 10 0 10 10 10-9 10 4 10 7 10 4 10 10 10-4 10-6 10-11 10-3 10-26 10 11 10 19 10 8 10-4 10 6 10-17 10-2 10 3 10-1 10-18 10 15 10 6 10 1 10-1 10-4 10 17 10-7 10 3 10 1 10 2 10-7 10-6 10 4 10 6 10-3 10 1 10-4 10 0 10-1 10-9 10 4 10-6 10 5 10-3 10 5 10-4 10-7 10 10 10 2 10-7 10 10 10-4 10-10 10-15 10 12 10-20 10 2 10 34 10 3 10-1 10 4 10-11 10 13 10-14 10-3 10 0 10 8 10-3 10-2 10-4 10 10 10 1 10-13 10 12 10-1 10 5 10-13 10 3 10-8 10-1 10 7 10 10 10-21 10 10 10 11 10-3 9 12 10 6 10-4 10-9 10 13 10-10 10-13 10 5 10-20 10 14 10-9 10 8 10 9 10 7 10-1 10-7 10 21 10 3 10-30 10 9 10-7 10 13 10-2 10-2 10-3 10 9 10 1 10 10 10-3 10-11 10 13 10-10 10-27 10 10 10 1 10-2 10 1 10 16 10 5 10-12 10 1 10 11 10 2 10-16 10-3 10 10 10 0 10 14 10 2 10-17 10 5 10-2 10 9 10-11 10 1 10-2"/>
<path stroke="#76baf5" d="M15084 6097l10 11 10 11 10 21 10 10 10 34 10 50 10 51 10 10 10-1 10 21 10-12 9-12 10-14 10-31 10-2 10-10 10-20 10-38 10-13 10-19 10 20 10-12 10-23 10 16 10-13 10-460 10-1539 10-1611 10-1204 10-378 10 14 10-135 10 22 10 96 10-97 10 162 10-9 10-221 10 251 10-196 10 1039 10 847 10 825 10 553 10 542 10 439 10 404 10 332 10 238 10 234 10 179 10 139 10 96 10 62 10-15 10-3 10 11 10 11 10-4 10-8 10 18 10 2 10-28 10 12 10-1 10 5 10-6 10 2 10 2 10-18 10 1 10-3 10-18 10-12 10-17 10-1 10-1 10-3 10-12 10 4 10 7 10-37 10-5 10-4 10-36 10 14 10-26 10 4 10-22 10-16 10-20 10 5 10-18 10-31 10-20 10-8 10-22 10-23 10 10 10-21 10-43 10-27 10-22 10-27 10 5 10-45 10-23 10-60 10 15 10-37 10-18 10-23 10-13 10-18 10-23 10-15 10-2 10-54 10-19 10-10 10 14 9-31 10-20 10 48 10-34 10 33 10-18 10 0 10-4 10-5 10 29 10 1 10 20 10-5 10 38 10-25 10-2 10 31 10 10 10 1 10 20 10 26 10 46 10 17 10-14 10 27 10 15 10 25 10 1 10-7 10 41 10 4 10 10 10 8 10 21 10 2 10-28 10 38 10-2 10-30 10-8 10 20 10-38 10-17 10 7 10-29 10-36 10-13 10-21 10-20 10-33 10-16 10-4 10 13 10 9 10-46 10 5 10 16 10-17 10 1 10 27 10 14 10-4 10 68 10 42 10 43 10 43 10 70 10 36 10 33 10 52 10 56 10 51 10 42 10 57 10 29 10 56 10 61 10 44 10 60 10 26 10 13 10 39 10 7 10 33 10 38 10 23 10 5 10 17 10 25 10 12 10 13 10 35 10-20 10 16 10 11 10 30 10 10 10-10 10-4 10 5 10 0 10 17 10 10 10-2 10 2 10 17 10-4 10 1 10-5 10 18 9-4 10 13 10-19 10 11 10-5 10 6 10-9 10 13 10 5 10-10 10 11 10 4 10 13 10 0 10-5 10 14 10-12 10 13 10 20 10-4 10-7 10-11 10 1 10 16 10 3 10-6 10-4 10 16 10-10 10-2 10 14 10 1 10 16 10 6 10-7 10 0 10-1 10 11 10-15 10 0 10 7 10-2 10 22 10-3 10 1 10-3 10-3 10-11 10 9 10 15 10-5 10 6 10-16 10-11 10 3 10 16 10-7 10 16 10-6 10 3 10 23 10-12 10-18 10 15 10-25 10 29 10-1 10-2 10 4 10-12 10-8 10 17 10 15 10-5 10 4 10-10 10 2 10-3 10 2 10-12 10 14 10 15 10 4 10 3 10-24 10 6 10 14 10 4 10 3 10-1 10-15 10-4 10-1 10 13 10-9 10 8 10-5 10 1 10-19 10 24 10-1 10-4 10-14 10-2 10 12 10 15 10-11 10 9 10 1 10-10 10 0 9-10 10 5 10-9 10 3 10 16 10-4 10-3 10 0 10 7 10 2 10 0 10-1 10-5 10 4 10 0 10-11 10 7 10 6 10-7 10 10 10-24 10 3 10 16 10 1 10-7 10-4 10 12 10 0 10 2 10-9 10 17 10-8 10-16 10 1 10 1 10-4 10 15 10 9 10-11 10-4 10-12 10 18 10-17 10 15 10-15 10 3 10 5 10 12 10-4 10-8 10-4 10 10 10-5 10-4 10 12 10 11 10-28 10-4 10 8 10 8 10-14 10 4 10 28 10-10 10 7 10-16 10 13 10-9 10-5 10 22 10-21 10 4 10 1 10 4 10 2 10-9 10-8 10 5 10 9 10 1 10-4 10 1 10-3 10-2 10 25 10-30 10-1 10-9 10 3 10 17 10-4 10-4 10 4 10 4 10-6 10 5 10-9 10 9 10 10 10-3 10-4 10 9 10 8 10-14 10-2 10-6 10-8 10 8 10-4 10 0 9-8 10 11 10 15 10 8 10-20 10 2 10-5 10 4 10-2 10-8 10 6 10 3 10-3 10-10 10 6 10 10 10 0 10 4 10-3 10 4 10 1 10-6 10 0 10 0 10-4 10 9 10 11 10-20 10 8 10-21 10-3 10-2 10 17 10-9 10 12 10 6 10-9 10-5 10 9 10 0 10 1 10 4 10-5 10 2 10 5 10 2 10 8 10-2 10 4 10-9 10-2 10 2 10-2 10 2 10 5 10-4"/>
<path stroke="#70c2f1" d="M15084 6106l10 45 10-7 10 24 10 8 10 21 10 15 10 34 10 38 10 29 10 8 10-15 9-27 10-19 10 35 10-43 10-10 10-4 10-29 10-23 10-12 10-18 10-14 10 15 10-26 10 48 10-504 10-1542 10-1611 10-1204 10-438 10-19 10 131 10-62 10-123 10 181 10-175 10 39 10-68 10 141 10-98 10 1039 10 783 10 753 10 543 10 481 10 460 10 404 10 403 10 244 10 238 10 218 10 150 10 128 10 75 10 21 10 15 10-7 10 17 10-9 10-1 10-3 10 8 10-14 10-18 10 27 10-25 10 8 10 4 10-18 10 12 10-11 10-12 10-3 10-30 10 12 10-9 10 15 10-40 10 12 10 9 10-29 10-10 10-9 10 2 10-24 10-2 10-10 10-19 10-7 10-13 10-17 10-20 10-5 10-18 10-30 10 3 10-17 10-18 10-27 10-17 10-17 10-52 10-8 10-35 10-4 10-30 10-42 10-27 10-17 10-25 10-12 10-44 10-35 10-19 10-12 10-12 10-4 10 12 10-35 10 31 10-11 9-18 10-31 10 12 10-21 10 4 10-6 10-8 10 7 10-27 10 20 10 25 10 4 10-8 10 23 10 37 10 9 10 26 10 11 10 37 10 23 10-11 10-10 10 17 10 38 10 30 10-12 10-2 10 23 10 48 10 1 10 5 10 18 10 14 10-23 10 6 10 5 10 8 10-1 10-18 10-29 10-1 10-12 10-22 10 8 10-27 10-38 10-14 10 2 10-25 10-23 10-5 10 3 10-24 10 3 10-27 10 7 10 5 10 7 10 1 10 13 10 9 10 31 10 9 10 34 10 60 10 63 10 32 10 38 10 72 10 27 10 28 10 56 10 43 10 76 10 48 10 83 10 46 10 16 10 47 10 38 10 15 10 38 10 32 10 30 10 11 10 28 10 32 10 3 10 16 10 3 10-11 10 9 10 34 10 29 10 0 10 4 10 15 10-3 10 2 10 7 10-12 10 17 10 10 10 9 10 11 10 7 10-7 10 4 10 16 10-10 9-1 10-4 10 12 10-2 10 9 10-7 10-1 10 7 10 4 10 0 10 16 10-10 10 3 10 10 10 10 10 11 10-14 10-13 10 5 10 11 10 10 10 3 10 3 10-2 10 4 10 2 10 11 10 0 10-8 10-6 10 16 10 5 10 7 10-11 10 0 10 5 10-14 10-5 10 29 10-1 10-12 10 15 10 11 10 6 10-8 10-12 10-5 10 6 10-16 10 20 10-9 10 7 10 21 10-2 10-1 10-4 10-18 10 14 10-2 10 6 10 4 10-7 10-3 10 12 10-3 10 5 10 3 10-2 10-3 10 6 10-2 10 16 10-13 10 13 10 2 10-14 10 0 10 5 10 6 10 7 10 11 10-7 10-4 10 7 10-12 10 3 10 3 10 15 10-10 10 8 10 5 10-28 10 13 10-2 10-16 10 4 10 19 10-12 10 0 10 18 10-3 10-8 10 0 10-4 10-4 10 17 10-6 10 8 10 1 10-7 10 2 9-2 10 3 10-7 10-16 10 16 10 6 10-8 10-5 10-11 10 8 10-4 10-17 10 9 10 17 10 6 10 0 10 9 10-2 10-4 10-5 10-16 10 12 10 15 10-8 10-16 10 3 10 8 10 2 10-20 10 14 10 6 10 11 10-9 10-6 10 2 10 4 10-6 10 2 10 10 10-15 10-2 10-11 10-7 10 2 10 11 10-6 10 17 10 3 10 0 10 13 10 2 10 5 10-23 10 4 10-10 10 0 10-5 10-7 10 7 10-1 10 7 10 10 10-9 10 8 10 0 10 3 10-7 10 3 10 8 10 0 10-18 10 9 10 1 10-4 10-3 10 10 10-7 10 2 10 8 10 13 10-10 10 0 10 1 10-4 10-5 10 14 10-10 10 7 10-13 10 11 10-19 10-15 10 10 10 8 10 5 10-11 10 0 10-13 10 16 10 9 10-1 10 5 10-19 10 9 10-3 10 9 10 6 10-9 10 16 10-2 9-10 10-7 10 19 10 2 10-14 10 2 10 7 10-8 10-10 10 17 10-3 10-3 10 8 10-5 10-4 10-21 10 6 10-1 10 5 10 20 10 8 10-16 10-9 10-16 10 17 10 8 10-9 10-4 10 0 10 7 10 15 10 6 10-8 10-23 10 15 10 18 10-7 10-9 10 0 10 12 10 4 10-9 10-5 10-4 10 8 10-8 10 5 10-3 10-2 10 4 10-3 10 0 10 6 10 9 10 1 10-5"/>
<path stroke="#6acaec" d="M15084 6112l10-18 10 12 10 36 10 32 10 61 10 30 10 5 10 44 10 3 10-36 10 8 9-20 10 9 10 25 10-25 10-23 10-4 10-52 10 0 10-20 10-3 10-27 10 2 10 18 10-21 10-473 10-1542 10-1611 10-1204 10-521 10 182 10 95 10 64 10-212 10 81 10-149 10 44 10 71 10-201 10 55 10 1039 10 729 10 693 10 540 10 433 10 433 10 409 10 404 10 320 10 239 10 235 10 177 10 140 10 99 10 44 10 37 10-6 10-5 10 19 10-16 10-6 10 12 10 18 10-25 10-4 10 19 10-3 10-11 10-27 10-17 10 1 10 27 10-17 10-15 10-9 10 6 10-19 10-12 10-20 10 26 10-16 10-14 10-7 10 7 10-11 10-35 10-36 10 0 10-8 10-6 10 16 10-30 10-23 10-32 10-9 10-9 10-23 10-20 10-17 10-37 10-24 10 10 10-24 10-2 10-40 10-41 10-10 10-52 10-13 10-47 10-10 10-10 10-7 10-19 10-9 10-32 10-10 10 5 10-12 10-19 10-9 9-20 10-18 10 29 10-27 10 14 10 16 10-17 10-11 10 9 10-25 10 3 10 12 10 21 10-5 10 1 10 47 10 33 10-2 10 48 10 11 10-13 10 31 10 10 10 36 10 22 10 37 10-28 10-1 10 14 10 27 10 9 10 15 10 22 10-11 10 5 10 20 10-25 10 7 10-7 10-15 10-10 10-19 10-54 10-13 10-15 10-38 10-8 10-5 10 14 10-19 10-17 10-7 10-5 10-6 10-20 10 11 10-16 10-16 10 21 10 17 10 23 10 15 10 48 10 11 10 69 10 32 10 54 10 38 10 23 10 85 10 42 10 32 10 67 10 29 10 68 10 41 10 41 10 50 10 20 10 29 10 38 10 38 10 34 10 29 10 15 10 27 10-3 10 19 10 6 10 32 10 15 10 18 10-11 10 16 10 12 10 10 10 15 10-5 10 2 10 11 10 9 10 10 10-6 10 14 10 6 10 7 10 2 10-15 10 10 10 7 9 0 10 6 10 17 10-3 10-13 10-2 10-1 10 0 10 9 10 23 10-7 10-16 10 13 10 1 10 7 10 9 10-7 10 16 10-5 10 1 10-7 10-4 10 12 10 17 10 2 10 4 10-1 10 7 10-1 10 1 10 0 10 5 10 7 10-13 10 15 10-6 10-9 10 7 10 10 10-15 10-2 10 6 10 10 10 4 10 2 10-10 10 1 10 12 10 10 10 10 10-17 10 3 10 4 10-7 10 2 10 0 10-9 10 7 10 14 10-9 10-4 10 1 10 4 10-18 10 17 10-2 10 2 10 7 10-17 10 17 10 1 10-13 10 3 10 0 10 10 10 1 10-1 10-9 10 16 10 5 10-2 10-4 10 10 10-11 10 20 10 8 10-13 10 14 10 0 10-16 10 5 10-2 10-11 10 14 10-10 10 9 10 7 10-3 10-17 10 16 10-4 10 4 10 6 10-6 10 4 10-3 10-6 10-2 10 1 10 17 10 3 9 0 10-5 10-7 10 9 10-3 10 4 10-9 10 8 10 8 10-18 10-6 10-14 10 1 10 19 10-9 10 1 10-4 10-8 10 30 10-12 10 0 10-15 10 1 10 21 10 7 10-12 10-6 10 2 10 4 10 18 10-10 10 4 10-17 10 7 10-11 10 1 10-1 10 1 10 9 10-7 10 1 10-8 10 4 10-8 10 13 10-2 10-4 10 22 10-9 10-7 10-2 10-5 10 12 10 1 10-3 10 8 10-5 10-5 10 8 10-10 10 17 10 0 10-8 10-14 10 17 10-12 10 6 10-6 10 23 10-25 10-4 10-10 10 1 10 18 10-5 10 1 10 18 10-13 10 6 10-23 10 19 10-19 10 27 10-6 10-3 10-4 10 1 10 7 10 6 10-10 10 3 10-4 10 0 10 3 10-7 10 13 10-21 10 2 10 10 10-5 10 5 10-15 10 15 10-6 10 6 10-13 10 10 10 1 10 13 10-1 9-8 10-5 10-2 10-8 10-4 10 15 10-8 10-3 10-2 10 7 10 8 10-4 10 12 10-2 10-11 10 16 10-14 10-9 10-9 10 15 10 22 10-22 10-2 10 0 10 14 10-16 10 1 10 11 10 2 10-2 10 8 10-14 10 7 10 5 10 0 10-11 10-10 10 16 10-5 10 0 10-4 10-3 10 5 10 21 10-2 10-7 10-5 10-8 10 18 10-1 10-8 10 1 10-1 10 15 10-10 10-13"/>
<path stroke="#64d2e8" d="M15084 6107l10-2 10 24 10 45 10-6 10 53 10 35 10 35 10 12 10-12 10 34 10-17 9-16 10-7 10 1 10-9 10-2 10-22 10-16 10-23 10-26 10-26 10 18 10-29 10 14 10 6 10-493 10-1545 10-1611 10-1204 10-457 10 40 10 76 10 89 10-155 10-27 10-109 10 0 10 109 10-67 10 10 10 1039 10 683 10 641 10 542 10 393 10 394 10 398 10 404 10 395 10 240 10 237 10 212 10 155 10 134 10 59 10 38 10 0 10-1 10 21 10-1 10-7 10-12 10 15 10-1 10-10 10 14 10 11 10-23 10-16 10 2 10-23 10-15 10-1 10 4 10-11 10 12 10-5 10-11 10-20 10 16 10-23 10 3 10-22 10-8 10-12 10 6 10-3 10-25 10-28 10-7 10-10 10-5 10-30 10-6 10-39 10-1 10-12 10-35 10 8 10-37 10-45 10-16 10-7 10-28 10-45 10-6 10 14 10-30 10-23 10-26 10-17 10-37 10-43 10-31 10-19 10 16 10-14 10-29 10-11 10 9 10 8 9-14 10 0 10-18 10-40 10 18 10 30 10-11 10 30 10-44 10 15 10 16 10 19 10 12 10-2 10 6 10 10 10 16 10 17 10 25 10-3 10 28 10 30 10-14 10 16 10 50 10-2 10 10 10 17 10-6 10-10 10 31 10 14 10 20 10 13 10-20 10 1 10 6 10 2 10-16 10-1 10-19 10 16 10-66 10 2 10-7 10-38 10-7 10-39 10-13 10-10 10 29 10-32 10 5 10-31 10 25 10-19 10-3 10-14 10 18 10 27 10 11 10 6 10 30 10 48 10 45 10 38 10 42 10 41 10 33 10 40 10 67 10 56 10 35 10 48 10 49 10 50 10 37 10 55 10 39 10 31 10 62 10 11 10 21 10 47 10 15 10-7 10 38 10-13 10 21 10 28 10-4 10 27 10-2 10 14 10-1 10 10 10 14 10 23 10 10 10-2 10 12 10-16 10 9 10 1 10 19 10-15 10-12 10 17 10 16 10-10 9 2 10-4 10 1 10 17 10-10 10 14 10 15 10-13 10 10 10-26 10 17 10 14 10 4 10 12 10 11 10-13 10-6 10 1 10 13 10 2 10 3 10-2 10 5 10 0 10 8 10 2 10-3 10 6 10 2 10 6 10 4 10 3 10 3 10-11 10 0 10-3 10 3 10 0 10-2 10-9 10 17 10-3 10 7 10 11 10-14 10-9 10 7 10-6 10 15 10-10 10 10 10 16 10-2 10-5 10 14 10-2 10-7 10 0 10 6 10-2 10 2 10 6 10-13 10-19 10 29 10 6 10-7 10 16 10-2 10-14 10-7 10 15 10 7 10 1 10 4 10-20 10-6 10 17 10 0 10-5 10 2 10 13 10-4 10 1 10 1 10 6 10-6 10 1 10 9 10-2 10 16 10-12 10-2 10 7 10-2 10-16 10-5 10 16 10-2 10 7 10-27 10 3 10 17 10 3 10-14 10 26 10-2 10-18 10 0 10-13 10 15 9 16 10-15 10 3 10-3 10 4 10-15 10 9 10 7 10 12 10-9 10-6 10 2 10-10 10 1 10 7 10 4 10-12 10-1 10-3 10-4 10-4 10 20 10 7 10-7 10-11 10 9 10-9 10 14 10-2 10 3 10-8 10 2 10 9 10-5 10 3 10-1 10-6 10 7 10-11 10 2 10 5 10-3 10-24 10 33 10-5 10-16 10 16 10 2 10-20 10 13 10 2 10-7 10 0 10 9 10-14 10 7 10 13 10-21 10 15 10-16 10 12 10 3 10 9 10 1 10-1 10-2 10-4 10 2 10 0 10 1 10-1 10 6 10 1 10-13 10-3 10 9 10 3 10-8 10 3 10 0 10-12 10 6 10 9 10-3 10 3 10 10 10-21 10 15 10-3 10-20 10-3 10 7 10-8 10-1 10-4 10 12 10 3 10-16 10 24 10-12 10 6 10 9 10-4 10 4 10 7 10-11 10-2 10 5 10-13 10 3 9-15 10 19 10-5 10 21 10-15 10-2 10-11 10 15 10-11 10-3 10 16 10 2 10-2 10 9 10 3 10-22 10 5 10 2 10-12 10-2 10 4 10-1 10 13 10 17 10-12 10-10 10-18 10 18 10 7 10 7 10-26 10 12 10-1 10 7 10 11 10 4 10-11 10-4 10-1 10-6 10 2 10 3 10-7 10 2 10 12 10 11 10-17 10 1 10-8 10 8 10 0 10 11 10-22 10 14 10 3 10 10"/>
</g>
<text class="tl" text-anchor="end" transform="translate(1494.3 755.9) scale(1 1.035)">0.0</text>
<text class="tl" text-anchor="end" transform="translate(1494.3 622.5) scale(1 1.035)">0.2</text>
<text class="tl" text-anchor="end" transform="translate(1494.3 489.2) scale(1 1.035)">0.4</text>
<text class="tl" text-anchor="end" transform="translate(1494.3 355.8) scale(1 1.035)">0.6</text>
<text class="tl" text-anchor="end" transform="translate(1494.3 222.5) scale(1 1.035)">0.8</text>
<text class="tl" text-anchor="end" transform="translate(1494.3 89.1) scale(1 1.035)">1.0</text>
<text class="tl" text-anchor="middle" transform="translate(1554.5 786.0) scale(1 1.030)">1000</text>
<text class="tl" text-anchor="middle" transform="translate(1669.8 786.0) scale(1 1.030)">1500</text>
<text class="tl" text-anchor="middle" transform="translate(1785.2 786.0) scale(1 1.030)">2000</text>
<text class="tl" text-anchor="middle" transform="translate(1900.5 786.0) scale(1 1.030)">2500</text>
<text class="tl" text-anchor="middle" transform="translate(2015.9 786.0) scale(1 1.030)">3000</text>
<text class="ax" text-anchor="middle" x="1763.1" y="834.8">Raman Shift (cm<tspan class="sup" dy="-14.2">-1</tspan><tspan dy="14.2">)</tspan></text>
<text class="ax ay" text-anchor="middle" transform="translate(1424.3 408.2) rotate(-90)">Intensity (a.u.)</text>
<text class="pl" x="1380.6" y="51.6">c</text>
<text class="ti" transform="translate(1786.7 118.5) scale(1 1.040)">AMC-500</text>
<rect x="1802.0" y="264.0" width="4.4" height="375.0" fill="url(#ag)"/><path d="M1795.4 636.6h17.6l-8.8 18.4z" fill="#78cde6"/>
<text class="t0" transform="translate(1833.4 268.4) scale(1 1.050)" stroke="#fff" stroke-width="0.5">0</text>
<text class="t1" transform="translate(1826.0 657.0) scale(1 1.030)" stroke="#fff" stroke-width="0.5">200 s</text>
</g>
</svg></body></html>
